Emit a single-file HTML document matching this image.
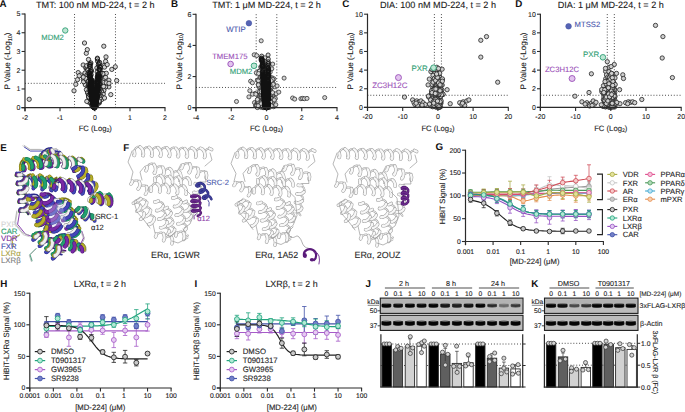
<!DOCTYPE html>
<html><head><meta charset="utf-8"><style>
html,body{margin:0;padding:0;background:#fff;width:685px;height:412px;overflow:hidden}
svg{display:block;font-family:"Liberation Sans", sans-serif;text-rendering:geometricPrecision}
</style></head><body>
<svg width="685" height="412" viewBox="0 0 685 412">
<defs><marker id="f0" markerUnits="userSpaceOnUse" markerWidth="8" markerHeight="8" refX="4" refY="4" overflow="visible"><circle cx="4" cy="4" r="2.15" fill="#d2d2d2" stroke="#1a1a1a" stroke-width="0.8"/></marker><marker id="k1" markerUnits="userSpaceOnUse" markerWidth="8" markerHeight="8" refX="4" refY="4" overflow="visible"><circle cx="4" cy="4" r="2.15" fill="#d2d2d2" stroke="none" stroke-width="0"/></marker><marker id="k1s" markerUnits="userSpaceOnUse" markerWidth="8" markerHeight="8" refX="4" refY="4" overflow="visible"><circle cx="4" cy="4" r="2.15" fill="none" stroke="#111" stroke-width="0.8"/></marker><marker id="f3" markerUnits="userSpaceOnUse" markerWidth="8" markerHeight="8" refX="4" refY="4" overflow="visible"><circle cx="4" cy="4" r="2.05" fill="#d4d4d4" stroke="#282828" stroke-width="0.75"/></marker><marker id="k4" markerUnits="userSpaceOnUse" markerWidth="8" markerHeight="8" refX="4" refY="4" overflow="visible"><circle cx="4" cy="4" r="2.05" fill="#d4d4d4" stroke="none" stroke-width="0"/></marker><marker id="k4s" markerUnits="userSpaceOnUse" markerWidth="8" markerHeight="8" refX="4" refY="4" overflow="visible"><circle cx="4" cy="4" r="2.05" fill="none" stroke="#111" stroke-width="0.8"/></marker><marker id="mc" markerUnits="userSpaceOnUse" markerWidth="8" markerHeight="8" refX="4" refY="4" overflow="visible"><circle cx="4" cy="4" r="2.15" fill="#cfcfcf" stroke="#222" stroke-width="0.8"/></marker><path id="p1" d="M24.0 146.0l6 4l10 0l10 2l6-3l4 3"/><path id="p2" d="M18.0 212.0l-2 12l8 10l6 2"/><path id="p3" d="M36.0 250.0l-6 6l2 6"/><path id="p4" d="M80.0 246.0l4-8l-2-6"/><path id="p5" d="M91.0 190.0l3 8l-4 4"/><path id="p6" d="M20.0 236.0l-8 4l2 8"/><path id="b7" d="M42.8 155.9l0.4-1.3l1.4-1.9l2-1.6l2.3-0.6l2 0.9M51.2 159.1l0.6-1.5l1.5-1.9l2.2-1.4l2.3-0.3l1.8 1.1"/><path id="f7" d="M43.7 154.5l-0.6 1.4l-0.3 0M50.9 151.4l1.2 2.1l0.2 2.6l-0.4 2.2l-0.5 1.2l-0.2-0.3M59.5 155.2l1 2.3l0.1 2.6l-0.5 2"/><path id="b8" d="M21.5 169.5l-0.6-0.9l-0.3-2.4l0.5-3.1l1.5-2.6l2.2-1.1M30.3 168.3l-0.6-1.2l-0.2-2.6l0.7-3.1l1.6-2.4l2.3-0.8M39.1 167.0l-0.6-1.4l-0.1-2.8l0.9-3.1l1.8-2.2l2.4-0.5"/><path id="f8" d="M21.5 166.1l0.4 2.4l-0.4 1M24.8 159.4l2.4 0.8l2.1 2.3l1.2 2.8l0.2 2.3l-0.4 0.7M34.1 158.1l2.4 1.1l2 2.4l1 2.9l0.1 2l-0.5 0.4M43.4 156.9l2.4 1.3l1.8 2.6l0.9 2.8l-0.1 1.9l-0.5 0.1"/><path id="b9" d="M46.8 165.8l-0.2-1.5l0.6-2.6l1.5-2.8l2.2-1.8l2.4-0M55.7 166.9l-0.2-1.5l0.6-2.7l1.5-2.7l2.2-1.8l2.4 0M64.6 167.9l-0.2-1.5l0.6-2.7l1.5-2.7l2.3-1.8l2.4 0M73.6 169.0l-0.2-1.5l0.6-2.7l1.6-2.7l2.2-1.8l2.4 0"/><path id="f9" d="M47.8 163.6l-0.4 2l-0.6 0.3M53.3 157.1l2 1.7l1.2 2.9l0.3 2.9l-0.5 2l-0.6 0.3M62.2 158.2l2 1.7l1.2 2.9l0.2 2.9l-0.4 2l-0.6 0.2M71.2 159.2l2 1.7l1.2 2.9l0.2 3l-0.4 1.9l-0.6 0.2M80.2 160.3l2 1.8"/><path id="b10" d="M74.4 171.0l0.5-0.8l1.9-1.2l2.8-0.8l2.7 0.2l2 1.4M79.5 178.3l0.6-0.8l1.9-1.2l2.8-0.8l2.8 0.2l1.8 1.5M84.7 185.7l0.6-0.9l2-1.2l2.8-0.7l2.8 0.3l1.8 1.5"/><path id="f10" d="M77.1 169.5l-1.7 1.3l-0.9 0.2M84.3 169.7l0.5 2.3l-0.9 2.7l-1.7 2.2l-1.8 1.3l-0.8 0.1M89.4 177.2l0.4 2.3l-0.9 2.7l-1.8 2.2l-1.7 1.3l-0.8 0M94.6 184.7l0.4 2.4l-1 2.6l-1.8 2.2l-1.7 1.2"/><path id="b11" d="M24.1 184.3l0.2-2.3l1.1-2.9l2-2.3l2.5-0.8l2.3 1.1M33.3 186.1l-0.4-1.1l0.4-2.5l1.4-2.9l2.2-2.1l2.5-0.3M42.1 187.1l-0.2-1.5l0.6-2.8l1.7-2.8l2.3-1.6l2.4 0.1M51.0 187.9l-0-1.9l0.9-2.9l1.8-2.6l2.4-1.2"/><path id="f11" d="M25.3 181.0l-0.1 2.7l-0.6 1.3l-0.5-0.7M32.1 177.1l1.5 2.6l0.6 3.2l-0.3 2.4l-0.6 0.8M39.4 177.2l2.1 1.6l1.3 2.8l0.4 3.1l-0.5 2.1l-0.6 0.3M49.0 178.5l2 2l1 3l0.1 2.9l-0.5 1.7l-0.6-0.2"/><path id="b12" d="M55.0 187.8l-0.3-1.1l0.5-2.4l1.4-2.7l2.1-1.9l2.4-0.3M63.9 189.0l-0.2-1.2l0.5-2.5l1.5-2.7l2.2-1.8l2.3-0.1M72.8 190.2l-0.2-1.4l0.7-2.5l1.5-2.6l2.3-1.7l2.3 0M81.7 191.4l-0.1-1.5l0.7-2.6l1.7-2.6l2.2-1.5l2.4 0.2"/><path id="f12" d="M55.9 184.9l-0.3 2.2l-0.6 0.7M61.1 179.4l2.1 1.4l1.2 2.7l0.4 2.9l-0.3 2.1l-0.6 0.5M70.3 180.7l2 1.6l1.2 2.7l0.3 2.9l-0.4 2l-0.6 0.3M79.4 182.0l1.9 1.7l1.1 2.8l0.2 2.9l-0.4 1.8l-0.5 0.2M88.5 183.3l1.9 1.9l1 2.8l0.1 2.8"/><path id="b13" d="M16.3 174.1l0.8-0.3l2.1 0l2.5 0.8l2 1.5l0.8 2.1M17.2 183.0l1.1-0.3l2.2 0.2l2.5 0.9l1.9 1.6l0.4 2.1M18.1 191.9l1.3-0.2l2.4 0.3l2.5 1l1.6 1.8l0.2 2.1M19.1 200.8l1.6-0.2l2.4 0.5l2.4 1.1l1.4 1.9l-0.1 2.2M20.2 209.7l1.8-0.1l2.5 0.6l2.3 1.3l1.1 2"/><path id="f13" d="M19.0 174.0l-1.9 0.4l-0.8-0.2M24.5 178.2l-0.8 2.1l-2 1.8l-2.3 0.9l-1.8 0.3l-0.4-0.3M25.3 187.6l-1 2.1l-2.2 1.6l-2.3 0.8l-1.5 0.2l-0.2-0.3M26.1 196.9l-1.3 2l-2.2 1.5l-2.3 0.7l-1.3 0l0.1-0.3M26.8 206.3l-1.5 2l-2.3 1.3l-2.2 0.5l-1.1-0l0.5-0.4"/><path id="b14" d="M29.1 197.2l1.9-0.8l3-0.4l3 0.6l2.1 1.7l0.3 2.5M32.2 205.6l2.1-0.8l3.1-0.2l3 0.8l1.8 1.8l-0 2.5M35.2 214.0l2.3-0.7l3.2-0.1l2.8 1l1.6 2M37.4 223.2l1-0.8l2.6-0.7l3.2 0.1l2.6 1.2l1.3 2.1"/><path id="f14" d="M30.6 197.7l-1.6 0.1l0.1-0.6M39.4 200.8l-1.4 2.6l-2.5 2l-2.4 1l-1.4-0l0.4-0.8M42.2 209.7l-1.6 2.5l-2.6 1.9l-2.3 0.8l-1.1-0.2l0.7-0.7M45.1 216.2l-0.3 2.5l-1.9 2.5l-2.6 1.7l-2.1 0.7l-0.8-0.4M48.0 225.1l-0.6 2.6l-2.1 2.3"/><path id="b15" d="M42.6 195.7l1.1-0.8l2.7-0.5l3.3 0.3l2.7 1.4l1.1 2.2M44.9 204.3l1.4-0.8l2.9-0.4l3.3 0.5l2.5 1.5l0.7 2.4M47.2 212.9l1.7-0.8l3.1-0.3l3.2 0.7l2.2 1.7l0.5 2.4M49.6 221.5l2-0.8l3.1-0.1l3.2 0.8l2 1.9l0.1 2.5M52.1 230.1l2.3-0.7l3.2-0"/><path id="f15" d="M45.7 195.7l-2.3 0.5l-0.8-0.5M53.5 198.4l-0.8 2.6l-2.4 2.2l-2.8 1.4l-2.1 0.3l-0.5-0.5M55.7 207.5l-1.1 2.6l-2.5 2.1l-2.8 1.2l-1.9 0.1l-0.2-0.6M57.9 216.7l-1.4 2.6l-2.7 2l-2.7 1l-1.6-0.1l0.1-0.7M60.0 225.8l-1.7 2.5l-2.7 1.9l-2.6 0.8l-1.4-0.2l0.5-0.7"/><path id="b16" d="M58.3 201.1l1-0.8l2.5-0.7l3.1 0l2.6 1.1l1.2 2.1M61.6 209.3l1.4-0.9l2.7-0.5l3.1 0.2l2.3 1.4l0.8 2.2M65.1 217.5l1.7-0.9l2.9-0.4l3 0.5l2.1 1.6l0.4 2.3M68.6 225.7l2.1-0.8l3-0.3l2.8 0.7l1.8 1.8l0 2.4M71.3 234.7l0.8-0.8"/><path id="f16" d="M61.0 200.6l-2 0.7l-0.7-0.3M68.7 202.8l-0.6 2.6l-1.9 2.3l-2.4 1.6l-1.8 0.5l-0.4-0.5M72.0 211.7l-0.9 2.6l-2.1 2.2l-2.4 1.3l-1.6 0.3l0.1-0.6M75.2 220.6l-1.2 2.6l-2.3 2l-2.3 1.1l-1.2 0.1l0.4-0.7M78.3 229.6l-1.5 2.5l-2.4 1.9l-2.1 0.9l-1-0.2"/><path id="b17" d="M34.4 235.8l1.6-1.6l2.6-1.5l3-0.5l2.2 0.9M40.7 242.8l0.5-1.1l1.9-1.7l2.8-1.3l2.9-0.2l2 1.3M47.2 248.9l0.9-1.4l2.2-1.6l2.9-1.1l2.7 0.2l1.7 1.7M53.8 254.8l1.2-1.5l2.5-1.6l2.9-0.8l2.6 0.5"/><path id="f17" d="M37.0 234.2l-1.6 1.9l-1.1 0.6l0.2-0.9M43.9 233.2l1 2.3l-0.4 2.9l-1.4 2.7l-1.6 1.6l-0.8 0.2M50.8 239.9l0.6 2.5l-0.7 3l-1.5 2.5l-1.5 1.2l-0.5-0.2M57.6 246.6l0.3 2.7l-1 3l-1.6 2.2l-1.3 0.9l-0.2-0.6"/><path id="b18" d="M57.1 240.4l0.4-1.1l1.5-1.9l2.4-1.6l2.6-0.5l2.1 1M64.7 245.0l0.8-1.5l1.9-1.8l2.5-1.3l2.5-0.1l1.7 1.5M72.4 249.4l1.2-1.7l2.2-1.8l2.6-0.9l2.3 0.5"/><path id="f18" d="M58.8 238.4l-1 1.7l-0.7 0.3M66.1 236.3l1 2.3l-0.2 2.9l-0.9 2.4l-1 1.3l-0.3-0.2M74.2 241.8l0.6 2.6l-0.5 2.8l-1 2.2l-0.8 0.7l-0-0.7M80.7 245.5l1.4 1.9l0.2 2.8"/><path id="b19" d="M77.0 210.5l1.5-1.2l2.4-1.1l2.6-0.2l1.9 1.1M83.1 217.3l0.8-1l2-1.2l2.6-0.8l2.4 0.4l1.4 1.6"/><path id="f19" d="M78.9 208.8l-1.3 1.8l-0.8 0.5l0.3-0.6M85.4 209.1l0.8 2.1l-0.4 2.6l-1.2 2.3l-1.2 1.3l-0.3-0M92.3 216.3l0.2 2.4"/><path id="b20" d="M91.8 201.9l0.1-1.2l0.8-2.1l1.5-2.1l2.1-1.2l2.1 0.2M100.7 203.2l0.2-1.4l0.9-2.2l1.7-2l2.1-1l2 0.5"/><path id="f20" d="M92.4 200.1l-0.2 1.6l-0.3 0.2M98.4 195.5l1.7 1.6l0.9 2.4l0.2 2.4l-0.2 1.4l-0.3-0.1M107.6 197.0l1.6 1.8l0.8 2.5l0.1 2.2l-0.3 1.2"/><g id="Fg" fill="none" stroke-linejoin="round" stroke-linecap="round"><path d="M133.8 155.4l-0.2-1.7l0.5-2.8l1.5-2.6l2.1-1.6l2.3 0.2M142.6 155.6l-0.2-1.8l0.6-2.8l1.5-2.6l2.2-1.5l2.3 0.3M151.3 155.7l-0.1-1.9l0.7-2.8l1.5-2.6l2.2-1.3l2.3 0.4M160.1 155.8l-0.1-2l0.8-2.8l1.6-2.5l2.2-1.2l2.3 0.5M168.9 155.9l-0-2.1l0.8-2.9l1.7-2.4l2.2-1.1l2.3 0.7M177.6 156.1l0-2.2l0.9-2.8l1.7-2.4l2.3-1l2.2 0.9M186.4 156.2l0.1-2.3l0.9-2.8l1.8-2.3l2.3-0.8M195.6 157.2l-0.4-1l0.1-2.4l1-2.8l1.9-2.2l2.3-0.7M204.4 157.4l-0.4-1.1l0.2-2.4l1.1-2.9l1.9-2.1l2.3-0.5" stroke="#a8a8a8" stroke-width="2.0"/><path d="M133.8 155.4l-0.2-1.7l0.5-2.8l1.5-2.6l2.1-1.6l2.3 0.2M142.6 155.6l-0.2-1.8l0.6-2.8l1.5-2.6l2.2-1.5l2.3 0.3M151.3 155.7l-0.1-1.9l0.7-2.8l1.5-2.6l2.2-1.3l2.3 0.4M160.1 155.8l-0.1-2l0.8-2.8l1.6-2.5l2.2-1.2l2.3 0.5M168.9 155.9l-0-2.1l0.8-2.9l1.7-2.4l2.2-1.1l2.3 0.7M177.6 156.1l0-2.2l0.9-2.8l1.7-2.4l2.3-1l2.2 0.9M186.4 156.2l0.1-2.3l0.9-2.8l1.8-2.3l2.3-0.8M195.6 157.2l-0.4-1l0.1-2.4l1-2.8l1.9-2.2l2.3-0.7M204.4 157.4l-0.4-1.1l0.2-2.4l1.1-2.9l1.9-2.1l2.3-0.5" stroke="#ececec" stroke-width="1.0"/><path d="M134.3 151.1l0.4 2.7l-0.3 1.7l-0.6-0.1M140.0 146.9l2 1.8l1.2 2.8l0.3 2.7l-0.4 1.5l-0.5-0.1M149.0 147.2l1.9 1.9l1.1 2.9l0.3 2.6l-0.4 1.4l-0.5-0.3M157.9 147.5l1.9 2l1 2.9l0.2 2.6l-0.4 1.3l-0.5-0.5M166.9 147.8l1.8 2.1l1 2.9l0.1 2.5l-0.4 1.2l-0.5-0.6M175.8 148.2l1.8 2.2l0.9 2.9l0.1 2.4l-0.5 1.1l-0.5-0.7M184.8 148.5l1.7 2.3l0.9 2.9l-0 2.3l-0.5 1l-0.5-0.9M191.5 147.9l2.2 1l1.7 2.3l0.8 2.9l-0.1 2.3l-0.5 0.8M200.5 148.2l2.2 1.1l1.6 2.4l0.7 2.9l-0.1 2.2l-0.5 0.7M209.5 148.4l2.2 1.2" stroke="#9e9e9e" stroke-width="3.4"/><path d="M134.3 151.1l0.4 2.7l-0.3 1.7l-0.6-0.1M140.0 146.9l2 1.8l1.2 2.8l0.3 2.7l-0.4 1.5l-0.5-0.1M149.0 147.2l1.9 1.9l1.1 2.9l0.3 2.6l-0.4 1.4l-0.5-0.3M157.9 147.5l1.9 2l1 2.9l0.2 2.6l-0.4 1.3l-0.5-0.5M166.9 147.8l1.8 2.1l1 2.9l0.1 2.5l-0.4 1.2l-0.5-0.6M175.8 148.2l1.8 2.2l0.9 2.9l0.1 2.4l-0.5 1.1l-0.5-0.7M184.8 148.5l1.7 2.3l0.9 2.9l-0 2.3l-0.5 1l-0.5-0.9M191.5 147.9l2.2 1l1.7 2.3l0.8 2.9l-0.1 2.3l-0.5 0.8M200.5 148.2l2.2 1.1l1.6 2.4l0.7 2.9l-0.1 2.2l-0.5 0.7M209.5 148.4l2.2 1.2" stroke="#f7f7f7" stroke-width="2.3"/><path d="M145.7 170.5l0.3-1.7l1.3-2.4l2.1-2.1l2.4-0.8l2.1 0.9M154.2 172.7l0.5-2l1.5-2.4l2.2-1.9l2.4-0.4l2 1.3M162.6 174.8l0.7-2.1l1.7-2.5l2.3-1.6l2.3-0M171.2 178.1l-0-1.2l0.9-2.3l1.8-2.4l2.4-1.3l2.3 0.3M179.5 180.4l0.2-1.5l1.1-2.4" stroke="#a8a8a8" stroke-width="2.0"/><path d="M145.7 170.5l0.3-1.7l1.3-2.4l2.1-2.1l2.4-0.8l2.1 0.9M154.2 172.7l0.5-2l1.5-2.4l2.2-1.9l2.4-0.4l2 1.3M162.6 174.8l0.7-2.1l1.7-2.5l2.3-1.6l2.3-0M171.2 178.1l-0-1.2l0.9-2.3l1.8-2.4l2.4-1.3l2.3 0.3M179.5 180.4l0.2-1.5l1.1-2.4" stroke="#ececec" stroke-width="1.0"/><path d="M147.1 166.6l-0.3 2.7l-0.7 1.4l-0.4-0.2M153.9 164.4l1.3 2.3l0.4 3l-0.4 2.5l-0.7 1.1l-0.3-0.6M162.7 167.2l1.1 2.6l0.2 2.9l-0.5 2.2l-0.7 0.8l-0.2-0.9M169.7 168.6l1.8 1.6l0.9 2.7l0 2.9l-0.6 2l-0.6 0.4M178.6 171.2l1.6 1.9l0.7 2.8l-0.1 2.8l-0.7 1.7l-0.5 0" stroke="#9e9e9e" stroke-width="3.4"/><path d="M147.1 166.6l-0.3 2.7l-0.7 1.4l-0.4-0.2M153.9 164.4l1.3 2.3l0.4 3l-0.4 2.5l-0.7 1.1l-0.3-0.6M162.7 167.2l1.1 2.6l0.2 2.9l-0.5 2.2l-0.7 0.8l-0.2-0.9M169.7 168.6l1.8 1.6l0.9 2.7l0 2.9l-0.6 2l-0.6 0.4M178.6 171.2l1.6 1.9l0.7 2.8l-0.1 2.8l-0.7 1.7l-0.5 0" stroke="#f7f7f7" stroke-width="2.3"/><path d="M181.0 168.4l0.6-1.5l1.6-2l2.4-1.6l2.4-0.4l1.9 1.2M188.9 172.2l0.8-1.7l1.7-2l2.4-1.4l2.4-0.1l1.8 1.4M196.8 175.9l0.9-1.8l1.9-2l2.5-1.2l2.3 0.1l1.6 1.6" stroke="#a8a8a8" stroke-width="2.0"/><path d="M181.0 168.4l0.6-1.5l1.6-2l2.4-1.6l2.4-0.4l1.9 1.2M188.9 172.2l0.8-1.7l1.7-2l2.4-1.4l2.4-0.1l1.8 1.4M196.8 175.9l0.9-1.8l1.9-2l2.5-1.2l2.3 0.1l1.6 1.6" stroke="#ececec" stroke-width="1.0"/><path d="M182.9 164.9l-0.7 2.5l-0.8 1.2l-0.4-0.2M189.9 164.1l0.9 2.4l-0.1 2.8l-0.7 2.3l-0.8 1.1l-0.3-0.5M197.9 168.4l0.7 2.5l-0.2 2.8l-0.8 2.2l-0.8 0.8l-0-0.7M206.0 172.6l0.6 2.6l-0.4 2.8" stroke="#9e9e9e" stroke-width="3.4"/><path d="M182.9 164.9l-0.7 2.5l-0.8 1.2l-0.4-0.2M189.9 164.1l0.9 2.4l-0.1 2.8l-0.7 2.3l-0.8 1.1l-0.3-0.5M197.9 168.4l0.7 2.5l-0.2 2.8l-0.8 2.2l-0.8 0.8l-0-0.7M206.0 172.6l0.6 2.6l-0.4 2.8" stroke="#f7f7f7" stroke-width="2.3"/><path d="M130.8 184.0l0.7-1.1l1.7-1.4l2.2-1.1l2.2-0l1.6 1.1M138.0 189.0l0.8-1.1l1.6-1.5l2.3-1l2.2 0l1.6 1.2" stroke="#a8a8a8" stroke-width="2.0"/><path d="M130.8 184.0l0.7-1.1l1.7-1.4l2.2-1.1l2.2-0l1.6 1.1M138.0 189.0l0.8-1.1l1.6-1.5l2.3-1l2.2 0l1.6 1.2" stroke="#ececec" stroke-width="1.0"/><path d="M132.5 181.0l-0.8 2.1l-0.7 1l-0.2-0.1M139.2 181.5l0.7 2.1l-0.2 2.5l-0.8 2l-0.7 1l-0.2-0.2M146.5 186.6l0.7 2.1l-0.3 2.5l-0.7 2l-0.8 1" stroke="#9e9e9e" stroke-width="3.4"/><path d="M132.5 181.0l-0.8 2.1l-0.7 1l-0.2-0.1M139.2 181.5l0.7 2.1l-0.2 2.5l-0.8 2l-0.7 1l-0.2-0.2M146.5 186.6l0.7 2.1l-0.3 2.5l-0.7 2l-0.8 1" stroke="#f7f7f7" stroke-width="2.3"/><path d="M150.7 191.1l-0-1.6l0.7-2.4l1.5-2.4l2-1.3l2.2 0.2M159.4 191.8l-0-1.6l0.7-2.5l1.6-2.3l2-1.3l2.2 0.3M168.2 192.5l0-1.7l0.8-2.4l1.5-2.3l2.1-1.3l2.2 0.4M176.9 193.1l0-1.7l0.8-2.5l1.6-2.3l2.2-1.1l2.1 0.4" stroke="#a8a8a8" stroke-width="2.0"/><path d="M150.7 191.1l-0-1.6l0.7-2.4l1.5-2.4l2-1.3l2.2 0.2M159.4 191.8l-0-1.6l0.7-2.5l1.6-2.3l2-1.3l2.2 0.3M168.2 192.5l0-1.7l0.8-2.4l1.5-2.3l2.1-1.3l2.2 0.4M176.9 193.1l0-1.7l0.8-2.5l1.6-2.3l2.2-1.1l2.1 0.4" stroke="#ececec" stroke-width="1.0"/><path d="M151.1 187.2l0.3 2.5l-0.3 1.5l-0.4-0M157.1 183.7l1.8 1.7l1 2.6l0.3 2.5l-0.3 1.5l-0.4-0.2M165.9 184.4l1.8 1.8l1 2.6l0.2 2.4l-0.3 1.4l-0.4-0.2M174.8 185.2l1.7 1.8l1 2.7l0.2 2.4l-0.3 1.3l-0.4-0.3M183.6 186.0l1.7 1.9l0.9 2.6l0.2 2.4l-0.4 1.3" stroke="#9e9e9e" stroke-width="3.4"/><path d="M151.1 187.2l0.3 2.5l-0.3 1.5l-0.4-0M157.1 183.7l1.8 1.7l1 2.6l0.3 2.5l-0.3 1.5l-0.4-0.2M165.9 184.4l1.8 1.8l1 2.6l0.2 2.4l-0.3 1.4l-0.4-0.2M174.8 185.2l1.7 1.8l1 2.7l0.2 2.4l-0.3 1.3l-0.4-0.3M183.6 186.0l1.7 1.9l0.9 2.6l0.2 2.4l-0.4 1.3" stroke="#f7f7f7" stroke-width="2.3"/><path d="M137.5 200.5l1.3-0.7l2.3-0.6l2.7 0.1l2.1 1.1l0.9 1.9M141.3 208.4l1.3-0.7l2.3-0.6l2.7 0.1l2.1 1.1l0.9 2M145.1 216.3l1.3-0.7l2.4-0.6l2.6 0.2l2.1 1.1l0.9 1.9M148.9 224.2l1.3-0.7" stroke="#a8a8a8" stroke-width="2.0"/><path d="M137.5 200.5l1.3-0.7l2.3-0.6l2.7 0.1l2.1 1.1l0.9 1.9M141.3 208.4l1.3-0.7l2.3-0.6l2.7 0.1l2.1 1.1l0.9 2M145.1 216.3l1.3-0.7l2.4-0.6l2.6 0.2l2.1 1.1l0.9 1.9M148.9 224.2l1.3-0.7" stroke="#ececec" stroke-width="1.0"/><path d="M140.9 198.8l-1.9 1.5l-1.4 0.5l-0.1-0.3M146.8 202.3l-0.5 2.3l-1.6 2.2l-1.9 1.4l-1.3 0.5l-0.2-0.3M150.6 210.2l-0.5 2.3l-1.6 2.2l-1.9 1.4l-1.4 0.5l-0.1-0.3M154.4 218.2l-0.6 2.3l-1.6 2.2l-1.9 1.4l-1.3 0.5l-0.1-0.4" stroke="#9e9e9e" stroke-width="3.4"/><path d="M140.9 198.8l-1.9 1.5l-1.4 0.5l-0.1-0.3M146.8 202.3l-0.5 2.3l-1.6 2.2l-1.9 1.4l-1.3 0.5l-0.2-0.3M150.6 210.2l-0.5 2.3l-1.6 2.2l-1.9 1.4l-1.4 0.5l-0.1-0.3M154.4 218.2l-0.6 2.3l-1.6 2.2l-1.9 1.4l-1.3 0.5l-0.1-0.4" stroke="#f7f7f7" stroke-width="2.3"/><path d="M154.8 201.8l1.5-0.4l2.5-0l2.6 0.8l1.7 1.6l0.3 2.2M156.9 210.3l1.8-0.4l2.6 0.2l2.4 1l1.5 1.7l-0.1 2.2M159.1 218.8l2-0.3l2.6 0.3l2.4 1.1l1.2 1.9M160.5 227.7l0.9-0.5l2.2-0.2l2.7 0.5l2.2 1.3l0.8 2" stroke="#a8a8a8" stroke-width="2.0"/><path d="M154.8 201.8l1.5-0.4l2.5-0l2.6 0.8l1.7 1.6l0.3 2.2M156.9 210.3l1.8-0.4l2.6 0.2l2.4 1l1.5 1.7l-0.1 2.2M159.1 218.8l2-0.3l2.6 0.3l2.4 1.1l1.2 1.9M160.5 227.7l0.9-0.5l2.2-0.2l2.7 0.5l2.2 1.3l0.8 2" stroke="#ececec" stroke-width="1.0"/><path d="M158.4 200.9l-2.2 1l-1.5 0.2l0-0.4M163.3 206.0l-1.2 2.2l-2.2 1.6l-2.1 0.9l-1.2 0l0.3-0.4M165.2 215.0l-1.5 2.1l-2.2 1.5l-2 0.7l-1-0.1l0.7-0.4M167.3 221.8l-0.4 2.2l-1.7 2l-2.2 1.4l-1.9 0.5l-0.6-0.2M169.3 230.8l-0.7 2.2l-1.8 1.9l-2.3 1.3" stroke="#9e9e9e" stroke-width="3.4"/><path d="M158.4 200.9l-2.2 1l-1.5 0.2l0-0.4M163.3 206.0l-1.2 2.2l-2.2 1.6l-2.1 0.9l-1.2 0l0.3-0.4M165.2 215.0l-1.5 2.1l-2.2 1.5l-2 0.7l-1-0.1l0.7-0.4M167.3 221.8l-0.4 2.2l-1.7 2l-2.2 1.4l-1.9 0.5l-0.6-0.2M169.3 230.8l-0.7 2.2l-1.8 1.9l-2.3 1.3" stroke="#f7f7f7" stroke-width="2.3"/><path d="M172.7 197.7l1.5-0.4l2.4 0l2.6 0.9l1.7 1.6l0.3 2.1M174.6 206.3l1.6-0.4l2.5 0.1l2.5 1l1.6 1.7l0.2 2.1M176.5 214.9l1.8-0.3l2.5 0.2l2.5 1l1.4 1.7l-0 2.2M178.4 223.4l1.9-0.3l2.6 0.3l2.4 1.1l1.3 1.8l-0.3 2.2" stroke="#a8a8a8" stroke-width="2.0"/><path d="M172.7 197.7l1.5-0.4l2.4 0l2.6 0.9l1.7 1.6l0.3 2.1M174.6 206.3l1.6-0.4l2.5 0.1l2.5 1l1.6 1.7l0.2 2.1M176.5 214.9l1.8-0.3l2.5 0.2l2.5 1l1.4 1.7l-0 2.2M178.4 223.4l1.9-0.3l2.6 0.3l2.4 1.1l1.3 1.8l-0.3 2.2" stroke="#ececec" stroke-width="1.0"/><path d="M176.4 197.0l-2.2 1l-1.5 0.1l0-0.3M181.2 201.9l-1.2 2.1l-2.1 1.7l-2.2 0.9l-1.3 0.1l0.1-0.4M182.9 210.8l-1.3 2.1l-2.2 1.6l-2.1 0.8l-1.2-0l0.3-0.4M184.6 219.7l-1.5 2.1l-2.2 1.5l-2.1 0.6l-1-0l0.5-0.4M186.3 228.5l-1.6 2" stroke="#9e9e9e" stroke-width="3.4"/><path d="M176.4 197.0l-2.2 1l-1.5 0.1l0-0.3M181.2 201.9l-1.2 2.1l-2.1 1.7l-2.2 0.9l-1.3 0.1l0.1-0.4M182.9 210.8l-1.3 2.1l-2.2 1.6l-2.1 0.8l-1.2-0l0.3-0.4M184.6 219.7l-1.5 2.1l-2.2 1.5l-2.1 0.6l-1-0l0.5-0.4M186.3 228.5l-1.6 2" stroke="#f7f7f7" stroke-width="2.3"/><path d="M195.3 183.5l1.4 0.2l2.1 1l1.9 1.6l0.8 2.1l-0.5 1.9M194.2 192.2l1.6 0.4l2.1 1.1l1.7 1.8l0.6 2l-0.8 1.9M193.1 200.9l1.8 0.5l2.1 1.3l1.5 1.9l0.3 2M191.1 209.7l1 0l1.9 0.7l2.1 1.5l1.3 1.9" stroke="#a8a8a8" stroke-width="2.0"/><path d="M195.3 183.5l1.4 0.2l2.1 1l1.9 1.6l0.8 2.1l-0.5 1.9M194.2 192.2l1.6 0.4l2.1 1.1l1.7 1.8l0.6 2l-0.8 1.9M193.1 200.9l1.8 0.5l2.1 1.3l1.5 1.9l0.3 2M191.1 209.7l1 0l1.9 0.7l2.1 1.5l1.3 1.9" stroke="#ececec" stroke-width="1.0"/><path d="M198.7 183.8l-2.2 0.2l-1.3-0.2l0.1-0.3M201.0 190.4l-1.8 1.5l-2.4 0.7l-2 0.1l-1-0.3l0.4-0.1M199.4 199.4l-2 1.3l-2.4 0.6l-1.9-0l-0.7-0.3l0.8-0.1M198.8 206.7l-1.1 1.8l-2.2 1.2l-2.4 0.4l-1.6-0.1l-0.4-0.3" stroke="#9e9e9e" stroke-width="3.4"/><path d="M198.7 183.8l-2.2 0.2l-1.3-0.2l0.1-0.3M201.0 190.4l-1.8 1.5l-2.4 0.7l-2 0.1l-1-0.3l0.4-0.1M199.4 199.4l-2 1.3l-2.4 0.6l-1.9-0l-0.7-0.3l0.8-0.1M198.8 206.7l-1.1 1.8l-2.2 1.2l-2.4 0.4l-1.6-0.1l-0.4-0.3" stroke="#f7f7f7" stroke-width="2.3"/><path d="M155.5 236.8l0.6-1.2l1.4-1.6l2-1.2l2.2-0.3l1.7 1M163.6 240.4l0.7-1.3l1.6-1.6l2.1-1.1l2-0.1l1.6 1.2" stroke="#a8a8a8" stroke-width="2.0"/><path d="M155.5 236.8l0.6-1.2l1.4-1.6l2-1.2l2.2-0.3l1.7 1M163.6 240.4l0.7-1.3l1.6-1.6l2.1-1.1l2-0.1l1.6 1.2" stroke="#ececec" stroke-width="1.0"/><path d="M156.5 233.7l-0.4 2.1l-0.5 1.1l-0.1-0.1M163.4 233.5l0.9 2l0.2 2.4l-0.5 1.9l-0.4 0.9l-0.1-0.3M171.6 237.5l0.8 2.1l0 2.4l-0.5 1.8" stroke="#9e9e9e" stroke-width="3.4"/><path d="M156.5 233.7l-0.4 2.1l-0.5 1.1l-0.1-0.1M163.4 233.5l0.9 2l0.2 2.4l-0.5 1.9l-0.4 0.9l-0.1-0.3M171.6 237.5l0.8 2.1l0 2.4l-0.5 1.8" stroke="#f7f7f7" stroke-width="2.3"/><path d="M175.7 235.6l0.6-1.1l1.4-1.5l1.9-1.2l2.1-0.2l1.6 1M183.7 239.2l0.7-1.2l1.5-1.5l2-1" stroke="#a8a8a8" stroke-width="2.0"/><path d="M175.7 235.6l0.6-1.1l1.4-1.5l1.9-1.2l2.1-0.2l1.6 1M183.7 239.2l0.7-1.2l1.5-1.5l2-1" stroke="#ececec" stroke-width="1.0"/><path d="M176.5 232.7l-0.3 2l-0.4 1.1l-0.1-0.1M183.3 232.6l0.9 1.9l0.2 2.2l-0.3 1.9l-0.4 0.9l0-0.3" stroke="#9e9e9e" stroke-width="3.4"/><path d="M176.5 232.7l-0.3 2l-0.4 1.1l-0.1-0.1M183.3 232.6l0.9 1.9l0.2 2.2l-0.3 1.9l-0.4 0.9l0-0.3" stroke="#f7f7f7" stroke-width="2.3"/><path d="M154.9 181.3l0.2-1.2l0.7-1.9l1.4-1.8l1.8-1.1l1.9 0.2M163.6 182.0l0.2-1.3l0.7-1.9l1.4-1.8l1.9-1l1.9 0.3M172.4 182.7l0.2-1.3l0.8-1.9l1.4-1.8l1.8-0.9l1.9 0.3M181.2 183.3l0.2-1.3l0.8-2l1.5-1.7l1.8-0.9l1.9 0.3" stroke="#a8a8a8" stroke-width="2.0"/><path d="M154.9 181.3l0.2-1.2l0.7-1.9l1.4-1.8l1.8-1.1l1.9 0.2M163.6 182.0l0.2-1.3l0.7-1.9l1.4-1.8l1.9-1l1.9 0.3M172.4 182.7l0.2-1.3l0.8-1.9l1.4-1.8l1.8-0.9l1.9 0.3M181.2 183.3l0.2-1.3l0.8-2l1.5-1.7l1.8-0.9l1.9 0.3" stroke="#ececec" stroke-width="1.0"/><path d="M154.6 178.1l0.4 2l-0 1.2l-0.2-0M160.8 175.5l1.6 1.4l1 2l0.4 2l-0.1 1.1l-0.1-0M169.7 176.3l1.6 1.4l1 2.1l0.3 1.9l-0.1 1.1l-0.1-0.1M178.5 177.0l1.5 1.5l1 2l0.3 2l-0 1l-0.2-0.2M187.4 177.8l1.5 1.5l1 2.1l0.3 1.9l-0.1 1" stroke="#9e9e9e" stroke-width="3.4"/><path d="M154.6 178.1l0.4 2l-0 1.2l-0.2-0M160.8 175.5l1.6 1.4l1 2l0.4 2l-0.1 1.1l-0.1-0M169.7 176.3l1.6 1.4l1 2.1l0.3 1.9l-0.1 1.1l-0.1-0.1M178.5 177.0l1.5 1.5l1 2l0.3 2l-0 1l-0.2-0.2M187.4 177.8l1.5 1.5l1 2.1l0.3 1.9l-0.1 1" stroke="#f7f7f7" stroke-width="2.3"/><path d="M133.4 203.1l1.2-0.3l2-0.2l2.2 0.5l1.5 1.3l0.4 1.8M137.3 211.0l1.6-0.3l2.1 0.1l2 0.7l1.2 1.5M140.4 219.2l0.9-0.3l1.9-0.2" stroke="#a8a8a8" stroke-width="2.0"/><path d="M133.4 203.1l1.2-0.3l2-0.2l2.2 0.5l1.5 1.3l0.4 1.8M137.3 211.0l1.6-0.3l2.1 0.1l2 0.7l1.2 1.5M140.4 219.2l0.9-0.3l1.9-0.2" stroke="#ececec" stroke-width="1.0"/><path d="M135.6 201.4l-1.4 1.3l-0.9 0.5l0-0M140.7 206.3l-0.7 2l-1.3 1.7l-1.3 1l-0.6 0.3l0.5-0.2M144.2 213.1l0 2l-1 1.9l-1.4 1.5l-1.1 0.7l-0.2 0.1" stroke="#9e9e9e" stroke-width="3.4"/><path d="M135.6 201.4l-1.4 1.3l-0.9 0.5l0-0M140.7 206.3l-0.7 2l-1.3 1.7l-1.3 1l-0.6 0.3l0.5-0.2M144.2 213.1l0 2l-1 1.9l-1.4 1.5l-1.1 0.7l-0.2 0.1" stroke="#f7f7f7" stroke-width="2.3"/><path d="M164.7 208.7l1.2-0.1l1.9 0.3l2 0.9l1.3 1.5l0.1 1.8M166.6 217.3l1.4-0l2 0.4l1.9 1l1 1.6l-0.1 1.9M168.5 225.9l1.6 0l2 0.6l1.8 1.2l0.8 1.6M169.7 234.6l0.8-0.1l1.8 0.1" stroke="#a8a8a8" stroke-width="2.0"/><path d="M164.7 208.7l1.2-0.1l1.9 0.3l2 0.9l1.3 1.5l0.1 1.8M166.6 217.3l1.4-0l2 0.4l1.9 1l1 1.6l-0.1 1.9M168.5 225.9l1.6 0l2 0.6l1.8 1.2l0.8 1.6M169.7 234.6l0.8-0.1l1.8 0.1" stroke="#ececec" stroke-width="1.0"/><path d="M167.3 207.5l-1.6 0.9l-1.1 0.4l0.1-0.1M171.2 213.1l-1 1.8l-1.6 1.4l-1.5 0.8l-0.9 0.2l0.4-0M172.8 222.2l-1.2 1.8l-1.6 1.2l-1.5 0.7l-0.6 0.1l0.6-0.1M174.7 229.3l-0.4 1.9l-1.3 1.7l-1.7 1.1l-1.3 0.5l-0.3 0.1" stroke="#9e9e9e" stroke-width="3.4"/><path d="M167.3 207.5l-1.6 0.9l-1.1 0.4l0.1-0.1M171.2 213.1l-1 1.8l-1.6 1.4l-1.5 0.8l-0.9 0.2l0.4-0M172.8 222.2l-1.2 1.8l-1.6 1.2l-1.5 0.7l-0.6 0.1l0.6-0.1M174.7 229.3l-0.4 1.9l-1.3 1.7l-1.7 1.1l-1.3 0.5l-0.3 0.1" stroke="#f7f7f7" stroke-width="2.3"/><path d="M183.8 202.6l1.1 0l1.8 0.4l1.8 0.9l1.2 1.4l0.2 1.8M185.5 211.3l1.2 0l1.9 0.5l1.8 1l1 1.5l0 1.8M187.2 219.9l1.4 0.1l1.9 0.5" stroke="#a8a8a8" stroke-width="2.0"/><path d="M183.8 202.6l1.1 0l1.8 0.4l1.8 0.9l1.2 1.4l0.2 1.8M185.5 211.3l1.2 0l1.9 0.5l1.8 1l1 1.5l0 1.8M187.2 219.9l1.4 0.1l1.9 0.5" stroke="#ececec" stroke-width="1.0"/><path d="M186.3 201.4l-1.5 0.9l-1 0.4l0.1-0M189.9 207.1l-0.9 1.7l-1.5 1.4l-1.4 0.8l-0.9 0.3l0.3-0M191.4 216.1l-1 1.7l-1.5 1.3l-1.5 0.7l-0.6 0.2l0.4-0" stroke="#9e9e9e" stroke-width="3.4"/><path d="M186.3 201.4l-1.5 0.9l-1 0.4l0.1-0M189.9 207.1l-0.9 1.7l-1.5 1.4l-1.4 0.8l-0.9 0.3l0.3-0M191.4 216.1l-1 1.7l-1.5 1.3l-1.5 0.7l-0.6 0.2l0.4-0" stroke="#f7f7f7" stroke-width="2.3"/><path d="M132.0 151.0l-4 11l5 10l-2 8" stroke="#9a9a9a" stroke-width="0.7"/><path d="M210.0 153.0l2 7l-7 6" stroke="#9a9a9a" stroke-width="0.7"/><path d="M145.0 166.0l-5 6l2 8" stroke="#9a9a9a" stroke-width="0.7"/><path d="M147.0 191.0l2-4" stroke="#9a9a9a" stroke-width="0.7"/><path d="M153.0 224.0l2 9" stroke="#9a9a9a" stroke-width="0.7"/><path d="M166.0 234.0l4 3l5-5" stroke="#9a9a9a" stroke-width="0.7"/><path d="M205.0 176.0l1 6l-7 0" stroke="#9a9a9a" stroke-width="0.7"/><path d="M172.0 241.0l6 2l10-5" stroke="#9a9a9a" stroke-width="0.7"/><path d="M140.0 197.0l-6 5l3 10l7 8l6 8" stroke="#9a9a9a" stroke-width="0.7"/><path d="M183.0 229.0l3 4" stroke="#9a9a9a" stroke-width="0.7"/><path d="M186.0 190.0l6 6l2 18l-4 10l-6 4" stroke="#9a9a9a" stroke-width="0.7"/><path d="M181.0 164.0l-3 6" stroke="#9a9a9a" stroke-width="0.7"/></g></defs>
<rect width="685" height="412" fill="#fff"/>
<line x1="74.53" y1="14" x2="74.53" y2="107.7" stroke="#222" stroke-width="0.9" stroke-dasharray="0.9 2" stroke-linecap="butt"/>
<line x1="115.47" y1="14" x2="115.47" y2="107.7" stroke="#222" stroke-width="0.9" stroke-dasharray="0.9 2" stroke-linecap="butt"/>
<line x1="25" y1="83.34" x2="165" y2="83.34" stroke="#222" stroke-width="0.9" stroke-dasharray="0.9 2" stroke-linecap="butt"/>
<path d="M92.9 104.6L94.4 107.5L99.4 102.9L96.9 81.4L88.7 95.0L91.0 82.2L94.5 107.1L95.2 105.1L116.7 80.6L96.5 97.2L93.2 100.1L98.5 99.9L97.6 88.5L95.5 104.1L93.1 104.3L97.3 97.9L93.1 104.1L86.0 68.3L100.8 82.9L87.0 85.9L93.3 104.4L93.5 104.6L93.5 104.3L93.0 105.0L88.7 81.7L97.2 100.6L94.6 107.1L94.9 107.0L99.2 89.8L100.6 89.1L97.7 82.9L99.1 66.6L96.0 101.8L90.6 78.8L95.6 105.1L94.4 107.3L94.7 106.7L93.5 100.4L92.1 95.1L97.2 95.8L97.9 92.1L92.2 90.0L96.7 100.5L93.4 106.3L92.4 103.6L96.5 98.0L94.2 107.5L93.0 101.1L94.7 106.9L92.5 100.5L93.5 102.8L88.2 82.7L95.4 105.6L94.7 104.5L91.8 100.2L92.8 106.1L98.3 98.3L99.8 90.4L90.7 97.3L96.5 103.7L97.2 90.9L94.2 107.5L90.6 97.1L92.0 97.1L92.9 104.2L92.4 91.5L105.6 61.4L91.0 100.5L95.9 103.2L95.1 105.7L99.4 99.2L93.3 103.3L90.7 84.8L98.5 74.7L94.0 106.9L94.6 106.5L95.1 105.6L98.2 85.7L96.0 96.9L96.8 88.0L99.9 95.8L94.9 106.1L95.2 104.9L91.3 97.4L93.0 105.1L88.8 90.5L98.8 77.2L97.3 88.0L93.0 100.8L89.6 72.7L92.2 87.2L92.1 96.7L91.5 93.1L94.9 106.3L94.8 105.6L104.0 65.5L99.1 92.1L102.7 86.8L98.5 102.7L92.3 106.2L89.4 98.4L90.5 78.8L91.3 94.9L92.6 103.3L101.7 97.0L85.2 73.3L85.1 83.0L95.1 105.3L88.9 91.0L96.1 103.9L92.9 102.9L90.1 97.2L85.8 83.9L93.9 106.8L89.8 97.7L89.3 99.7L91.6 99.3L95.1 105.7L94.8 106.2L88.9 72.4L93.6 106.0L95.7 103.0L98.0 91.2L96.6 96.6L94.7 105.5L91.2 88.8L90.7 96.9L96.6 94.0L92.1 98.1L102.6 91.5L102.6 85.4L91.1 90.7L96.6 102.4L94.0 106.6L97.0 95.5L92.2 101.4L97.3 102.9L91.7 93.9L93.2 106.1L94.9 105.5L95.0 106.2L95.4 104.3L90.8 94.1L86.3 67.6L92.9 103.5L91.9 94.4L90.2 98.2L106.0 56.9L102.4 88.3L93.0 105.9L91.0 81.0L85.3 84.8L96.8 103.5L97.8 90.5L92.5 104.5L95.3 106.3L95.1 104.9L96.7 90.6L87.7 66.6L96.3 106.1L96.1 102.9L96.6 93.2L95.7 103.1L91.4 89.8L92.3 100.2L87.9 78.3L94.6 105.7L95.2 105.7L98.1 101.3L90.7 92.8L90.4 88.8L104.1 78.3L94.7 105.8L98.5 71.3L95.3 102.4L88.7 80.2L98.2 96.2L99.1 86.4L92.0 102.3L83.2 65.0L97.6 98.8L93.9 106.3L95.3 104.6L95.5 102.2L91.3 94.9L97.6 94.6L89.6 68.6L90.0 67.2L89.0 102.3L104.2 74.5L99.2 75.5L91.9 99.8L99.7 92.1L96.3 100.3L95.7 104.9L95.4 103.6L91.8 97.7L97.4 96.3L97.9 90.7L98.0 93.9L88.3 87.2L95.2 104.0L94.6 107.1L86.0 67.2L94.0 106.2L93.7 103.5L94.0 107.2L94.0 106.4L100.0 93.9L108.9 80.3L96.5 98.6L90.9 89.4L90.8 94.9L90.7 98.8L94.1 107.1L91.3 102.6L92.1 103.6L89.3 93.7L97.4 93.3L99.4 95.4L99.8 93.2L94.1 106.9L98.7 102.3L91.0 93.9L89.5 91.7L92.5 100.8L97.1 100.2L93.3 106.1L91.0 88.7L94.5 106.8L95.7 102.7L94.7 106.0L92.3 98.7L94.5 107.1L92.6 102.7L92.0 104.0L94.1 106.8L97.8 97.2L100.3 68.6L105.5 77.3L101.7 99.5L92.4 103.0L91.8 104.2L93.4 104.8L96.7 88.6L94.8 104.9L94.3 107.7L103.0 84.1L89.3 94.0L98.7 84.8L98.8 78.9L96.4 101.6L99.7 85.9L90.7 96.2L99.9 88.0L100.9 72.8L95.5 99.2L95.0 104.6L98.0 85.2L103.7 89.0L91.8 97.3L101.6 83.1L99.9 97.3L95.0 106.1L98.8 84.6L97.6 93.7L96.3 97.3L92.0 101.4L99.7 95.6L88.6 89.6L93.6 106.4L85.0 73.0L78.2 72.6L95.7 102.4L93.9 106.9L94.8 106.9L98.4 100.1L94.8 103.7L91.4 94.5L94.6 107.0L94.1 107.0L91.3 101.2L93.7 106.4L93.0 103.5L93.0 99.1L93.5 103.9L94.9 105.2L92.3 96.0L95.2 101.2L91.1 80.2L99.3 76.3L91.6 103.9L95.9 106.3L98.5 85.3L100.3 92.4L83.4 79.3L98.2 100.7L93.4 105.3L95.8 99.6L94.8 106.1L95.7 97.5L95.6 104.5L93.5 106.3L96.5 87.9L88.2 77.7L92.3 102.5L87.7 93.1L93.3 106.2L91.9 102.6L93.8 106.2L92.6 101.7L91.1 102.0L89.1 74.6L94.1 107.3L96.7 104.3L91.7 100.0L92.8 98.9L92.0 99.2L103.2 73.5L95.0 105.7L96.9 103.2L92.2 104.4L92.8 101.5L91.4 94.7L100.3 77.8L90.1 72.8L95.7 104.4L94.2 107.5L92.9 104.9L89.4 77.0L90.8 86.4L102.9 92.5L92.4 98.3L97.1 94.7L96.3 98.7L96.4 100.3L96.4 97.0L89.5 87.1L92.9 101.9L96.6 98.6L88.3 85.7L103.4 73.9L91.5 100.6L94.1 107.1L89.4 91.5L95.7 103.5L91.5 97.5L93.8 105.1L88.2 88.9L98.9 87.5L80.7 75.0L96.7 102.3L94.9 105.2L95.3 102.5L87.6 91.6L97.2 91.3L99.5 92.9L94.9 106.1L97.4 104.2L93.6 106.1L99.2 99.2L88.5 95.9L96.2 100.7L95.7 102.9L83.6 81.7L94.0 106.5L93.2 106.0L108.9 86.9L94.5 107.1L90.6 101.6L89.1 83.1L93.7 106.8L92.1 100.2L86.4 89.7L93.7 106.5L98.3 90.8L94.7 106.8L90.8 91.0L95.1 104.0L91.4 89.8L87.9 76.7L95.6 101.6L91.6 100.7L100.1 89.5L95.9 104.2L91.6 96.2L95.2 105.4L99.6 84.8L92.9 105.7L91.1 90.7L92.0 98.9L91.2 96.0L89.7 87.8L90.4 84.9L95.7 102.7L101.4 89.6L93.1 103.5L99.1 96.5L103.2 94.1L106.3 73.3L93.9 105.8L92.3 103.7L96.5 102.7L94.8 106.7L94.9 104.3L101.8 84.8L93.2 102.6L95.9 105.4L87.9 92.5L92.4 106.1L91.9 98.7L92.6 97.1L92.9 105.4L91.6 102.3L95.6 103.4L100.2 96.2L86.0 79.3L96.7 92.0L86.3 53.3L95.2 105.0L97.1 98.0L91.4 99.0L93.6 105.2L91.3 96.6L99.1 94.4L90.7 92.7L95.1 105.7L96.7 84.7L99.6 87.5L96.1 98.7L95.4 105.0L92.6 96.9L101.8 86.9L97.2 99.5L92.3 95.4L88.4 85.3L92.4 99.4L103.9 90.2L100.7 86.0L99.1 75.5L90.7 96.8L92.8 103.6L103.8 82.5L95.4 105.4L98.3 97.0L90.9 84.2L92.1 103.4L94.1 107.5L92.4 103.6L92.6 102.8L87.0 75.0L98.9 75.0L95.0 106.2L90.5 80.4L98.9 90.2L94.6 107.0L96.4 97.7L93.3 105.8L92.6 96.8L91.2 97.3L95.2 103.6L101.4 96.5L99.1 101.5L98.2 98.9L105.6 86.8L95.9 104.3L99.7 91.6L98.2 89.1L95.2 104.1L94.1 107.2L92.9 102.9L90.2 88.0L85.6 78.3L99.6 83.5L94.3 107.5L92.3 101.3L99.2 75.5L98.0 91.9L94.6 106.7L101.5 91.0L92.9 106.2L95.4 103.0L104.5 67.1L100.2 89.6L93.7 105.3L97.5 97.3L103.6 86.5L93.9 107.1L91.3 103.5L99.2 64.6L93.6 105.2L88.4 85.9L95.3 105.4L96.8 98.0L98.0 91.1L92.0 102.2L96.0 84.4L91.9 104.5L99.1 81.1L95.7 100.0L97.0 101.2L98.4 69.2L92.5 103.3L93.1 103.8L95.6 105.1L96.3 103.7L83.2 77.1L98.9 83.0L95.6 103.5L94.2 107.4L96.0 97.1L92.9 104.9L100.2 83.5L94.8 105.6L100.2 95.1L88.8 97.3L94.0 106.3L97.0 101.4L88.6 96.1L91.2 101.1L94.5 106.9L97.2 86.2L97.8 94.4L97.8 91.3L96.1 102.5L98.4 91.4L102.9 73.8L95.3 104.4L96.5 100.5L104.5 98.0L87.0 66.7L94.4 107.5L96.8 100.9L98.2 94.7L93.7 105.6L99.9 89.9L92.2 101.2L94.0 107.1L111.8 69.4L88.8 86.5L94.5 107.4L94.2 107.4L94.4 107.5L91.0 102.6L97.3 97.1L91.3 92.9L88.9 86.9L96.5 100.3L90.2 89.9L95.9 102.0L95.4 106.5L92.6 100.0L93.4 104.9L94.3 107.6L98.0 101.0L92.3 100.8L93.4 106.4L88.4 83.3L93.5 105.6L90.2 67.9L94.5 107.5L92.3 103.2L99.6 83.4L94.0 106.8L96.7 92.0L96.4 103.8L89.3 90.0L97.9 88.4L96.2 102.5L86.8 65.6L99.9 98.5L99.7 93.1L92.3 99.2L96.4 95.7L88.1 73.4L93.8 105.8L94.6 107.0L98.3 96.0L96.6 102.5L95.5 104.9L96.5 100.1L91.0 99.5L98.6 78.8L93.1 104.2L99.1 95.8L94.4 107.5L93.8 105.4L95.9 99.7L95.3 101.9L106.3 82.8L96.7 89.8L92.2 100.9L99.0 101.1L95.1 106.4L88.8 96.9L90.7 90.4L95.9 104.6L86.8 101.4L88.8 83.1L94.0 107.0L29.2 99.3L115.3 66.8L84.5 43.0L103.8 46.2L87.3 49.6L74.0 90.8L77.5 79.6L75.8 84.3L109.0 83.3L110.8 94.6L107.2 64.6L79.2 75.8" fill="none" stroke="none" marker-start="url(#f0)" marker-mid="url(#f0)" marker-end="url(#f0)"/>
<path d="M92.9 101.6L92.5 100.5L91.0 69.7L92.8 101.9L95.0 104.9L93.1 101.2L92.0 96.6L88.5 59.5L99.2 69.0L91.8 92.4L98.7 78.8L97.3 82.0L94.9 105.0L93.1 101.3L94.6 106.5L91.7 91.3L94.9 105.2L94.3 107.7L95.4 101.9L96.5 95.3L98.0 77.4L93.1 103.7L97.4 93.5L93.4 98.0L93.0 96.2L93.0 100.7L92.3 94.7L96.7 94.7L96.5 95.7L99.2 88.8L94.3 107.5L94.9 105.0L92.1 101.2L91.2 91.4L95.5 103.0L94.8 105.1L92.6 92.3L95.7 101.1L90.2 77.2L94.0 106.0L93.1 100.5L93.1 101.9L92.4 92.7L96.4 95.2L95.6 101.4L97.0 90.7L94.6 106.5L90.9 88.2L93.2 103.8L91.4 90.5L95.1 103.0L97.6 90.4L94.9 104.6L92.6 100.8L93.6 103.8L94.8 105.9L91.0 84.5L94.5 106.5L94.7 106.0L93.0 101.5L93.2 103.2L94.6 106.3L92.9 97.2L92.3 97.2L95.8 98.5L94.8 105.8L98.9 79.4L92.8 94.2L89.9 75.5L97.1 95.8L96.3 95.5L92.9 98.5L90.2 83.7L94.1 107.1L89.2 76.2L93.5 104.0L90.8 62.9L93.7 105.1L89.9 64.8L93.6 105.1L97.8 83.9L93.8 104.7L95.5 98.9L92.4 99.8L91.8 95.6L91.3 82.6L96.6 94.3L94.1 106.8L98.3 81.4L90.8 89.9L93.7 105.1L94.4 107.4L97.2 86.7L99.6 76.2L93.4 99.5L91.7 90.8L90.2 76.0L96.4 88.4L94.0 106.5L93.0 99.5L94.0 106.8L89.5 76.2L97.0 96.4L95.2 104.3L94.5 106.8L92.7 93.3L96.2 101.8L98.1 77.6L91.9 88.7L94.2 107.4L93.2 102.5L95.2 104.7L94.2 107.4L93.8 105.8L92.5 95.5L94.1 107.1L93.1 99.9L93.8 105.8L93.9 106.6L95.2 100.9L93.5 100.4L93.3 103.9L98.7 94.0L93.8 105.1L93.8 104.6L96.4 97.7L94.7 105.6L94.4 107.4L94.6 106.2L90.9 88.3L95.1 103.5L97.4 88.8L95.5 101.9L91.3 80.8L94.8 105.5L92.6 95.2L93.7 105.1L94.4 107.0L92.2 89.6L98.5 88.4L94.0 106.7L96.0 98.7L95.8 101.0L97.0 88.1L96.8 91.4L90.5 83.2L94.3 107.7L90.6 64.1L92.9 102.5L95.6 99.8L95.8 96.5L96.6 89.2L93.5 103.4L95.3 104.9L94.4 107.1L97.2 89.6L96.4 82.1L93.4 103.7L94.2 107.4L93.5 103.6L95.7 101.4L96.3 99.0L95.7 102.1L91.8 99.8L97.8 84.9L94.4 107.5L97.6 83.2L97.4 86.7L91.3 88.2L92.0 94.3L91.9 93.9L94.6 105.5L94.4 107.4L94.8 105.3L92.9 97.3L95.4 103.5L98.7 86.3L90.8 87.0L93.8 105.7L94.7 105.5L93.6 106.4L93.7 105.7L97.3 76.9L96.7 88.9L96.2 97.3L93.1 98.2L99.6 62.4L95.0 104.2L92.5 101.0L93.3 104.2L93.7 102.3L99.1 66.3L94.6 105.9L94.4 107.3L89.2 64.3L96.2 99.1L92.4 93.0L90.2 91.5L96.6 100.9L92.8 96.6L96.4 97.5L96.4 92.2L90.2 75.5L94.1 106.3L88.5 81.3L94.2 107.0L96.2 96.2L90.7 86.5L97.8 75.9L93.6 104.5L91.9 90.4L94.0 106.4L95.6 98.2L91.5 86.1L94.3 107.6L91.4 86.1L97.0 90.6L94.6 106.5L93.1 103.1L96.4 94.0L91.4 88.0L93.5 103.4L97.9 74.8L94.1 106.4L97.8 87.4L94.6 106.1L92.9 99.1L93.6 105.1L94.4 107.2L93.4 103.2L93.1 97.1L92.3 97.8L90.6 83.4L94.4 106.9L95.3 103.9L95.7 99.0L91.2 74.8L96.1 98.1L94.2 107.4L90.8 84.7L94.4 107.0L97.1 98.0L95.3 102.3L95.4 99.4L96.8 95.7L96.1 96.6L94.2 107.2L89.9 66.4L92.5 98.2L95.1 104.4L93.4 102.4L96.1 100.0L95.9 98.2L94.4 107.5L98.6 73.9L91.8 94.4L96.3 96.0L93.4 102.4L92.2 97.8L95.1 101.4L93.2 100.4L96.2 97.2L92.4 90.6L94.3 107.6L92.4 96.8L93.6 105.3L93.6 103.7L92.1 91.4L95.9 100.4L92.7 89.0L89.4 94.4L96.0 96.6L96.1 95.2L96.1 100.2L95.0 104.5L97.6 61.2L91.0 89.8L92.2 98.5L92.2 94.1L96.2 96.5L95.0 105.1L96.3 92.5L96.7 95.2L93.7 105.4L92.7 97.3L92.7 94.2L99.0 63.4L96.0 95.2L96.0 101.3L93.5 104.1L93.7 105.7L93.5 104.1L93.5 104.3L94.1 107.0L92.9 103.6L94.9 105.0L94.7 105.9L96.1 97.2L94.2 107.5L95.8 98.1L91.9 92.1L99.9 78.0L91.5 89.6L93.6 104.8L96.3 99.6L92.4 96.2L96.6 99.3L91.5 84.9L90.7 71.9L91.5 87.2L90.6 79.2L94.2 107.4L93.6 104.4L94.8 104.6L90.9 93.4L94.1 106.7L94.2 107.2L95.2 103.1L93.7 105.2L93.2 100.3L94.4 107.1L96.3 96.1L95.6 100.2L97.0 95.7L92.6 101.2L92.5 98.0L99.4 69.9L93.9 105.3L95.5 102.8L95.9 99.0L97.9 85.7L89.7 86.8L93.7 102.4L93.2 103.0L93.8 104.6L94.1 106.7L95.0 104.9L95.7 102.0L95.7 101.1L92.0 90.0L96.2 95.3L91.8 96.6L91.5 89.6L92.8 94.5L91.9 96.9L94.7 106.2L96.6 97.6L89.9 66.2L92.8 101.6L95.9 96.3L94.8 105.9L95.3 102.3L90.2 83.4L97.1 95.3L91.3 81.8L94.7 105.9L97.4 86.8L100.1 73.3L95.7 102.2L95.8 96.5L92.8 100.8L93.0 102.6L98.8 91.0L94.3 107.7L94.0 106.6L89.8 85.7L94.5 106.3L95.4 100.3L92.2 98.0L92.8 102.2L97.3 81.5L94.8 106.1L93.6 104.9L90.5 91.7L92.9 100.7L93.6 105.3L96.8 86.6L93.0 100.8L98.3 75.7L91.5 95.6L93.4 104.1L95.9 97.1L93.7 105.4L92.0 97.4L94.0 106.5L95.3 103.0L90.6 77.9L93.9 105.3L94.0 106.7L93.3 103.5L95.6 98.9L92.7 101.4L93.7 104.0L94.4 107.4L95.8 99.0L93.5 105.6L96.6 83.1L91.9 96.0L98.0 88.5L92.2 96.9L93.8 106.2L94.9 104.0L96.9 67.9L96.8 96.2L93.6 103.5L97.0 88.2L93.9 105.7L92.0 98.0L95.6 103.0L94.5 106.9L97.0 95.2L93.0 101.6L95.1 103.8L95.8 100.4L94.9 105.0L94.2 107.5L92.6 99.5L96.2 96.1L94.7 106.5L95.3 102.4L93.4 104.2L94.3 107.6L90.9 93.6L94.5 106.9L97.0 98.4L94.5 106.9L96.2 96.9L94.9 104.6L97.9 86.8L93.9 105.9L91.5 80.0L95.0 103.2L94.0 106.2L92.4 94.8L96.2 100.2L95.1 105.2L95.6 103.0L93.5 104.4L94.7 105.9L94.9 105.3L99.3 76.3L91.6 99.7L94.3 107.6L95.1 104.0L90.3 77.7L91.1 80.9L98.4 64.4L90.5 76.5L95.7 101.3L91.2 97.0L92.5 98.5L88.0 70.2L91.1 96.1L96.1 98.1L89.6 86.2L95.9 101.0L94.9 104.6L99.2 69.1L93.2 102.6L97.0 89.0L96.2 96.3L93.6 104.9L90.1 79.3L97.1 83.3L91.2 86.7L93.6 102.7L96.4 96.4L97.3 92.1L92.3 97.1L94.2 107.4L93.6 105.2L96.6 90.7L89.6 74.7L97.0 95.9L94.4 107.6L91.8 92.2L100.1 69.9L94.8 106.2L92.7 98.9L93.4 102.3L93.3 101.3L94.7 106.0L93.8 106.3L95.9 100.1L98.0 82.5L95.8 99.4L91.1 89.8L92.1 80.4L92.5 98.6L96.7 93.3L93.8 104.4L91.7 99.9L94.5 106.4L91.8 85.5L92.4 91.6L95.8 102.2L93.7 104.7L93.1 102.9L95.1 104.6L92.9 101.1L93.2 99.7L93.4 102.8L96.4 100.9L94.4 107.2L92.1 90.5L93.6 104.7L96.1 100.2L98.8 73.5L91.2 91.6L94.9 104.3L93.6 105.2L96.5 97.4L95.0 103.0L99.2 84.2L96.4 102.1L93.3 101.7L93.1 101.8L95.6 103.5L94.9 103.6L97.1 79.0L92.0 90.9L95.0 104.2L90.8 87.5L90.3 79.5L95.5 98.8L95.7 101.6L90.5 93.6L99.3 79.8L91.5 94.8L91.6 91.0L96.2 100.2L94.7 105.6L93.9 106.2L94.2 107.1L95.0 105.6L93.9 106.4L94.0 106.1L89.8 72.8L90.2 87.3L95.3 100.8L92.9 99.4L95.3 101.7L96.2 89.6L93.3 104.1L95.2 104.9L100.1 67.3L96.0 99.5L98.4 74.4L98.0 82.7L95.7 98.6L94.0 106.7L91.8 97.2L91.1 92.2L95.3 102.5L95.4 102.7L93.9 106.1L97.3 97.0L92.9 100.9L95.9 92.2L94.4 107.4L94.2 107.4L94.3 107.7L94.0 106.8L92.1 80.7L94.6 106.1L96.4 89.4L95.9 99.2L93.6 104.7L99.0 77.2L92.1 93.0L90.5 88.1L95.5 101.4L91.5 84.6L95.9 96.5L95.2 98.5L95.6 98.9L93.2 102.5L94.5 106.0L92.3 95.0L97.9 77.4L95.6 98.0L95.5 98.8L90.3 71.2L95.9 97.7L99.0 83.7L97.3 90.0L95.5 98.0L94.3 107.7L93.4 104.3L96.5 100.9L95.3 103.8L94.9 105.5L93.2 104.7L98.1 78.8L91.8 91.0L94.3 107.5L93.1 101.2L98.3 93.7L96.6 85.2L97.1 89.4L95.5 98.6L91.0 85.9L100.2 67.1L95.4 102.1L94.0 106.7L94.4 107.5L93.4 104.3L95.8 103.3L95.2 104.6L93.5 104.1L94.2 107.4L95.5 102.6L95.4 102.0L93.6 106.3L95.9 102.9L96.5 93.8L93.3 102.7L99.4 84.3L91.5 71.0L91.7 89.1L91.7 96.1L92.3 94.3L96.9 89.3L97.6 89.5L94.5 106.8L98.6 77.8L94.9 105.4L93.2 102.3L95.0 105.4L94.0 106.5L95.5 98.9L92.1 83.4L95.8 94.3L93.4 102.8L96.8 96.9L90.6 82.5L93.5 103.3L94.4 107.0L96.1 96.1L91.8 90.0L97.6 79.2L95.1 102.5L93.2 102.0L97.9 90.0L94.4 106.8L96.8 91.2L97.4 59.0L96.1 98.4L93.3 102.0L93.7 103.3L95.7 101.2L95.3 104.9L92.4 97.3L92.3 99.9L95.8 100.0L97.4 58.2L95.8 99.1L94.0 105.7L96.5 98.2L96.4 96.7L94.4 107.2L91.4 94.0L91.7 86.0L89.3 73.4L96.5 89.9L93.8 105.7L93.4 101.8L93.4 105.0L91.1 87.3L95.3 104.7L96.7 87.8L96.6 91.6L89.9 81.9L95.9 86.8L93.0 98.4L88.7 72.3L91.2 89.7L91.5 95.0L94.3 107.6L91.6 93.7L91.4 83.3L93.9 105.1L97.2 72.0L92.9 99.4" fill="none" stroke="none" marker-start="url(#k1)" marker-mid="url(#k1)" marker-end="url(#k1)"/>
<path d="M92.9 101.6L92.5 100.5L91.0 69.7L92.8 101.9L95.0 104.9L93.1 101.2L92.0 96.6L88.5 59.5L99.2 69.0L91.8 92.4L98.7 78.8L97.3 82.0L94.9 105.0L93.1 101.3L94.6 106.5L91.7 91.3L94.9 105.2L94.3 107.7L95.4 101.9L96.5 95.3L98.0 77.4L93.1 103.7L97.4 93.5L93.4 98.0L93.0 96.2L93.0 100.7L92.3 94.7L96.7 94.7L96.5 95.7L99.2 88.8L94.3 107.5L94.9 105.0L92.1 101.2L91.2 91.4L95.5 103.0L94.8 105.1L92.6 92.3L95.7 101.1L90.2 77.2L94.0 106.0L93.1 100.5L93.1 101.9L92.4 92.7L96.4 95.2L95.6 101.4L97.0 90.7L94.6 106.5L90.9 88.2L93.2 103.8L91.4 90.5L95.1 103.0L97.6 90.4L94.9 104.6L92.6 100.8L93.6 103.8L94.8 105.9L91.0 84.5L94.5 106.5L94.7 106.0L93.0 101.5L93.2 103.2L94.6 106.3L92.9 97.2L92.3 97.2L95.8 98.5L94.8 105.8L98.9 79.4L92.8 94.2L89.9 75.5L97.1 95.8L96.3 95.5L92.9 98.5L90.2 83.7L94.1 107.1L89.2 76.2L93.5 104.0L90.8 62.9L93.7 105.1L89.9 64.8L93.6 105.1L97.8 83.9L93.8 104.7L95.5 98.9L92.4 99.8L91.8 95.6L91.3 82.6L96.6 94.3L94.1 106.8L98.3 81.4L90.8 89.9L93.7 105.1L94.4 107.4L97.2 86.7L99.6 76.2L93.4 99.5L91.7 90.8L90.2 76.0L96.4 88.4L94.0 106.5L93.0 99.5L94.0 106.8L89.5 76.2L97.0 96.4L95.2 104.3L94.5 106.8L92.7 93.3L96.2 101.8L98.1 77.6L91.9 88.7L94.2 107.4L93.2 102.5L95.2 104.7L94.2 107.4L93.8 105.8L92.5 95.5L94.1 107.1L93.1 99.9L93.8 105.8L93.9 106.6L95.2 100.9L93.5 100.4L93.3 103.9L98.7 94.0L93.8 105.1L93.8 104.6L96.4 97.7L94.7 105.6L94.4 107.4L94.6 106.2L90.9 88.3L95.1 103.5L97.4 88.8L95.5 101.9L91.3 80.8L94.8 105.5L92.6 95.2L93.7 105.1L94.4 107.0L92.2 89.6L98.5 88.4L94.0 106.7L96.0 98.7L95.8 101.0L97.0 88.1L96.8 91.4L90.5 83.2L94.3 107.7L90.6 64.1L92.9 102.5L95.6 99.8L95.8 96.5L96.6 89.2L93.5 103.4L95.3 104.9L94.4 107.1L97.2 89.6L96.4 82.1L93.4 103.7L94.2 107.4L93.5 103.6L95.7 101.4L96.3 99.0L95.7 102.1L91.8 99.8L97.8 84.9L94.4 107.5L97.6 83.2L97.4 86.7L91.3 88.2L92.0 94.3L91.9 93.9L94.6 105.5L94.4 107.4L94.8 105.3L92.9 97.3L95.4 103.5L98.7 86.3L90.8 87.0L93.8 105.7L94.7 105.5L93.6 106.4L93.7 105.7L97.3 76.9L96.7 88.9L96.2 97.3L93.1 98.2L99.6 62.4L95.0 104.2L92.5 101.0L93.3 104.2L93.7 102.3L99.1 66.3L94.6 105.9L94.4 107.3L89.2 64.3L96.2 99.1L92.4 93.0L90.2 91.5L96.6 100.9L92.8 96.6L96.4 97.5L96.4 92.2L90.2 75.5L94.1 106.3L88.5 81.3L94.2 107.0L96.2 96.2L90.7 86.5L97.8 75.9L93.6 104.5L91.9 90.4L94.0 106.4L95.6 98.2L91.5 86.1L94.3 107.6L91.4 86.1L97.0 90.6L94.6 106.5L93.1 103.1L96.4 94.0L91.4 88.0L93.5 103.4L97.9 74.8L94.1 106.4L97.8 87.4L94.6 106.1L92.9 99.1L93.6 105.1L94.4 107.2L93.4 103.2L93.1 97.1L92.3 97.8L90.6 83.4L94.4 106.9L95.3 103.9L95.7 99.0L91.2 74.8L96.1 98.1L94.2 107.4L90.8 84.7L94.4 107.0L97.1 98.0L95.3 102.3L95.4 99.4L96.8 95.7L96.1 96.6L94.2 107.2L89.9 66.4L92.5 98.2L95.1 104.4L93.4 102.4L96.1 100.0L95.9 98.2L94.4 107.5L98.6 73.9L91.8 94.4L96.3 96.0L93.4 102.4L92.2 97.8L95.1 101.4L93.2 100.4L96.2 97.2L92.4 90.6L94.3 107.6L92.4 96.8L93.6 105.3L93.6 103.7L92.1 91.4L95.9 100.4L92.7 89.0L89.4 94.4L96.0 96.6L96.1 95.2L96.1 100.2L95.0 104.5L97.6 61.2L91.0 89.8L92.2 98.5L92.2 94.1L96.2 96.5L95.0 105.1L96.3 92.5L96.7 95.2L93.7 105.4L92.7 97.3L92.7 94.2L99.0 63.4L96.0 95.2L96.0 101.3L93.5 104.1L93.7 105.7L93.5 104.1L93.5 104.3L94.1 107.0L92.9 103.6L94.9 105.0L94.7 105.9L96.1 97.2L94.2 107.5L95.8 98.1L91.9 92.1L99.9 78.0L91.5 89.6L93.6 104.8L96.3 99.6L92.4 96.2L96.6 99.3L91.5 84.9L90.7 71.9L91.5 87.2L90.6 79.2L94.2 107.4L93.6 104.4L94.8 104.6L90.9 93.4L94.1 106.7L94.2 107.2L95.2 103.1L93.7 105.2L93.2 100.3L94.4 107.1L96.3 96.1L95.6 100.2L97.0 95.7L92.6 101.2L92.5 98.0L99.4 69.9L93.9 105.3L95.5 102.8L95.9 99.0L97.9 85.7L89.7 86.8L93.7 102.4L93.2 103.0L93.8 104.6L94.1 106.7L95.0 104.9L95.7 102.0L95.7 101.1L92.0 90.0L96.2 95.3L91.8 96.6L91.5 89.6L92.8 94.5L91.9 96.9L94.7 106.2L96.6 97.6L89.9 66.2L92.8 101.6L95.9 96.3L94.8 105.9L95.3 102.3L90.2 83.4L97.1 95.3L91.3 81.8L94.7 105.9L97.4 86.8L100.1 73.3L95.7 102.2L95.8 96.5L92.8 100.8L93.0 102.6L98.8 91.0L94.3 107.7L94.0 106.6L89.8 85.7L94.5 106.3L95.4 100.3L92.2 98.0L92.8 102.2L97.3 81.5L94.8 106.1L93.6 104.9L90.5 91.7L92.9 100.7L93.6 105.3L96.8 86.6L93.0 100.8L98.3 75.7L91.5 95.6L93.4 104.1L95.9 97.1L93.7 105.4L92.0 97.4L94.0 106.5L95.3 103.0L90.6 77.9L93.9 105.3L94.0 106.7L93.3 103.5L95.6 98.9L92.7 101.4L93.7 104.0L94.4 107.4L95.8 99.0L93.5 105.6L96.6 83.1L91.9 96.0L98.0 88.5L92.2 96.9L93.8 106.2L94.9 104.0L96.9 67.9L96.8 96.2L93.6 103.5L97.0 88.2L93.9 105.7L92.0 98.0L95.6 103.0L94.5 106.9L97.0 95.2L93.0 101.6L95.1 103.8L95.8 100.4L94.9 105.0L94.2 107.5L92.6 99.5L96.2 96.1L94.7 106.5L95.3 102.4L93.4 104.2L94.3 107.6L90.9 93.6L94.5 106.9L97.0 98.4L94.5 106.9L96.2 96.9L94.9 104.6L97.9 86.8L93.9 105.9L91.5 80.0L95.0 103.2L94.0 106.2L92.4 94.8L96.2 100.2L95.1 105.2L95.6 103.0L93.5 104.4L94.7 105.9L94.9 105.3L99.3 76.3L91.6 99.7L94.3 107.6L95.1 104.0L90.3 77.7L91.1 80.9L98.4 64.4L90.5 76.5L95.7 101.3L91.2 97.0L92.5 98.5L88.0 70.2L91.1 96.1L96.1 98.1L89.6 86.2L95.9 101.0L94.9 104.6L99.2 69.1L93.2 102.6L97.0 89.0L96.2 96.3L93.6 104.9L90.1 79.3L97.1 83.3L91.2 86.7L93.6 102.7L96.4 96.4L97.3 92.1L92.3 97.1L94.2 107.4L93.6 105.2L96.6 90.7L89.6 74.7L97.0 95.9L94.4 107.6L91.8 92.2L100.1 69.9L94.8 106.2L92.7 98.9L93.4 102.3L93.3 101.3L94.7 106.0L93.8 106.3L95.9 100.1L98.0 82.5L95.8 99.4L91.1 89.8L92.1 80.4L92.5 98.6L96.7 93.3L93.8 104.4L91.7 99.9L94.5 106.4L91.8 85.5L92.4 91.6L95.8 102.2L93.7 104.7L93.1 102.9L95.1 104.6L92.9 101.1L93.2 99.7L93.4 102.8L96.4 100.9L94.4 107.2L92.1 90.5L93.6 104.7L96.1 100.2L98.8 73.5L91.2 91.6L94.9 104.3L93.6 105.2L96.5 97.4L95.0 103.0L99.2 84.2L96.4 102.1L93.3 101.7L93.1 101.8L95.6 103.5L94.9 103.6L97.1 79.0L92.0 90.9L95.0 104.2L90.8 87.5L90.3 79.5L95.5 98.8L95.7 101.6L90.5 93.6L99.3 79.8L91.5 94.8L91.6 91.0L96.2 100.2L94.7 105.6L93.9 106.2L94.2 107.1L95.0 105.6L93.9 106.4L94.0 106.1L89.8 72.8L90.2 87.3L95.3 100.8L92.9 99.4L95.3 101.7L96.2 89.6L93.3 104.1L95.2 104.9L100.1 67.3L96.0 99.5L98.4 74.4L98.0 82.7L95.7 98.6L94.0 106.7L91.8 97.2L91.1 92.2L95.3 102.5L95.4 102.7L93.9 106.1L97.3 97.0L92.9 100.9L95.9 92.2L94.4 107.4L94.2 107.4L94.3 107.7L94.0 106.8L92.1 80.7L94.6 106.1L96.4 89.4L95.9 99.2L93.6 104.7L99.0 77.2L92.1 93.0L90.5 88.1L95.5 101.4L91.5 84.6L95.9 96.5L95.2 98.5L95.6 98.9L93.2 102.5L94.5 106.0L92.3 95.0L97.9 77.4L95.6 98.0L95.5 98.8L90.3 71.2L95.9 97.7L99.0 83.7L97.3 90.0L95.5 98.0L94.3 107.7L93.4 104.3L96.5 100.9L95.3 103.8L94.9 105.5L93.2 104.7L98.1 78.8L91.8 91.0L94.3 107.5L93.1 101.2L98.3 93.7L96.6 85.2L97.1 89.4L95.5 98.6L91.0 85.9L100.2 67.1L95.4 102.1L94.0 106.7L94.4 107.5L93.4 104.3L95.8 103.3L95.2 104.6L93.5 104.1L94.2 107.4L95.5 102.6L95.4 102.0L93.6 106.3L95.9 102.9L96.5 93.8L93.3 102.7L99.4 84.3L91.5 71.0L91.7 89.1L91.7 96.1L92.3 94.3L96.9 89.3L97.6 89.5L94.5 106.8L98.6 77.8L94.9 105.4L93.2 102.3L95.0 105.4L94.0 106.5L95.5 98.9L92.1 83.4L95.8 94.3L93.4 102.8L96.8 96.9L90.6 82.5L93.5 103.3L94.4 107.0L96.1 96.1L91.8 90.0L97.6 79.2L95.1 102.5L93.2 102.0L97.9 90.0L94.4 106.8L96.8 91.2L97.4 59.0L96.1 98.4L93.3 102.0L93.7 103.3L95.7 101.2L95.3 104.9L92.4 97.3L92.3 99.9L95.8 100.0L97.4 58.2L95.8 99.1L94.0 105.7L96.5 98.2L96.4 96.7L94.4 107.2L91.4 94.0L91.7 86.0L89.3 73.4L96.5 89.9L93.8 105.7L93.4 101.8L93.4 105.0L91.1 87.3L95.3 104.7L96.7 87.8L96.6 91.6L89.9 81.9L95.9 86.8L93.0 98.4L88.7 72.3L91.2 89.7L91.5 95.0L94.3 107.6L91.6 93.7L91.4 83.3L93.9 105.1L97.2 72.0L92.9 99.4" fill="none" stroke="none" marker-start="url(#k1s)" marker-mid="url(#k1s)" marker-end="url(#k1s)"/>
<circle cx="65.25" cy="30.49" r="2.7" fill="#bde6d4" stroke="#2f9e74" stroke-width="0.9"/>
<text x="63.9" y="40.1" font-size="7.7" text-anchor="end" fill="#2f9e74" stroke="#2f9e74" stroke-width="0.1">MDM2</text>
<line x1="25" y1="13.5" x2="25" y2="111.3" stroke="#2b2b2b" stroke-width="1.2" stroke-linecap="butt"/>
<line x1="21.4" y1="107.7" x2="165.5" y2="107.7" stroke="#2b2b2b" stroke-width="1.2" stroke-linecap="butt"/>
<line x1="21.6" y1="107.7" x2="25" y2="107.7" stroke="#2b2b2b" stroke-width="1.1" stroke-linecap="butt"/>
<text x="20.4" y="110.15" font-size="7" text-anchor="end" fill="#222" stroke="#222" stroke-width="0.1">0</text>
<line x1="21.6" y1="88.96" x2="25" y2="88.96" stroke="#2b2b2b" stroke-width="1.1" stroke-linecap="butt"/>
<text x="20.4" y="91.41" font-size="7" text-anchor="end" fill="#222" stroke="#222" stroke-width="0.1">1</text>
<line x1="21.6" y1="70.22" x2="25" y2="70.22" stroke="#2b2b2b" stroke-width="1.1" stroke-linecap="butt"/>
<text x="20.4" y="72.67" font-size="7" text-anchor="end" fill="#222" stroke="#222" stroke-width="0.1">2</text>
<line x1="21.6" y1="51.48" x2="25" y2="51.48" stroke="#2b2b2b" stroke-width="1.1" stroke-linecap="butt"/>
<text x="20.4" y="53.93" font-size="7" text-anchor="end" fill="#222" stroke="#222" stroke-width="0.1">3</text>
<line x1="21.6" y1="32.74" x2="25" y2="32.74" stroke="#2b2b2b" stroke-width="1.1" stroke-linecap="butt"/>
<text x="20.4" y="35.19" font-size="7" text-anchor="end" fill="#222" stroke="#222" stroke-width="0.1">4</text>
<line x1="21.6" y1="14" x2="25" y2="14" stroke="#2b2b2b" stroke-width="1.1" stroke-linecap="butt"/>
<text x="20.4" y="16.45" font-size="7" text-anchor="end" fill="#222" stroke="#222" stroke-width="0.1">5</text>
<line x1="25" y1="107.7" x2="25" y2="111.3" stroke="#2b2b2b" stroke-width="1.1" stroke-linecap="butt"/>
<text x="25" y="119.6" font-size="7" text-anchor="middle" fill="#222" stroke="#222" stroke-width="0.1">-2</text>
<line x1="60" y1="107.7" x2="60" y2="111.3" stroke="#2b2b2b" stroke-width="1.1" stroke-linecap="butt"/>
<text x="60" y="119.6" font-size="7" text-anchor="middle" fill="#222" stroke="#222" stroke-width="0.1">-1</text>
<line x1="95" y1="107.7" x2="95" y2="111.3" stroke="#2b2b2b" stroke-width="1.1" stroke-linecap="butt"/>
<text x="95" y="119.6" font-size="7" text-anchor="middle" fill="#222" stroke="#222" stroke-width="0.1">0</text>
<line x1="130" y1="107.7" x2="130" y2="111.3" stroke="#2b2b2b" stroke-width="1.1" stroke-linecap="butt"/>
<text x="130" y="119.6" font-size="7" text-anchor="middle" fill="#222" stroke="#222" stroke-width="0.1">1</text>
<line x1="165" y1="107.7" x2="165" y2="111.3" stroke="#2b2b2b" stroke-width="1.1" stroke-linecap="butt"/>
<text x="165" y="119.6" font-size="7" text-anchor="middle" fill="#222" stroke="#222" stroke-width="0.1">2</text>
<text x="-0.5" y="6.9" font-size="9.8" text-anchor="start" fill="#111" font-weight="bold">A</text>
<text x="95.3" y="8.1" font-size="9.1" text-anchor="middle" fill="#1a1a1a" stroke="#1a1a1a" stroke-width="0.1">TMT: 100 nM MD-224, t = 2 h</text>
<text x="10.2" y="61" font-size="8" text-anchor="middle" fill="#222" stroke="#222" stroke-width="0.1" transform="rotate(-90 10.2 61)">P Value (-Log<tspan font-size="5.6" dy="1.7">10</tspan><tspan dy="-1.6">)</tspan></text>
<text x="95.3" y="130.6" font-size="7.7" text-anchor="middle" fill="#222" stroke="#222" stroke-width="0.1">FC (Log<tspan font-size="5.2" dy="1.6">2</tspan><tspan dy="-1.6">)</tspan></text>
<line x1="256.19" y1="14.3" x2="256.19" y2="107.7" stroke="#222" stroke-width="0.9" stroke-dasharray="0.9 2" stroke-linecap="butt"/>
<line x1="276.81" y1="14.3" x2="276.81" y2="107.7" stroke="#222" stroke-width="0.9" stroke-dasharray="0.9 2" stroke-linecap="butt"/>
<line x1="196" y1="87.46" x2="337" y2="87.46" stroke="#222" stroke-width="0.9" stroke-dasharray="0.9 2" stroke-linecap="butt"/>
<path d="M261.3 87.7L258.5 101.7L259.5 81.9L266.0 100.7L267.6 63.0L259.9 84.7L264.1 94.5L272.2 77.8L265.4 91.0L270.4 103.8L268.6 98.8L269.1 93.3L262.9 92.9L265.7 70.8L273.9 105.6L260.9 100.7L259.4 93.4L269.5 85.7L261.7 96.6L264.4 104.3L266.8 88.7L262.6 68.0L263.2 99.8L259.2 101.7L263.6 96.2L258.6 95.0L265.9 84.7L264.7 88.9L268.8 87.0L263.1 77.3L268.7 86.6L269.1 101.7L269.4 107.5L267.4 91.2L266.1 97.9L265.3 103.2L262.2 88.4L263.9 73.9L264.0 88.5L273.0 102.9L259.0 101.7L263.0 93.8L265.3 65.8L260.1 89.5L267.2 100.8L261.4 72.6L265.7 96.0L264.3 87.8L254.5 102.6L266.7 96.1L258.7 99.2L265.5 78.9L270.4 87.9L267.8 97.6L264.1 103.0L264.4 106.0L264.9 86.0L263.2 104.7L260.6 101.1L264.2 97.9L263.9 96.7L272.9 95.8L266.3 81.8L273.7 106.7L264.0 101.4L265.7 101.8L264.3 80.3L260.7 66.9L260.1 94.2L263.0 72.3L268.3 106.6L259.7 83.3L258.5 101.0L264.0 105.0L261.5 100.9L261.2 100.2L270.8 97.4L263.9 70.1L266.5 99.6L263.8 89.2L267.3 87.5L263.7 105.8L263.3 100.5L266.9 77.5L263.7 102.1L269.5 88.5L261.1 86.4L270.4 77.6L259.4 93.3L262.3 95.3L264.5 76.9L259.3 82.8L261.5 89.9L267.0 106.3L263.0 91.9L260.9 106.8L267.1 73.7L264.4 86.2L266.4 93.8L270.2 72.1L264.0 97.2L265.4 82.8L275.8 104.8L255.5 105.8L264.9 94.6L260.7 83.3L265.8 100.6L260.6 104.5L262.1 92.4L258.5 98.0L267.1 92.4L264.1 76.2L262.8 93.7L259.7 103.0L269.0 82.2L257.0 103.1L268.5 87.3L265.6 74.4L261.8 83.4L264.4 104.0L257.9 99.5L270.0 89.4L258.7 85.3L261.6 100.9L267.8 61.6L262.4 104.7L265.0 66.6L264.8 93.0L261.2 87.5L262.0 100.2L271.4 98.9L267.8 91.0L266.4 97.4L264.3 79.4L260.4 71.6L258.6 102.7L266.6 101.0L261.6 79.5L262.9 107.6L259.4 93.3L257.1 106.5L264.5 105.5L260.1 94.9L272.3 80.8L271.0 81.6L262.8 96.0L268.8 85.2L260.4 74.0L268.8 101.9L272.8 101.2L266.7 96.6L273.3 83.4L255.0 93.5L263.8 105.3L263.0 70.4L266.9 107.5L264.1 76.8L266.6 87.5L264.7 101.9L260.5 107.1L258.5 84.1L268.4 84.9L261.1 105.9L266.4 103.3L265.6 93.2L262.0 88.4L257.8 103.1L265.0 92.8L269.3 99.6L252.5 94.2L258.2 106.9L274.9 86.9L264.7 97.6L265.9 102.8L269.8 95.2L271.0 88.5L265.6 89.6L267.4 85.2L261.4 89.4L264.2 98.7L258.9 85.4L267.0 98.6L266.4 96.8L266.4 78.2L266.8 91.0L256.3 72.8L263.3 82.8L260.3 102.2L262.8 71.3L266.5 94.3L270.4 79.1L263.3 102.4L261.1 93.9L262.1 85.7L263.6 107.6L263.3 80.2L265.1 90.3L267.0 71.4L257.5 101.6L257.3 80.2L261.1 93.6L261.8 106.5L270.3 105.9L262.9 94.4L268.1 92.0L259.6 87.7L258.4 80.7L275.3 98.5L268.4 88.3L259.7 102.8L263.4 102.3L272.6 94.3L266.0 70.6L261.9 101.2L268.1 104.8L266.2 104.7L255.8 94.2L274.0 78.9L268.7 88.6L263.9 80.3L261.9 91.9L261.0 88.9L256.3 105.2L264.8 104.6L261.3 94.0L259.3 71.0L261.0 87.3L273.3 84.4L261.4 101.2L268.9 99.4L270.5 90.0L264.7 80.1L267.6 95.1L259.9 77.5L262.8 84.7L264.8 92.8L260.2 103.5L260.4 76.6L272.7 79.4L269.4 95.0L264.1 97.6L259.8 102.2L264.8 88.4L259.9 101.5L263.3 100.2L264.4 87.8L264.9 101.9L261.6 104.4L267.6 99.9L269.8 95.1L262.7 74.8L265.1 99.6L262.2 98.9L265.1 92.5L270.0 85.0L262.0 88.3L261.3 91.5L263.5 85.8L262.8 92.1L265.2 92.8L264.5 104.3L248.9 96.9L256.4 105.9L269.2 102.9L262.7 102.4L263.8 104.2L261.9 97.0L269.4 89.7L268.4 107.4L264.7 102.8L266.3 104.4L265.4 91.6L261.1 94.6L263.2 75.4L270.6 102.0L266.6 86.5L274.3 99.9L266.7 100.1L258.4 104.4L266.1 81.7L263.4 100.1L258.3 84.9L258.2 101.3L269.3 90.2L261.9 90.6L249.8 90.7L263.6 96.1L267.0 88.9L265.3 96.3L270.5 94.8L262.5 87.0L271.2 80.7L267.6 82.5L265.1 84.4L264.7 103.1L266.6 104.0L268.0 100.0L263.1 103.0L262.5 105.5L263.2 91.9L262.7 102.0L268.2 78.8L267.3 87.1L257.4 99.5L262.2 89.3L259.4 91.7L263.4 93.3L262.6 100.2L261.2 101.8L266.8 107.2L262.5 106.8L265.1 86.6L263.3 101.0L266.7 92.7L263.1 59.4L266.0 101.1L264.9 57.8L270.2 94.0L261.1 102.8L265.1 103.4L264.2 96.8L263.4 81.4L272.7 92.6L265.5 94.0L268.7 84.7L269.0 75.3L265.5 105.4L265.7 104.2L261.1 103.8L261.5 66.8L264.7 68.3L257.3 107.6L268.1 94.3L271.4 105.8L259.3 71.3L266.2 87.5L268.3 99.6L261.9 93.7L261.2 91.6L258.2 105.8L261.2 40.8L284.1 78.1L236.5 101.5L292.6 98.0L294.7 99.1L300.9 98.7L302.6 98.4L304.4 98.7L307.0 98.4L324.7 97.6L254.2 54.8L256.8 55.6L250.6 81.2L252.4 82.8L276.2 93.7L278.8 92.1L272.7 64.1L271.8 68.8L258.6 73.5L277.1 85.9" fill="none" stroke="none" marker-start="url(#f3)" marker-mid="url(#f3)" marker-end="url(#f3)"/>
<path d="M267.7 107.7L263.7 89.0L267.6 106.4L264.7 94.7L265.3 105.5L267.8 93.1L267.8 67.7L265.2 102.8L264.2 104.4L264.7 96.4L263.3 75.5L264.6 87.1L264.7 90.7L264.7 95.4L267.8 106.4L263.9 79.1L268.3 105.2L264.4 91.7L264.9 95.6L268.1 106.3L264.3 93.5L265.0 105.0L265.6 103.6L263.9 79.9L262.5 65.8L268.0 81.3L265.6 100.0L265.0 98.7L264.8 105.2L265.9 107.5L268.1 94.0L265.0 100.6L264.8 95.4L268.1 72.2L265.2 88.8L264.4 90.2L264.6 97.3L264.0 92.9L267.5 106.0L265.5 102.2L264.9 103.6L267.5 105.2L265.3 100.1L268.0 71.0L263.6 91.3L268.1 81.4L267.6 101.9L263.8 84.6L267.6 91.0L264.1 81.3L267.7 107.4L265.3 95.9L264.3 99.8L264.0 90.7L263.6 85.5L263.3 78.1L268.1 94.4L265.1 107.2L264.7 98.1L268.4 84.4L267.9 97.0L268.0 98.4L265.0 101.4L264.0 83.0L265.1 95.9L264.3 87.4L264.8 91.3L264.3 98.1L264.6 89.6L268.0 68.2L262.5 72.2L267.3 107.4L268.3 63.4L267.6 102.5L262.8 75.9L263.1 73.2L267.7 99.2L268.1 86.7L264.5 91.2L263.1 65.1L264.7 105.8L264.7 98.0L265.8 106.0L265.1 107.2L262.2 66.3L264.7 96.6L264.3 83.1L265.2 104.4L265.6 106.9L265.3 103.2L263.9 93.3L264.7 104.8L268.1 71.5L263.1 91.5L265.1 102.4L263.8 85.1L268.1 82.7L268.1 75.6L268.5 69.5L268.0 88.4L265.1 103.2L267.9 106.6L265.1 106.5L263.2 74.0L267.8 100.4L267.9 89.3L267.4 103.1L268.0 102.8L263.7 91.5L263.6 75.7L264.6 95.1L268.6 86.8L264.6 102.3L264.5 101.0L264.2 80.8L268.3 75.7L262.3 66.7L264.3 79.3L267.8 87.5L264.6 97.1L265.0 103.2L265.4 106.9L268.0 97.1L265.5 106.5L263.2 66.8L263.7 92.9L265.2 99.9L261.7 60.3L268.0 83.1L267.8 83.5L264.4 84.3L264.7 97.7L267.5 99.5L268.1 77.4L264.4 103.2L268.1 91.2L267.9 99.8L264.1 82.2L268.2 98.0L264.4 95.1L266.1 101.5L267.6 104.0L267.7 104.3L264.6 87.0L267.7 100.6L264.6 98.1L263.8 90.3L268.3 80.6L268.0 75.6L267.9 87.2L268.3 76.2L265.4 102.9L267.8 104.4L268.1 84.9L268.0 87.6L267.9 71.5L262.9 69.7L263.3 84.5L264.6 92.1L264.6 90.7L263.9 91.8L264.6 82.2L267.8 101.0L268.3 104.3L263.5 85.9L264.0 79.7L263.9 87.5L263.7 78.5L263.4 85.1L264.6 101.7L263.3 78.6L264.0 89.4L265.4 107.1L263.8 84.1L268.1 80.6L264.1 91.6L267.7 92.1L264.7 95.0L264.8 103.9L265.2 102.7L265.5 107.6L263.4 79.5L262.6 64.1L265.1 104.4L263.8 87.2L265.4 105.8L265.1 104.7L264.9 96.1L267.9 102.6L268.1 94.0L264.2 98.7L265.1 96.4L265.5 102.8L267.9 104.6L263.0 76.3L263.8 81.0L262.9 71.0L267.6 102.6L267.9 98.8L264.0 86.8L264.9 92.3L265.0 99.4L268.2 86.6L267.3 106.5L267.6 100.0L262.8 60.3L267.8 99.7L264.3 91.8L265.4 96.3L264.0 83.8L264.3 91.2L268.0 88.7L265.9 106.7L267.5 107.1L265.5 103.8L263.5 85.7L264.3 100.6L264.2 85.9L264.7 97.7L263.5 84.7L268.0 103.4L265.1 102.2L265.0 100.3L267.9 88.5L268.6 82.2L266.0 106.4L265.3 105.1L264.1 98.2L263.0 77.5L265.5 104.7L267.6 100.7L265.4 100.1L265.3 107.1L264.5 103.0L265.2 85.9L264.4 87.6L262.3 64.5L264.1 82.2L265.5 97.0L263.7 95.8L268.0 94.3L263.7 93.4L264.8 100.0L263.6 95.0L264.3 82.1L267.8 66.1L263.9 88.9L267.8 106.0L263.2 76.0L264.8 101.1L264.6 94.8L263.6 68.9L265.1 92.9L265.2 106.5L265.3 105.8L265.0 84.9L265.6 106.2L267.9 92.8L264.2 88.4L263.3 75.0L263.8 96.8L268.1 93.6L263.9 95.0L264.1 91.9L263.8 96.4L267.7 99.9L268.3 99.9L264.8 103.5L264.3 88.4L264.5 94.1L262.6 66.1L265.2 100.2L265.6 106.9L264.3 99.5L265.3 104.2L263.6 79.1L263.6 82.2L265.4 105.8L264.2 94.2L266.4 106.9L263.6 86.5L267.8 91.2L265.0 107.1L264.1 97.7L264.8 99.0L268.5 70.4L264.3 96.0L264.0 94.4L264.4 90.8L264.3 83.3L265.7 95.1L267.9 91.6L264.8 100.8L263.0 71.1L265.4 105.4L264.7 90.6L268.4 63.6L264.8 104.5L265.6 105.4L264.7 98.5L267.5 105.2L265.0 107.3L264.7 102.6L268.1 103.9L268.3 59.1L264.4 92.1L263.8 75.2L267.8 106.7L264.8 93.6L265.2 106.9L262.8 62.9L265.6 104.6L267.8 98.1L264.3 82.7L265.1 94.3L265.2 105.7L267.9 88.1L264.6 99.2L264.7 100.2L264.8 97.4L265.1 95.8L268.1 103.2L267.7 95.3L265.2 90.7L262.5 72.0L268.1 93.7L265.6 106.2L264.4 106.1L268.2 94.4L267.9 102.9L263.4 88.5L265.3 107.1L264.5 86.2L265.6 107.3L263.8 85.5L264.8 104.3L264.2 86.1L264.4 90.4L265.0 98.9L268.1 70.4L264.9 99.7L264.7 106.7L267.9 103.0L267.9 92.4L264.3 102.0L263.4 85.3L268.4 74.3L263.3 78.9L266.0 106.4L264.8 103.6L268.1 95.4L267.2 106.8L264.9 101.5L263.7 91.1L268.1 105.2L263.7 84.4L263.7 86.6L267.9 89.1L263.5 84.2L261.9 60.8L265.3 97.6L268.4 83.5L264.3 92.0L267.6 74.0L263.8 84.4L265.1 104.2L263.8 83.8L264.5 92.7L264.5 88.5L265.8 100.4L262.3 59.2L268.1 55.0L267.7 103.1L268.0 103.2L264.4 99.3L267.7 106.7L264.2 85.8L264.9 100.2L264.6 101.2L267.9 79.5L264.8 97.4L264.1 92.6L261.0 59.9L267.9 106.9L264.4 79.6L264.8 101.0L268.4 85.5L265.5 104.8L267.9 94.8L264.1 87.8L261.2 58.5L264.2 89.8L267.7 98.5L263.8 90.4L264.2 96.4L265.1 99.9L267.4 95.2L262.7 83.5L267.7 100.6L264.3 90.7L267.7 106.0L268.0 89.7L267.8 94.2L264.7 88.3L263.4 78.5L264.4 90.4L263.9 96.6L264.6 89.0L263.9 86.9L264.1 90.2L264.5 95.0L267.5 107.0L264.0 77.1L265.4 102.9L267.9 81.2L265.2 100.6L268.4 82.9L267.7 79.1L267.7 104.9L263.7 88.5L263.5 77.3L264.3 88.2L261.7 56.1L264.6 87.0L268.4 97.5L264.9 98.2L265.2 98.8L267.9 97.5L264.5 91.5L267.6 105.7L263.4 78.6L265.0 92.5L267.7 100.8L265.3 97.0L265.5 98.9L264.7 104.2L267.9 77.5L264.6 81.8L268.0 86.6L265.1 105.9L264.7 107.0L265.2 102.3L264.6 90.1L262.8 74.3L263.4 94.6L265.1 91.8L267.4 101.7L263.4 77.6L265.5 103.1L264.7 92.6L267.7 87.0L265.5 103.3L264.5 99.0L263.2 80.6L268.0 80.2L267.8 68.8L266.0 103.9L268.4 76.2L265.8 103.1L267.5 100.6L264.4 100.6L264.3 87.0L264.8 94.2L268.4 70.2L267.8 95.7L267.4 91.9L268.4 84.0L263.5 87.0L263.4 94.5L267.7 92.8L268.6 76.9L265.3 107.3L262.4 61.4L264.0 86.9L262.7 67.1L263.5 82.3L264.0 88.6L264.4 79.9L264.0 91.9L264.5 83.5L261.6 58.1L264.8 92.9L265.3 101.6L263.9 95.5L264.7 98.4L264.3 87.6L262.9 77.9L268.2 92.0L264.3 100.4L261.8 76.2L268.2 74.5L264.5 103.2L264.6 93.4L264.9 82.5L263.5 92.7L263.2 81.4L267.6 96.5L264.7 100.4L267.8 91.9L264.1 88.6L264.4 86.1L265.1 107.0L264.0 88.6L264.7 98.7L265.8 103.6L268.1 97.0L263.7 76.4L264.6 82.0L265.4 98.9L264.1 93.6L264.4 93.2L264.6 104.6L268.5 65.1L268.0 100.0L268.1 98.8L268.4 67.9L264.8 105.3L267.7 104.2L264.6 98.7L268.4 74.3L263.6 80.7L267.6 107.6L262.6 74.5L264.2 76.6L267.8 100.7L263.6 81.1L265.1 106.6L263.7 66.0L264.2 83.3L264.2 93.8L264.9 107.2L268.1 90.4L268.1 81.4L268.3 61.7L264.0 91.9L264.5 106.1L265.0 104.0L268.2 72.2L267.9 105.5L264.3 81.4L264.9 92.7L265.0 99.4L267.8 85.0L263.5 86.0L263.8 89.6L265.0 105.1L265.4 104.9L264.1 94.0L264.5 88.0L264.8 90.1L267.6 97.0L265.3 90.1L264.6 99.1L265.3 104.2L263.3 64.5L264.4 101.9L265.2 105.0L262.1 62.5L264.7 98.5L264.5 99.1L267.7 101.6L267.9 95.6L264.5 82.9L268.2 90.0L262.7 76.9L264.6 99.1L265.5 105.6L263.2 77.9L263.3 83.4L265.6 107.4L263.6 86.8L265.3 98.2L264.9 97.5L264.5 86.0L265.7 104.9L265.4 105.6L267.7 105.9L264.6 91.4L264.0 100.4L265.0 105.5L265.6 105.8L263.7 93.8L268.1 93.2L268.6 88.2L267.9 90.3L264.8 86.2L265.0 92.9L268.4 84.4L263.6 89.5L263.1 77.9L261.8 59.8L264.5 90.9L264.4 82.1L265.2 97.3L265.1 104.8L268.0 91.8L263.0 83.5L265.1 99.1L263.5 86.1L267.4 88.2" fill="none" stroke="none" marker-start="url(#k4)" marker-mid="url(#k4)" marker-end="url(#k4)"/>
<path d="M267.7 107.7L263.7 89.0L267.6 106.4L264.7 94.7L265.3 105.5L267.8 93.1L267.8 67.7L265.2 102.8L264.2 104.4L264.7 96.4L263.3 75.5L264.6 87.1L264.7 90.7L264.7 95.4L267.8 106.4L263.9 79.1L268.3 105.2L264.4 91.7L264.9 95.6L268.1 106.3L264.3 93.5L265.0 105.0L265.6 103.6L263.9 79.9L262.5 65.8L268.0 81.3L265.6 100.0L265.0 98.7L264.8 105.2L265.9 107.5L268.1 94.0L265.0 100.6L264.8 95.4L268.1 72.2L265.2 88.8L264.4 90.2L264.6 97.3L264.0 92.9L267.5 106.0L265.5 102.2L264.9 103.6L267.5 105.2L265.3 100.1L268.0 71.0L263.6 91.3L268.1 81.4L267.6 101.9L263.8 84.6L267.6 91.0L264.1 81.3L267.7 107.4L265.3 95.9L264.3 99.8L264.0 90.7L263.6 85.5L263.3 78.1L268.1 94.4L265.1 107.2L264.7 98.1L268.4 84.4L267.9 97.0L268.0 98.4L265.0 101.4L264.0 83.0L265.1 95.9L264.3 87.4L264.8 91.3L264.3 98.1L264.6 89.6L268.0 68.2L262.5 72.2L267.3 107.4L268.3 63.4L267.6 102.5L262.8 75.9L263.1 73.2L267.7 99.2L268.1 86.7L264.5 91.2L263.1 65.1L264.7 105.8L264.7 98.0L265.8 106.0L265.1 107.2L262.2 66.3L264.7 96.6L264.3 83.1L265.2 104.4L265.6 106.9L265.3 103.2L263.9 93.3L264.7 104.8L268.1 71.5L263.1 91.5L265.1 102.4L263.8 85.1L268.1 82.7L268.1 75.6L268.5 69.5L268.0 88.4L265.1 103.2L267.9 106.6L265.1 106.5L263.2 74.0L267.8 100.4L267.9 89.3L267.4 103.1L268.0 102.8L263.7 91.5L263.6 75.7L264.6 95.1L268.6 86.8L264.6 102.3L264.5 101.0L264.2 80.8L268.3 75.7L262.3 66.7L264.3 79.3L267.8 87.5L264.6 97.1L265.0 103.2L265.4 106.9L268.0 97.1L265.5 106.5L263.2 66.8L263.7 92.9L265.2 99.9L261.7 60.3L268.0 83.1L267.8 83.5L264.4 84.3L264.7 97.7L267.5 99.5L268.1 77.4L264.4 103.2L268.1 91.2L267.9 99.8L264.1 82.2L268.2 98.0L264.4 95.1L266.1 101.5L267.6 104.0L267.7 104.3L264.6 87.0L267.7 100.6L264.6 98.1L263.8 90.3L268.3 80.6L268.0 75.6L267.9 87.2L268.3 76.2L265.4 102.9L267.8 104.4L268.1 84.9L268.0 87.6L267.9 71.5L262.9 69.7L263.3 84.5L264.6 92.1L264.6 90.7L263.9 91.8L264.6 82.2L267.8 101.0L268.3 104.3L263.5 85.9L264.0 79.7L263.9 87.5L263.7 78.5L263.4 85.1L264.6 101.7L263.3 78.6L264.0 89.4L265.4 107.1L263.8 84.1L268.1 80.6L264.1 91.6L267.7 92.1L264.7 95.0L264.8 103.9L265.2 102.7L265.5 107.6L263.4 79.5L262.6 64.1L265.1 104.4L263.8 87.2L265.4 105.8L265.1 104.7L264.9 96.1L267.9 102.6L268.1 94.0L264.2 98.7L265.1 96.4L265.5 102.8L267.9 104.6L263.0 76.3L263.8 81.0L262.9 71.0L267.6 102.6L267.9 98.8L264.0 86.8L264.9 92.3L265.0 99.4L268.2 86.6L267.3 106.5L267.6 100.0L262.8 60.3L267.8 99.7L264.3 91.8L265.4 96.3L264.0 83.8L264.3 91.2L268.0 88.7L265.9 106.7L267.5 107.1L265.5 103.8L263.5 85.7L264.3 100.6L264.2 85.9L264.7 97.7L263.5 84.7L268.0 103.4L265.1 102.2L265.0 100.3L267.9 88.5L268.6 82.2L266.0 106.4L265.3 105.1L264.1 98.2L263.0 77.5L265.5 104.7L267.6 100.7L265.4 100.1L265.3 107.1L264.5 103.0L265.2 85.9L264.4 87.6L262.3 64.5L264.1 82.2L265.5 97.0L263.7 95.8L268.0 94.3L263.7 93.4L264.8 100.0L263.6 95.0L264.3 82.1L267.8 66.1L263.9 88.9L267.8 106.0L263.2 76.0L264.8 101.1L264.6 94.8L263.6 68.9L265.1 92.9L265.2 106.5L265.3 105.8L265.0 84.9L265.6 106.2L267.9 92.8L264.2 88.4L263.3 75.0L263.8 96.8L268.1 93.6L263.9 95.0L264.1 91.9L263.8 96.4L267.7 99.9L268.3 99.9L264.8 103.5L264.3 88.4L264.5 94.1L262.6 66.1L265.2 100.2L265.6 106.9L264.3 99.5L265.3 104.2L263.6 79.1L263.6 82.2L265.4 105.8L264.2 94.2L266.4 106.9L263.6 86.5L267.8 91.2L265.0 107.1L264.1 97.7L264.8 99.0L268.5 70.4L264.3 96.0L264.0 94.4L264.4 90.8L264.3 83.3L265.7 95.1L267.9 91.6L264.8 100.8L263.0 71.1L265.4 105.4L264.7 90.6L268.4 63.6L264.8 104.5L265.6 105.4L264.7 98.5L267.5 105.2L265.0 107.3L264.7 102.6L268.1 103.9L268.3 59.1L264.4 92.1L263.8 75.2L267.8 106.7L264.8 93.6L265.2 106.9L262.8 62.9L265.6 104.6L267.8 98.1L264.3 82.7L265.1 94.3L265.2 105.7L267.9 88.1L264.6 99.2L264.7 100.2L264.8 97.4L265.1 95.8L268.1 103.2L267.7 95.3L265.2 90.7L262.5 72.0L268.1 93.7L265.6 106.2L264.4 106.1L268.2 94.4L267.9 102.9L263.4 88.5L265.3 107.1L264.5 86.2L265.6 107.3L263.8 85.5L264.8 104.3L264.2 86.1L264.4 90.4L265.0 98.9L268.1 70.4L264.9 99.7L264.7 106.7L267.9 103.0L267.9 92.4L264.3 102.0L263.4 85.3L268.4 74.3L263.3 78.9L266.0 106.4L264.8 103.6L268.1 95.4L267.2 106.8L264.9 101.5L263.7 91.1L268.1 105.2L263.7 84.4L263.7 86.6L267.9 89.1L263.5 84.2L261.9 60.8L265.3 97.6L268.4 83.5L264.3 92.0L267.6 74.0L263.8 84.4L265.1 104.2L263.8 83.8L264.5 92.7L264.5 88.5L265.8 100.4L262.3 59.2L268.1 55.0L267.7 103.1L268.0 103.2L264.4 99.3L267.7 106.7L264.2 85.8L264.9 100.2L264.6 101.2L267.9 79.5L264.8 97.4L264.1 92.6L261.0 59.9L267.9 106.9L264.4 79.6L264.8 101.0L268.4 85.5L265.5 104.8L267.9 94.8L264.1 87.8L261.2 58.5L264.2 89.8L267.7 98.5L263.8 90.4L264.2 96.4L265.1 99.9L267.4 95.2L262.7 83.5L267.7 100.6L264.3 90.7L267.7 106.0L268.0 89.7L267.8 94.2L264.7 88.3L263.4 78.5L264.4 90.4L263.9 96.6L264.6 89.0L263.9 86.9L264.1 90.2L264.5 95.0L267.5 107.0L264.0 77.1L265.4 102.9L267.9 81.2L265.2 100.6L268.4 82.9L267.7 79.1L267.7 104.9L263.7 88.5L263.5 77.3L264.3 88.2L261.7 56.1L264.6 87.0L268.4 97.5L264.9 98.2L265.2 98.8L267.9 97.5L264.5 91.5L267.6 105.7L263.4 78.6L265.0 92.5L267.7 100.8L265.3 97.0L265.5 98.9L264.7 104.2L267.9 77.5L264.6 81.8L268.0 86.6L265.1 105.9L264.7 107.0L265.2 102.3L264.6 90.1L262.8 74.3L263.4 94.6L265.1 91.8L267.4 101.7L263.4 77.6L265.5 103.1L264.7 92.6L267.7 87.0L265.5 103.3L264.5 99.0L263.2 80.6L268.0 80.2L267.8 68.8L266.0 103.9L268.4 76.2L265.8 103.1L267.5 100.6L264.4 100.6L264.3 87.0L264.8 94.2L268.4 70.2L267.8 95.7L267.4 91.9L268.4 84.0L263.5 87.0L263.4 94.5L267.7 92.8L268.6 76.9L265.3 107.3L262.4 61.4L264.0 86.9L262.7 67.1L263.5 82.3L264.0 88.6L264.4 79.9L264.0 91.9L264.5 83.5L261.6 58.1L264.8 92.9L265.3 101.6L263.9 95.5L264.7 98.4L264.3 87.6L262.9 77.9L268.2 92.0L264.3 100.4L261.8 76.2L268.2 74.5L264.5 103.2L264.6 93.4L264.9 82.5L263.5 92.7L263.2 81.4L267.6 96.5L264.7 100.4L267.8 91.9L264.1 88.6L264.4 86.1L265.1 107.0L264.0 88.6L264.7 98.7L265.8 103.6L268.1 97.0L263.7 76.4L264.6 82.0L265.4 98.9L264.1 93.6L264.4 93.2L264.6 104.6L268.5 65.1L268.0 100.0L268.1 98.8L268.4 67.9L264.8 105.3L267.7 104.2L264.6 98.7L268.4 74.3L263.6 80.7L267.6 107.6L262.6 74.5L264.2 76.6L267.8 100.7L263.6 81.1L265.1 106.6L263.7 66.0L264.2 83.3L264.2 93.8L264.9 107.2L268.1 90.4L268.1 81.4L268.3 61.7L264.0 91.9L264.5 106.1L265.0 104.0L268.2 72.2L267.9 105.5L264.3 81.4L264.9 92.7L265.0 99.4L267.8 85.0L263.5 86.0L263.8 89.6L265.0 105.1L265.4 104.9L264.1 94.0L264.5 88.0L264.8 90.1L267.6 97.0L265.3 90.1L264.6 99.1L265.3 104.2L263.3 64.5L264.4 101.9L265.2 105.0L262.1 62.5L264.7 98.5L264.5 99.1L267.7 101.6L267.9 95.6L264.5 82.9L268.2 90.0L262.7 76.9L264.6 99.1L265.5 105.6L263.2 77.9L263.3 83.4L265.6 107.4L263.6 86.8L265.3 98.2L264.9 97.5L264.5 86.0L265.7 104.9L265.4 105.6L267.7 105.9L264.6 91.4L264.0 100.4L265.0 105.5L265.6 105.8L263.7 93.8L268.1 93.2L268.6 88.2L267.9 90.3L264.8 86.2L265.0 92.9L268.4 84.4L263.6 89.5L263.1 77.9L261.8 59.8L264.5 90.9L264.4 82.1L265.2 97.3L265.1 104.8L268.0 91.8L263.0 83.5L265.1 99.1L263.5 86.1L267.4 88.2" fill="none" stroke="none" marker-start="url(#k4s)" marker-mid="url(#k4s)" marker-end="url(#k4s)"/>
<circle cx="248.9" cy="23.2" r="2.8" fill="#5664b4" stroke="#4655a8" stroke-width="0.6"/>
<text x="245.7" y="31.6" font-size="7.8" text-anchor="end" fill="#4a58ac" stroke="#4a58ac" stroke-width="0.1">WTIP</text>
<circle cx="230.6" cy="64" r="2.8" fill="#e2c4ee" stroke="#9a4fb8" stroke-width="0.9"/>
<text x="247.6" y="58.9" font-size="7.7" text-anchor="end" fill="#9a4fb8" stroke="#9a4fb8" stroke-width="0.1">TMEM175</text>
<circle cx="254" cy="65.8" r="2.8" fill="#bde6d4" stroke="#2f9e74" stroke-width="0.9"/>
<text x="252.4" y="74.3" font-size="7.7" text-anchor="end" fill="#2f9e74" stroke="#2f9e74" stroke-width="0.1">MDM2</text>
<line x1="196" y1="13.8" x2="196" y2="111.3" stroke="#2b2b2b" stroke-width="1.2" stroke-linecap="butt"/>
<line x1="192.4" y1="107.7" x2="337.5" y2="107.7" stroke="#2b2b2b" stroke-width="1.2" stroke-linecap="butt"/>
<line x1="192.6" y1="107.7" x2="196" y2="107.7" stroke="#2b2b2b" stroke-width="1.1" stroke-linecap="butt"/>
<text x="191.4" y="110.15" font-size="7" text-anchor="end" fill="#222" stroke="#222" stroke-width="0.1">0</text>
<line x1="192.6" y1="76.57" x2="196" y2="76.57" stroke="#2b2b2b" stroke-width="1.1" stroke-linecap="butt"/>
<text x="191.4" y="79.02" font-size="7" text-anchor="end" fill="#222" stroke="#222" stroke-width="0.1">2</text>
<line x1="192.6" y1="45.43" x2="196" y2="45.43" stroke="#2b2b2b" stroke-width="1.1" stroke-linecap="butt"/>
<text x="191.4" y="47.88" font-size="7" text-anchor="end" fill="#222" stroke="#222" stroke-width="0.1">4</text>
<line x1="192.6" y1="14.3" x2="196" y2="14.3" stroke="#2b2b2b" stroke-width="1.1" stroke-linecap="butt"/>
<text x="191.4" y="16.75" font-size="7" text-anchor="end" fill="#222" stroke="#222" stroke-width="0.1">6</text>
<line x1="196" y1="107.7" x2="196" y2="111.3" stroke="#2b2b2b" stroke-width="1.1" stroke-linecap="butt"/>
<text x="196" y="119.6" font-size="7" text-anchor="middle" fill="#222" stroke="#222" stroke-width="0.1">-4</text>
<line x1="231.25" y1="107.7" x2="231.25" y2="111.3" stroke="#2b2b2b" stroke-width="1.1" stroke-linecap="butt"/>
<text x="231.25" y="119.6" font-size="7" text-anchor="middle" fill="#222" stroke="#222" stroke-width="0.1">-2</text>
<line x1="266.5" y1="107.7" x2="266.5" y2="111.3" stroke="#2b2b2b" stroke-width="1.1" stroke-linecap="butt"/>
<text x="266.5" y="119.6" font-size="7" text-anchor="middle" fill="#222" stroke="#222" stroke-width="0.1">0</text>
<line x1="301.75" y1="107.7" x2="301.75" y2="111.3" stroke="#2b2b2b" stroke-width="1.1" stroke-linecap="butt"/>
<text x="301.75" y="119.6" font-size="7" text-anchor="middle" fill="#222" stroke="#222" stroke-width="0.1">2</text>
<line x1="337" y1="107.7" x2="337" y2="111.3" stroke="#2b2b2b" stroke-width="1.1" stroke-linecap="butt"/>
<text x="337" y="119.6" font-size="7" text-anchor="middle" fill="#222" stroke="#222" stroke-width="0.1">4</text>
<text x="171.1" y="6.9" font-size="9.8" text-anchor="start" fill="#111" font-weight="bold">B</text>
<text x="266.5" y="8.1" font-size="9.1" text-anchor="middle" fill="#1a1a1a" stroke="#1a1a1a" stroke-width="0.1">TMT: 1 μM MD-224, t = 2 h</text>
<text x="181.6" y="61" font-size="8" text-anchor="middle" fill="#222" stroke="#222" stroke-width="0.1" transform="rotate(-90 181.6 61)">P Value (-Log<tspan font-size="5.6" dy="1.7">10</tspan><tspan dy="-1.6">)</tspan></text>
<text x="266.5" y="130.6" font-size="7.7" text-anchor="middle" fill="#222" stroke="#222" stroke-width="0.1">FC (Log<tspan font-size="5.2" dy="1.6">2</tspan><tspan dy="-1.6">)</tspan></text>
<line x1="434.38" y1="14.2" x2="434.38" y2="107.4" stroke="#222" stroke-width="0.9" stroke-dasharray="0.9 2" stroke-linecap="butt"/>
<line x1="441.42" y1="14.2" x2="441.42" y2="107.4" stroke="#222" stroke-width="0.9" stroke-dasharray="0.9 2" stroke-linecap="butt"/>
<line x1="367.5" y1="95.28" x2="508.3" y2="95.28" stroke="#222" stroke-width="0.9" stroke-dasharray="0.9 2" stroke-linecap="butt"/>
<path d="M404.5 97.1L412.6 99.9L414.0 102.7L415.0 104.6L416.8 100.9L418.5 102.3L420.3 103.7L421.0 100.9L423.1 102.7L425.2 104.6L417.5 105.5L422.1 105.1L416.1 103.2L428.7 97.1L447.1 89.7L450.2 103.7L459.7 102.7L461.8 104.6L463.2 101.8L464.7 105.5L466.8 100.9L468.9 99.9L462.5 103.2L480.8 40.3L486.5 36.6L480.8 57.1L497.7 82.2L442.1 69.2L436.8 67.3L440.5 106.8L435.1 85.7L435.2 102.1L436.5 97.3L431.2 94.2L436.4 79.7L436.3 95.4L438.0 100.7L436.1 92.8L438.6 104.7L432.1 92.0L434.7 100.4L434.1 73.4L433.2 99.1L436.8 81.0L436.0 91.5L437.8 94.2L435.8 94.7L439.7 97.8L434.3 103.7L437.4 101.2L432.8 87.9L434.2 95.7L437.1 76.7L434.5 98.1L439.2 82.9L437.8 96.3L432.7 90.5L438.4 96.5L437.8 76.1L438.9 103.0L436.6 99.6L434.1 101.3L436.4 96.8L435.1 98.7L438.5 88.2L438.5 104.2L442.2 85.1L439.4 79.5L436.4 99.2L440.5 89.6L438.4 85.1L431.7 84.3L432.9 102.0L441.0 103.1L430.9 71.6L438.7 97.2L438.0 79.4L437.5 94.2L436.1 107.1L437.8 94.4L436.4 101.9L433.0 103.5L440.2 98.8L432.6 104.0L438.3 83.8L436.9 70.1L432.5 99.2L434.7 92.9L434.2 96.8L435.7 102.6L439.8 104.0L439.3 107.0L437.6 100.0L432.0 69.5L434.9 93.3L438.3 97.1L439.2 84.0L436.3 89.4L434.5 95.0L433.4 98.8L436.4 97.7L435.7 102.9L436.4 73.3L439.8 103.4L434.8 97.2L442.6 94.6L442.1 94.0L434.0 69.7L438.0 100.6L438.3 97.5L437.2 103.8L436.2 80.8L437.0 94.2L438.5 99.1L437.6 92.9L436.9 101.8L436.2 99.5L437.8 98.6L438.3 107.2L439.4 83.9L434.5 93.9L435.1 103.9L435.0 102.2L434.1 88.5L436.8 84.2L436.7 86.7L442.3 79.8L438.2 80.4L432.4 97.8L439.5 102.1L437.4 99.1L437.2 90.6L436.3 101.4L433.9 96.2L435.2 93.4L437.8 88.1L439.7 77.4L438.7 98.3L436.3 99.4L430.1 105.8L433.7 104.0L432.3 95.1L433.7 80.5L441.6 92.8L439.7 107.0L431.2 102.7L437.9 104.7L437.5 99.8L434.1 97.3L436.0 81.2L435.7 103.7L441.9 89.9L438.7 100.0L438.8 90.7L435.5 88.9L442.7 94.3L434.8 93.2L440.4 96.6L435.0 100.9L432.8 80.1L436.6 98.5L440.4 86.3L433.3 101.2L435.4 96.7L434.5 73.7L438.5 102.7L436.8 104.5L436.1 99.1L437.1 86.6L438.2 102.2L434.5 88.7L437.7 80.3L437.6 102.4L437.5 98.9L437.5 95.6L440.8 79.5L432.1 98.3L435.6 103.4L433.4 104.7L437.7 84.8L437.2 101.9L433.0 75.3L436.6 99.3L434.5 78.4L434.0 93.8L436.5 106.8L437.1 92.5L437.3 94.0L428.1 84.9L434.2 104.9L436.2 96.4L439.7 73.2L437.2 91.6L437.6 106.7L438.3 84.5L440.3 101.2L436.4 104.0L435.0 93.4L428.4 96.1L438.4 89.4L439.7 103.6L437.7 99.6L438.2 103.3L442.4 78.9L433.1 82.2L438.5 68.5L439.4 106.9L437.3 105.2L438.1 80.8L437.7 99.5L436.3 99.3L436.6 101.8L438.2 94.0L434.9 97.7L436.3 76.5L437.9 89.8L434.5 97.4L437.4 105.3L432.9 96.5L436.4 96.9L429.3 79.1L435.1 99.6L435.2 99.8L441.2 100.9L437.9 101.1L434.5 100.8L436.1 97.8L436.6 93.0L438.8 103.4L435.2 106.6L439.7 81.6L438.5 84.9L435.5 105.5L439.4 102.5L432.5 105.4L432.7 106.7L433.2 104.5L437.0 85.0L432.0 106.0L443.1 94.2L442.3 81.2L435.2 95.2L432.5 104.2L438.2 84.4L435.8 94.1L435.6 80.5L431.5 90.8L437.1 99.7L440.8 88.8L434.5 99.3L435.6 99.4L439.8 101.9L437.5 77.5L438.3 104.0L436.6 74.0L437.1 94.6L429.5 104.0L441.5 94.8L438.7 94.5L432.1 94.6L440.7 90.8L436.5 103.4L432.1 93.4L439.7 105.7L439.7 85.4L430.6 100.0L433.9 105.5L433.3 101.7L434.4 88.8L435.0 101.1L440.1 101.7L435.5 103.6L440.2 85.2L435.7 94.4L433.7 103.1L434.2 89.4L437.5 101.1L438.9 94.2L437.2 93.5L435.8 89.0L438.0 105.4L438.9 106.8L441.0 85.2L436.2 93.6L438.5 83.0L440.0 84.8L432.0 92.6L435.3 93.5L440.0 90.8" fill="none" stroke="none" marker-start="url(#mc)" marker-mid="url(#mc)" marker-end="url(#mc)"/>
<circle cx="433.5" cy="67.7" r="2.8" fill="#bde6d4" stroke="#2f9e74" stroke-width="0.9"/>
<text x="427.8" y="70.5" font-size="7.9" text-anchor="end" fill="#2f9e74" stroke="#2f9e74" stroke-width="0.1">PXR</text>
<circle cx="398.48" cy="77.58" r="3" fill="#e2c4ee" stroke="#9a4fb8" stroke-width="0.9"/>
<text x="389.8" y="88.3" font-size="7.9" text-anchor="middle" fill="#9a4fb8" stroke="#9a4fb8" stroke-width="0.1">ZC3H12C</text>
<line x1="367.5" y1="13.7" x2="367.5" y2="111" stroke="#2b2b2b" stroke-width="1.2" stroke-linecap="butt"/>
<line x1="363.9" y1="107.4" x2="508.8" y2="107.4" stroke="#2b2b2b" stroke-width="1.2" stroke-linecap="butt"/>
<line x1="364.1" y1="107.4" x2="367.5" y2="107.4" stroke="#2b2b2b" stroke-width="1.1" stroke-linecap="butt"/>
<text x="362.9" y="109.85" font-size="7" text-anchor="end" fill="#222" stroke="#222" stroke-width="0.1">0</text>
<line x1="364.1" y1="88.76" x2="367.5" y2="88.76" stroke="#2b2b2b" stroke-width="1.1" stroke-linecap="butt"/>
<text x="362.9" y="91.21" font-size="7" text-anchor="end" fill="#222" stroke="#222" stroke-width="0.1">2</text>
<line x1="364.1" y1="70.12" x2="367.5" y2="70.12" stroke="#2b2b2b" stroke-width="1.1" stroke-linecap="butt"/>
<text x="362.9" y="72.57" font-size="7" text-anchor="end" fill="#222" stroke="#222" stroke-width="0.1">4</text>
<line x1="364.1" y1="51.48" x2="367.5" y2="51.48" stroke="#2b2b2b" stroke-width="1.1" stroke-linecap="butt"/>
<text x="362.9" y="53.93" font-size="7" text-anchor="end" fill="#222" stroke="#222" stroke-width="0.1">6</text>
<line x1="364.1" y1="32.84" x2="367.5" y2="32.84" stroke="#2b2b2b" stroke-width="1.1" stroke-linecap="butt"/>
<text x="362.9" y="35.29" font-size="7" text-anchor="end" fill="#222" stroke="#222" stroke-width="0.1">8</text>
<line x1="364.1" y1="14.2" x2="367.5" y2="14.2" stroke="#2b2b2b" stroke-width="1.1" stroke-linecap="butt"/>
<text x="362.9" y="16.65" font-size="7" text-anchor="end" fill="#222" stroke="#222" stroke-width="0.1">10</text>
<line x1="367.5" y1="107.4" x2="367.5" y2="111" stroke="#2b2b2b" stroke-width="1.1" stroke-linecap="butt"/>
<text x="367.5" y="119.3" font-size="7" text-anchor="middle" fill="#222" stroke="#222" stroke-width="0.1">-20</text>
<line x1="402.7" y1="107.4" x2="402.7" y2="111" stroke="#2b2b2b" stroke-width="1.1" stroke-linecap="butt"/>
<text x="402.7" y="119.3" font-size="7" text-anchor="middle" fill="#222" stroke="#222" stroke-width="0.1">-10</text>
<line x1="437.9" y1="107.4" x2="437.9" y2="111" stroke="#2b2b2b" stroke-width="1.1" stroke-linecap="butt"/>
<text x="437.9" y="119.3" font-size="7" text-anchor="middle" fill="#222" stroke="#222" stroke-width="0.1">0</text>
<line x1="473.1" y1="107.4" x2="473.1" y2="111" stroke="#2b2b2b" stroke-width="1.1" stroke-linecap="butt"/>
<text x="473.1" y="119.3" font-size="7" text-anchor="middle" fill="#222" stroke="#222" stroke-width="0.1">10</text>
<line x1="508.3" y1="107.4" x2="508.3" y2="111" stroke="#2b2b2b" stroke-width="1.1" stroke-linecap="butt"/>
<text x="508.3" y="119.3" font-size="7" text-anchor="middle" fill="#222" stroke="#222" stroke-width="0.1">20</text>
<text x="342.3" y="7" font-size="9.8" text-anchor="start" fill="#111" font-weight="bold">C</text>
<text x="438" y="8.1" font-size="9.1" text-anchor="middle" fill="#1a1a1a" stroke="#1a1a1a" stroke-width="0.1">DIA: 100 nM MD-224, t = 2 h</text>
<text x="352.6" y="61" font-size="8" text-anchor="middle" fill="#222" stroke="#222" stroke-width="0.1" transform="rotate(-90 352.6 61)">P Value (-Log<tspan font-size="5.6" dy="1.7">10</tspan><tspan dy="-1.6">)</tspan></text>
<text x="438" y="130.6" font-size="7.7" text-anchor="middle" fill="#222" stroke="#222" stroke-width="0.1">FC (Log<tspan font-size="5.2" dy="1.6">2</tspan><tspan dy="-1.6">)</tspan></text>
<line x1="607.28" y1="14.2" x2="607.28" y2="107.4" stroke="#222" stroke-width="0.9" stroke-dasharray="0.9 2" stroke-linecap="butt"/>
<line x1="614.32" y1="14.2" x2="614.32" y2="107.4" stroke="#222" stroke-width="0.9" stroke-dasharray="0.9 2" stroke-linecap="butt"/>
<line x1="540.4" y1="95.28" x2="681.2" y2="95.28" stroke="#222" stroke-width="0.9" stroke-dasharray="0.9 2" stroke-linecap="butt"/>
<path d="M574.9 96.2L581.9 101.8L586.9 102.7L589.0 104.6L591.4 103.2L593.2 100.9L594.6 104.1L596.0 102.3L589.7 106.0L585.1 104.1L592.1 105.5L589.0 92.5L591.4 73.8L622.8 74.8L623.5 78.5L620.0 103.7L625.6 102.7L628.4 101.8L630.5 102.3L632.6 101.8L634.7 102.7L627.7 103.7L641.8 99.5L655.5 25.4L662.9 36.6L662.2 58.0L672.4 77.6L607.3 61.7L614.3 64.5L619.6 89.7L603.1 93.4L610.2 97.6L603.0 106.4L603.4 99.8L611.4 91.3L612.0 92.7L608.0 102.1L613.9 102.0L608.9 97.1L608.0 94.6L610.3 102.0L608.5 102.2L609.8 96.5L609.7 83.6L607.2 84.2L604.7 89.8L614.8 99.8L605.6 71.4L609.6 97.3L603.9 97.0L607.0 89.3L609.8 102.1L613.3 74.3L608.8 86.9L605.5 89.0L610.2 100.5L605.7 78.8L610.5 77.2L612.3 97.5L611.2 105.4L611.7 105.9L606.8 105.6L612.6 86.5L609.1 67.3L605.3 97.1L611.1 84.2L601.8 91.7L607.8 96.6L608.3 101.0L610.9 105.0L608.8 76.7L612.9 98.4L614.5 89.1L614.3 96.6L612.0 94.9L605.2 101.0L608.3 102.8L607.3 90.3L608.1 81.9L607.3 101.5L612.8 79.7L609.6 100.8L608.0 103.3L608.0 96.7L605.5 106.9L608.3 78.4L610.1 73.6L611.0 73.2L607.9 99.4L614.6 107.0L607.7 86.4L613.5 99.1L612.3 98.3L611.5 91.3L612.2 80.4L610.0 103.1L609.5 105.9L613.1 86.5L605.9 100.2L610.4 98.2L605.7 106.5L609.8 85.7L608.3 78.7L610.1 100.2L608.4 97.4L603.8 90.0L610.7 95.8L610.7 104.6L613.3 106.6L609.4 99.2L606.1 82.8L605.1 103.1L605.6 92.4L609.9 98.7L603.7 90.7L612.0 103.9L613.9 83.0L608.0 82.0L612.3 97.4L610.3 102.4L607.4 103.1L611.9 104.5L613.0 101.4L614.5 101.6L613.9 91.9L606.2 104.8L614.0 98.4L606.5 74.9L607.9 77.0L611.3 99.9L614.7 92.8L608.2 95.9L605.1 89.9L615.2 105.2L606.6 104.6L608.1 106.4L603.9 91.4L613.8 106.5L612.6 85.6L610.9 103.6L609.4 89.4L608.4 102.3L606.8 87.2L612.1 95.2L611.7 92.4L608.0 99.4L608.5 100.3L608.2 87.7L606.8 96.3L607.4 100.7L613.8 102.8L609.7 77.2L610.4 89.0L613.1 77.9L608.9 105.0L609.5 97.4L611.6 103.4L603.5 85.6L606.1 89.6L607.1 106.2L603.8 104.2L610.8 81.0L610.6 92.3L612.2 85.3L611.4 106.0L606.0 91.4L607.7 82.0L614.1 89.7L613.9 104.8L609.4 89.4L607.7 94.3L613.6 105.7L605.7 92.2L612.1 85.7L606.9 103.7L613.7 95.1L609.9 92.9L608.4 83.3L606.9 97.1L616.5 73.4L611.3 107.0L612.4 99.0L611.7 85.8L608.2 106.1L601.7 89.6L607.3 106.1L609.3 106.5L608.1 89.5L610.1 99.7L607.4 92.1L610.3 96.9L609.2 101.6L609.9 93.9L607.6 99.4L609.4 77.7L610.9 93.9L611.1 66.6L610.4 106.8L613.5 93.4L609.6 101.5L607.2 100.7L605.3 105.4L610.5 88.0L611.7 105.1L609.3 95.8L610.3 95.4L612.8 93.4L607.3 97.2L606.6 103.6L610.1 73.4L611.7 105.9L605.9 92.9L609.5 91.2L610.7 106.3L608.8 84.1L615.1 96.3L614.5 84.9L605.4 102.1L606.2 84.1L611.7 86.4L609.7 89.4L605.1 94.2L602.9 105.9L612.8 81.2L613.1 97.0L606.2 100.7L604.2 99.7L613.5 95.7L612.6 89.0L609.0 107.3L608.9 71.7L604.3 92.8L607.4 98.0L612.7 77.7L609.6 106.9L607.2 90.8L606.0 98.5L610.6 96.9L606.7 89.8L610.4 93.2L612.0 100.5L613.2 96.4L611.6 107.1L611.8 91.0L616.7 102.5L613.9 104.7L614.2 96.0L611.0 103.0L605.5 68.4L610.9 88.6L608.8 93.4L608.6 93.2L613.0 106.7L608.3 88.0L610.3 106.2L609.3 105.2L611.3 91.1L606.7 89.2L615.2 84.6L610.7 74.5L611.8 98.2L610.0 79.7L604.8 100.6L615.0 77.9L607.5 81.7L610.3 102.3L611.3 84.7L609.8 97.0L608.5 96.5L611.6 73.4L605.6 98.2L611.0 106.7L611.3 101.2L607.9 86.9L610.3 104.2L612.9 81.4L610.2 101.3L607.2 102.5L612.4 93.3L601.3 104.8L609.0 83.8L607.8 95.5L608.4 87.8L606.3 97.0L607.8 104.2L608.4 102.3L612.4 102.5L612.0 106.7L605.0 81.6L608.6 94.0L612.3 103.7L607.7 102.9L612.7 85.4L604.7 89.8L606.3 103.5L607.9 100.9L609.6 96.8L603.8 92.5L611.6 94.5L612.2 103.3L612.3 77.7" fill="none" stroke="none" marker-start="url(#mc)" marker-mid="url(#mc)" marker-end="url(#mc)"/>
<circle cx="568.56" cy="26.32" r="2.8" fill="#5664b4" stroke="#4655a8" stroke-width="0.6"/>
<text x="574.6" y="26.9" font-size="7.7" text-anchor="start" fill="#4a58ac" stroke="#4a58ac" stroke-width="0.1">MTSS2</text>
<circle cx="602.9" cy="57.3" r="2.8" fill="#bde6d4" stroke="#2f9e74" stroke-width="0.9"/>
<text x="599.2" y="56.6" font-size="7.9" text-anchor="end" fill="#2f9e74" stroke="#2f9e74" stroke-width="0.1">PXR</text>
<circle cx="572.08" cy="78.51" r="3" fill="#e2c4ee" stroke="#9a4fb8" stroke-width="0.9"/>
<text x="562" y="72.1" font-size="7.7" text-anchor="middle" fill="#9a4fb8" stroke="#9a4fb8" stroke-width="0.1">ZC3H12C</text>
<line x1="540.4" y1="13.7" x2="540.4" y2="111" stroke="#2b2b2b" stroke-width="1.2" stroke-linecap="butt"/>
<line x1="536.8" y1="107.4" x2="681.7" y2="107.4" stroke="#2b2b2b" stroke-width="1.2" stroke-linecap="butt"/>
<line x1="537" y1="107.4" x2="540.4" y2="107.4" stroke="#2b2b2b" stroke-width="1.1" stroke-linecap="butt"/>
<text x="535.8" y="109.85" font-size="7" text-anchor="end" fill="#222" stroke="#222" stroke-width="0.1">0</text>
<line x1="537" y1="88.76" x2="540.4" y2="88.76" stroke="#2b2b2b" stroke-width="1.1" stroke-linecap="butt"/>
<text x="535.8" y="91.21" font-size="7" text-anchor="end" fill="#222" stroke="#222" stroke-width="0.1">2</text>
<line x1="537" y1="70.12" x2="540.4" y2="70.12" stroke="#2b2b2b" stroke-width="1.1" stroke-linecap="butt"/>
<text x="535.8" y="72.57" font-size="7" text-anchor="end" fill="#222" stroke="#222" stroke-width="0.1">4</text>
<line x1="537" y1="51.48" x2="540.4" y2="51.48" stroke="#2b2b2b" stroke-width="1.1" stroke-linecap="butt"/>
<text x="535.8" y="53.93" font-size="7" text-anchor="end" fill="#222" stroke="#222" stroke-width="0.1">6</text>
<line x1="537" y1="32.84" x2="540.4" y2="32.84" stroke="#2b2b2b" stroke-width="1.1" stroke-linecap="butt"/>
<text x="535.8" y="35.29" font-size="7" text-anchor="end" fill="#222" stroke="#222" stroke-width="0.1">8</text>
<line x1="537" y1="14.2" x2="540.4" y2="14.2" stroke="#2b2b2b" stroke-width="1.1" stroke-linecap="butt"/>
<text x="535.8" y="16.65" font-size="7" text-anchor="end" fill="#222" stroke="#222" stroke-width="0.1">10</text>
<line x1="540.4" y1="107.4" x2="540.4" y2="111" stroke="#2b2b2b" stroke-width="1.1" stroke-linecap="butt"/>
<text x="540.4" y="119.3" font-size="7" text-anchor="middle" fill="#222" stroke="#222" stroke-width="0.1">-20</text>
<line x1="575.6" y1="107.4" x2="575.6" y2="111" stroke="#2b2b2b" stroke-width="1.1" stroke-linecap="butt"/>
<text x="575.6" y="119.3" font-size="7" text-anchor="middle" fill="#222" stroke="#222" stroke-width="0.1">-10</text>
<line x1="610.8" y1="107.4" x2="610.8" y2="111" stroke="#2b2b2b" stroke-width="1.1" stroke-linecap="butt"/>
<text x="610.8" y="119.3" font-size="7" text-anchor="middle" fill="#222" stroke="#222" stroke-width="0.1">0</text>
<line x1="646" y1="107.4" x2="646" y2="111" stroke="#2b2b2b" stroke-width="1.1" stroke-linecap="butt"/>
<text x="646" y="119.3" font-size="7" text-anchor="middle" fill="#222" stroke="#222" stroke-width="0.1">10</text>
<line x1="681.2" y1="107.4" x2="681.2" y2="111" stroke="#2b2b2b" stroke-width="1.1" stroke-linecap="butt"/>
<text x="681.2" y="119.3" font-size="7" text-anchor="middle" fill="#222" stroke="#222" stroke-width="0.1">20</text>
<text x="515.3" y="6.9" font-size="9.8" text-anchor="start" fill="#111" font-weight="bold">D</text>
<text x="610.8" y="8.1" font-size="9.1" text-anchor="middle" fill="#1a1a1a" stroke="#1a1a1a" stroke-width="0.1">DIA: 1 μM MD-224, t = 2 h</text>
<text x="525.8" y="61" font-size="8" text-anchor="middle" fill="#222" stroke="#222" stroke-width="0.1" transform="rotate(-90 525.8 61)">P Value (-Log<tspan font-size="5.6" dy="1.7">10</tspan><tspan dy="-1.6">)</tspan></text>
<text x="610.8" y="130.6" font-size="7.7" text-anchor="middle" fill="#222" stroke="#222" stroke-width="0.1">FC (Log<tspan font-size="5.2" dy="1.6">2</tspan><tspan dy="-1.6">)</tspan></text>
<path d="M470.5 195.8V192.2M468.5 192.2h4M470.5 195.8V199.5M468.5 199.5h4M483.7 195.8V193.1M481.7 193.1h4M483.7 195.8V198.6M481.7 198.6h4M496.9 195.4V191.7M494.9 191.7h4M496.9 195.4V199.0M494.9 199.0h4M510.0 195.8V191.3M508.0 191.3h4M510.0 195.8V200.4M508.0 200.4h4M523.2 195.4V191.7M521.2 191.7h4M523.2 195.4V199.0M521.2 199.0h4M536.3 192.2V187.6M534.3 187.6h4M536.3 192.2V196.8M534.3 196.8h4M549.5 189.5V184.0M547.5 184.0h4M549.5 189.5V194.9M547.5 194.9h4M562.7 188.1V183.5M560.7 183.5h4M562.7 188.1V192.7M560.7 192.7h4M575.8 187.2V182.6M573.8 182.6h4M575.8 187.2V191.7M573.8 191.7h4M589.0 186.3V181.7M587.0 181.7h4M589.0 186.3V190.8M587.0 190.8h4" stroke="#9a9a9a" stroke-width="0.75" fill="none"/>
<path d="M470.5 196.3V192.7M468.5 192.7h4M470.5 196.3V200.0M468.5 200.0h4M483.7 195.4V191.7M481.7 191.7h4M483.7 195.4V199.0M481.7 199.0h4M496.9 194.9V191.3M494.9 191.3h4M496.9 194.9V198.6M494.9 198.6h4M510.0 195.8V191.3M508.0 191.3h4M510.0 195.8V200.4M508.0 200.4h4M523.2 194.0V190.4M521.2 190.4h4M523.2 194.0V197.7M521.2 197.7h4M536.3 189.9V185.4M534.3 185.4h4M536.3 189.9V194.5M534.3 194.5h4M549.5 184.9V176.7M547.5 176.7h4M549.5 184.9V193.1M547.5 193.1h4M562.7 185.8V179.4M560.7 179.4h4M562.7 185.8V192.2M560.7 192.2h4M575.8 186.3V180.8M573.8 180.8h4M575.8 186.3V191.7M573.8 191.7h4M589.0 188.5V183.1M587.0 183.1h4M589.0 188.5V194.0M587.0 194.0h4" stroke="#c4c4c4" stroke-width="0.75" fill="none"/>
<path d="M470.5 195.8V192.2M468.5 192.2h4M470.5 195.8V199.5M468.5 199.5h4M483.7 195.4V191.7M481.7 191.7h4M483.7 195.4V199.0M481.7 199.0h4M496.9 195.8V192.2M494.9 192.2h4M496.9 195.8V199.5M494.9 199.5h4M510.0 196.3V192.7M508.0 192.7h4M510.0 196.3V200.0M508.0 200.0h4M523.2 200.9V198.1M521.2 198.1h4M523.2 200.9V203.6M521.2 203.6h4M536.3 198.1V194.5M534.3 194.5h4M536.3 198.1V201.8M534.3 201.8h4M549.5 195.8V191.3M547.5 191.3h4M549.5 195.8V200.4M547.5 200.4h4M562.7 194.9V190.4M560.7 190.4h4M562.7 194.9V199.5M560.7 199.5h4M575.8 195.8V189.5M573.8 189.5h4M575.8 195.8V202.2M573.8 202.2h4M589.0 195.4V190.8M587.0 190.8h4M589.0 195.4V200.0M587.0 200.0h4" stroke="#e48c4c" stroke-width="0.75" fill="none"/>
<path d="M470.5 194.5V191.7M468.5 191.7h4M470.5 194.5V197.2M468.5 197.2h4M483.7 194.5V191.7M481.7 191.7h4M483.7 194.5V197.2M481.7 197.2h4M496.9 194.5V191.7M494.9 191.7h4M496.9 194.5V197.2M494.9 197.2h4M510.0 194.9V192.2M508.0 192.2h4M510.0 194.9V197.7M508.0 197.7h4M523.2 194.9V192.2M521.2 192.2h4M523.2 194.9V197.7M521.2 197.7h4M536.3 194.0V191.3M534.3 191.3h4M536.3 194.0V196.8M534.3 196.8h4M549.5 193.6V190.8M547.5 190.8h4M549.5 193.6V196.3M547.5 196.3h4M562.7 193.1V190.4M560.7 190.4h4M562.7 193.1V195.8M560.7 195.8h4M575.8 193.1V190.4M573.8 190.4h4M575.8 193.1V195.8M573.8 195.8h4M589.0 193.1V190.4M587.0 190.4h4M589.0 193.1V195.8M587.0 195.8h4" stroke="#3fa6cf" stroke-width="0.75" fill="none"/>
<path d="M470.5 192.2V189.5M468.5 189.5h4M470.5 192.2V194.9M468.5 194.9h4M483.7 192.2V189.5M481.7 189.5h4M483.7 192.2V194.9M481.7 194.9h4M496.9 191.7V189.0M494.9 189.0h4M496.9 191.7V194.5M494.9 194.5h4M510.0 191.7V189.0M508.0 189.0h4M510.0 191.7V194.5M508.0 194.5h4M523.2 191.7V189.0M521.2 189.0h4M523.2 191.7V194.5M521.2 194.5h4M536.3 191.3V188.5M534.3 188.5h4M536.3 191.3V194.0M534.3 194.0h4M549.5 190.4V187.6M547.5 187.6h4M549.5 190.4V193.1M547.5 193.1h4M562.7 190.4V187.6M560.7 187.6h4M562.7 190.4V193.1M560.7 193.1h4M575.8 190.4V187.6M573.8 187.6h4M575.8 190.4V193.1M573.8 193.1h4M589.0 190.4V187.6M587.0 187.6h4M589.0 190.4V193.1M587.0 193.1h4" stroke="#4a9658" stroke-width="0.75" fill="none"/>
<path d="M470.5 194.9V191.3M468.5 191.3h4M470.5 194.9V198.6M468.5 198.6h4M483.7 194.5V190.8M481.7 190.8h4M483.7 194.5V198.1M481.7 198.1h4M496.9 194.5V190.8M494.9 190.8h4M496.9 194.5V198.1M494.9 198.1h4M510.0 194.5V190.8M508.0 190.8h4M510.0 194.5V198.1M508.0 198.1h4M523.2 194.5V190.8M521.2 190.8h4M523.2 194.5V198.1M521.2 198.1h4M536.3 193.6V189.9M534.3 189.9h4M536.3 193.6V197.2M534.3 197.2h4M549.5 193.1V189.5M547.5 189.5h4M549.5 193.1V196.8M547.5 196.8h4M562.7 192.7V189.0M560.7 189.0h4M562.7 192.7V196.3M560.7 196.3h4M575.8 192.7V189.0M573.8 189.0h4M575.8 192.7V196.3M573.8 196.3h4M589.0 192.7V189.0M587.0 189.0h4M589.0 192.7V196.3M587.0 196.3h4" stroke="#de4c8c" stroke-width="0.75" fill="none"/>
<path d="M470.5 194.5V190.8M468.5 190.8h4M470.5 194.5V198.1M468.5 198.1h4M483.7 194.0V189.5M481.7 189.5h4M483.7 194.0V198.6M481.7 198.6h4M496.9 194.0V189.5M494.9 189.5h4M496.9 194.0V198.6M494.9 198.6h4M510.0 194.0V188.5M508.0 188.5h4M510.0 194.0V199.5M508.0 199.5h4M523.2 193.6V189.0M521.2 189.0h4M523.2 193.6V198.1M521.2 198.1h4M536.3 190.4V184.9M534.3 184.9h4M536.3 190.4V195.8M534.3 195.8h4M549.5 186.7V180.3M547.5 180.3h4M549.5 186.7V193.1M547.5 193.1h4M562.7 182.6V177.1M560.7 177.1h4M562.7 182.6V188.1M560.7 188.1h4M575.8 180.8V175.3M573.8 175.3h4M575.8 180.8V186.3M573.8 186.3h4M589.0 178.5V164.8M587.0 164.8h4M589.0 178.5V192.2M587.0 192.2h4" stroke="#cf4b55" stroke-width="0.75" fill="none"/>
<path d="M470.5 193.1V190.4M468.5 190.4h4M470.5 193.1V195.8M468.5 195.8h4M483.7 192.7V189.0M481.7 189.0h4M483.7 192.7V196.3M481.7 196.3h4M496.9 192.2V188.5M494.9 188.5h4M496.9 192.2V195.8M494.9 195.8h4M510.0 192.2V181.2M508.0 181.2h4M510.0 192.2V203.2M508.0 203.2h4M523.2 192.2V184.9M521.2 184.9h4M523.2 192.2V199.5M521.2 199.5h4M536.3 195.8V191.3M534.3 191.3h4M536.3 195.8V200.4M534.3 200.4h4M549.5 192.7V187.2M547.5 187.2h4M549.5 192.7V198.1M547.5 198.1h4M562.7 193.1V187.6M560.7 187.6h4M562.7 193.1V198.6M560.7 198.6h4M575.8 194.0V187.6M573.8 187.6h4M575.8 194.0V200.4M573.8 200.4h4M589.0 196.8V191.3M587.0 191.3h4M589.0 196.8V202.2M587.0 202.2h4" stroke="#aaaa44" stroke-width="0.75" fill="none"/>
<path d="M470.5 194.0V191.3M468.5 191.3h4M470.5 194.0V196.8M468.5 196.8h4M483.7 196.3V192.7M481.7 192.7h4M483.7 196.3V200.0M481.7 200.0h4M496.9 199.0V195.4M494.9 195.4h4M496.9 199.0V202.7M494.9 202.7h4M510.0 205.0V201.3M508.0 201.3h4M510.0 205.0V208.6M508.0 208.6h4M523.2 209.5V205.9M521.2 205.9h4M523.2 209.5V213.2M521.2 213.2h4M536.3 213.7V210.0M534.3 210.0h4M536.3 213.7V217.3M534.3 217.3h4M549.5 214.1V210.5M547.5 210.5h4M549.5 214.1V217.8M547.5 217.8h4M562.7 214.1V210.5M560.7 210.5h4M562.7 214.1V217.8M560.7 217.8h4M575.8 213.7V210.0M573.8 210.0h4M575.8 213.7V217.3M573.8 217.3h4M589.0 213.7V210.0M587.0 210.0h4M589.0 213.7V217.3M587.0 217.3h4" stroke="#4352a8" stroke-width="0.75" fill="none"/>
<path d="M470.5 196.8V194.0M468.5 194.0h4M470.5 196.8V199.5M468.5 199.5h4M483.7 197.7V194.0M481.7 194.0h4M483.7 197.7V201.3M481.7 201.3h4M496.9 199.0V194.5M494.9 194.5h4M496.9 199.0V203.6M494.9 203.6h4M510.0 207.7V202.2M508.0 202.2h4M510.0 207.7V213.2M508.0 213.2h4M523.2 210.9V205.4M521.2 205.4h4M523.2 210.9V216.4M521.2 216.4h4M536.3 216.4V210.0M534.3 210.0h4M536.3 216.4V222.8M534.3 222.8h4M549.5 217.8V211.4M547.5 211.4h4M549.5 217.8V224.2M547.5 224.2h4M562.7 215.5V210.0M560.7 210.0h4M562.7 215.5V221.0M560.7 221.0h4M575.8 215.0V209.5M573.8 209.5h4M575.8 215.0V220.5M573.8 220.5h4M589.0 215.0V210.5M587.0 210.5h4M589.0 215.0V219.6M587.0 219.6h4" stroke="#9452c2" stroke-width="0.75" fill="none"/>
<path d="M470.5 195.4V191.7M468.5 191.7h4M470.5 195.4V199.0M468.5 199.0h4M483.7 194.9V191.3M481.7 191.3h4M483.7 194.9V198.6M481.7 198.6h4M496.9 198.6V194.9M494.9 194.9h4M496.9 198.6V202.2M494.9 202.2h4M510.0 204.1V200.4M508.0 200.4h4M510.0 204.1V207.7M508.0 207.7h4M523.2 209.1V205.4M521.2 205.4h4M523.2 209.1V212.7M521.2 212.7h4M536.3 214.1V210.5M534.3 210.5h4M536.3 214.1V217.8M534.3 217.8h4M549.5 214.1V210.5M547.5 210.5h4M549.5 214.1V217.8M547.5 217.8h4M562.7 214.1V210.5M560.7 210.5h4M562.7 214.1V217.8M560.7 217.8h4M575.8 214.1V210.5M573.8 210.5h4M575.8 214.1V217.8M573.8 217.8h4M589.0 214.1V210.5M587.0 210.5h4M589.0 214.1V217.8M587.0 217.8h4" stroke="#22a47e" stroke-width="0.75" fill="none"/>
<path d="M470.5 199.5V196.8M468.5 196.8h4M470.5 199.5V202.2M468.5 202.2h4M483.7 203.2V198.6M481.7 198.6h4M483.7 203.2V207.7M481.7 207.7h4M496.9 213.2V210.5M494.9 210.5h4M496.9 213.2V215.9M494.9 215.9h4M510.0 222.8V220.0M508.0 220.0h4M510.0 222.8V225.5M508.0 225.5h4M523.2 228.7V227.3M521.2 227.3h4M523.2 228.7V230.1M521.2 230.1h4M536.3 231.0V229.6M534.3 229.6h4M536.3 231.0V232.4M534.3 232.4h4M549.5 231.5V230.5M547.5 230.5h4M549.5 231.5V232.4M547.5 232.4h4M562.7 231.0V228.3M560.7 228.3h4M562.7 231.0V233.7M560.7 233.7h4M575.8 231.0V230.1M573.8 230.1h4M575.8 231.0V231.9M573.8 231.9h4M589.0 231.0V230.1M587.0 230.1h4M589.0 231.0V231.9M587.0 231.9h4" stroke="#222222" stroke-width="0.75" fill="none"/>
<polyline points="470.5,195.8 472.3,195.9 474.9,195.9 477.8,195.9 480.9,195.9 483.7,195.8 486.3,195.8 489.0,195.7 491.6,195.5 494.2,195.4 496.9,195.4 499.5,195.4 502.1,195.6 504.8,195.7 507.4,195.8 510.0,195.8 512.7,195.9 515.3,195.9 517.9,195.8 520.6,195.7 523.2,195.4 525.8,194.9 528.4,194.3 531.1,193.6 533.7,192.9 536.3,192.2 539.0,191.6 541.6,191.0 544.2,190.4 546.9,189.9 549.5,189.5 552.1,189.1 554.8,188.8 557.4,188.5 560.0,188.3 562.7,188.1 565.3,187.9 567.9,187.7 570.6,187.5 573.2,187.4 575.8,187.2 578.7,187.0 581.7,186.8 584.7,186.6 587.2,186.4 589.0,186.3" fill="none" stroke="#9a9a9a" stroke-width="1.1" stroke-linejoin="round"/>
<polyline points="470.5,196.3 472.3,196.2 474.9,196.0 477.8,195.8 480.9,195.6 483.7,195.4 486.3,195.3 489.0,195.1 491.6,195.0 494.2,194.9 496.9,194.9 499.5,195.1 502.1,195.3 504.8,195.6 507.4,195.8 510.0,195.8 512.7,195.7 515.3,195.4 517.9,195.1 520.6,194.6 523.2,194.0 525.8,193.4 528.4,192.6 531.1,191.7 533.7,190.8 536.3,189.9 539.0,188.9 541.6,187.7 544.2,186.5 546.9,185.5 549.5,184.9 552.1,184.7 554.8,184.9 557.4,185.2 560.0,185.6 562.7,185.8 565.3,185.9 567.9,185.9 570.6,186.0 573.2,186.1 575.8,186.3 578.7,186.6 581.7,187.2 584.7,187.7 587.2,188.2 589.0,188.5" fill="none" stroke="#c4c4c4" stroke-width="1.1" stroke-linejoin="round"/>
<polyline points="470.5,195.8 472.3,195.8 474.9,195.7 477.8,195.5 480.9,195.4 483.7,195.4 486.3,195.4 489.0,195.5 491.6,195.6 494.2,195.7 496.9,195.8 499.5,195.9 502.1,195.8 504.8,195.8 507.4,196.0 510.0,196.3 512.7,197.1 515.3,198.2 517.9,199.4 520.6,200.4 523.2,200.9 525.8,200.8 528.4,200.3 531.1,199.5 533.7,198.8 536.3,198.1 539.0,197.6 541.6,197.1 544.2,196.6 546.9,196.2 549.5,195.8 552.1,195.6 554.8,195.3 557.4,195.1 560.0,195.0 562.7,194.9 565.3,195.0 567.9,195.2 570.6,195.5 573.2,195.7 575.8,195.8 578.7,195.8 581.7,195.7 584.7,195.6 587.2,195.5 589.0,195.4" fill="none" stroke="#e48c4c" stroke-width="1.1" stroke-linejoin="round"/>
<polyline points="470.5,194.5 472.3,194.5 474.9,194.5 477.8,194.5 480.9,194.5 483.7,194.5 486.3,194.5 489.0,194.5 491.6,194.4 494.2,194.5 496.9,194.5 499.5,194.5 502.1,194.7 504.8,194.8 507.4,194.9 510.0,194.9 512.7,195.0 515.3,195.0 517.9,195.0 520.6,195.0 523.2,194.9 525.8,194.8 528.4,194.6 531.1,194.4 533.7,194.2 536.3,194.0 539.0,193.9 541.6,193.8 544.2,193.7 546.9,193.7 549.5,193.6 552.1,193.5 554.8,193.4 557.4,193.3 560.0,193.2 562.7,193.1 565.3,193.1 567.9,193.1 570.6,193.1 573.2,193.1 575.8,193.1 578.7,193.1 581.7,193.1 584.7,193.1 587.2,193.1 589.0,193.1" fill="none" stroke="#3fa6cf" stroke-width="1.1" stroke-linejoin="round"/>
<polyline points="470.5,192.2 472.3,192.2 474.9,192.2 477.8,192.2 480.9,192.2 483.7,192.2 486.3,192.1 489.0,192.0 491.6,191.9 494.2,191.8 496.9,191.7 499.5,191.7 502.1,191.7 504.8,191.7 507.4,191.7 510.0,191.7 512.7,191.7 515.3,191.8 517.9,191.8 520.6,191.8 523.2,191.7 525.8,191.7 528.4,191.6 531.1,191.5 533.7,191.4 536.3,191.3 539.0,191.1 541.6,190.9 544.2,190.7 546.9,190.5 549.5,190.4 552.1,190.3 554.8,190.3 557.4,190.3 560.0,190.4 562.7,190.4 565.3,190.4 567.9,190.4 570.6,190.4 573.2,190.4 575.8,190.4 578.7,190.4 581.7,190.4 584.7,190.4 587.2,190.4 589.0,190.4" fill="none" stroke="#4a9658" stroke-width="1.1" stroke-linejoin="round"/>
<polyline points="470.5,194.9 472.3,194.9 474.9,194.8 477.8,194.7 480.9,194.5 483.7,194.5 486.3,194.5 489.0,194.4 491.6,194.5 494.2,194.5 496.9,194.5 499.5,194.5 502.1,194.5 504.8,194.5 507.4,194.5 510.0,194.5 512.7,194.5 515.3,194.5 517.9,194.5 520.6,194.5 523.2,194.5 525.8,194.3 528.4,194.2 531.1,193.9 533.7,193.7 536.3,193.6 539.0,193.4 541.6,193.4 544.2,193.3 546.9,193.2 549.5,193.1 552.1,193.0 554.8,192.9 557.4,192.8 560.0,192.7 562.7,192.7 565.3,192.6 567.9,192.6 570.6,192.6 573.2,192.6 575.8,192.7 578.7,192.7 581.7,192.7 584.7,192.7 587.2,192.7 589.0,192.7" fill="none" stroke="#de4c8c" stroke-width="1.1" stroke-linejoin="round"/>
<polyline points="470.5,194.5 472.3,194.4 474.9,194.3 477.8,194.2 480.9,194.1 483.7,194.0 486.3,194.0 489.0,194.0 491.6,194.0 494.2,194.0 496.9,194.0 499.5,194.0 502.1,194.0 504.8,194.1 507.4,194.1 510.0,194.0 512.7,194.0 515.3,194.0 517.9,194.0 520.6,193.8 523.2,193.6 525.8,193.1 528.4,192.5 531.1,191.8 533.7,191.1 536.3,190.4 539.0,189.7 541.6,189.0 544.2,188.2 546.9,187.5 549.5,186.7 552.1,185.9 554.8,185.0 557.4,184.1 560.0,183.3 562.7,182.6 565.3,182.1 567.9,181.7 570.6,181.4 573.2,181.1 575.8,180.8 578.7,180.3 581.7,179.8 584.7,179.3 587.2,178.8 589.0,178.5" fill="none" stroke="#cf4b55" stroke-width="1.1" stroke-linejoin="round"/>
<polyline points="470.5,193.1 472.3,193.0 474.9,193.0 477.8,192.9 480.9,192.8 483.7,192.7 486.3,192.6 489.0,192.4 491.6,192.3 494.2,192.3 496.9,192.2 499.5,192.2 502.1,192.2 504.8,192.2 507.4,192.2 510.0,192.2 512.7,192.1 515.3,192.0 517.9,191.9 520.6,192.0 523.2,192.2 525.8,192.8 528.4,193.7 531.1,194.7 533.7,195.5 536.3,195.8 539.0,195.6 541.6,194.9 544.2,194.0 546.9,193.2 549.5,192.7 552.1,192.5 554.8,192.6 557.4,192.7 560.0,192.9 562.7,193.1 565.3,193.2 567.9,193.4 570.6,193.5 573.2,193.7 575.8,194.0 578.7,194.5 581.7,195.1 584.7,195.8 587.2,196.4 589.0,196.8" fill="none" stroke="#aaaa44" stroke-width="1.1" stroke-linejoin="round"/>
<polyline points="470.5,194.2 472.6,194.3 474.6,194.3 476.6,194.4 478.6,194.5 480.6,194.7 482.6,194.8 484.6,195.0 486.6,195.3 488.6,195.6 490.6,196.0 492.6,196.4 494.6,197.0 496.6,197.6 498.7,198.4 500.7,199.2 502.7,200.2 504.7,201.2 506.7,202.3 508.7,203.5 510.7,204.7 512.7,205.8 514.7,206.9 516.7,208.0 518.7,208.9 520.7,209.8 522.7,210.5 524.7,211.2 526.8,211.7 528.8,212.2 530.8,212.5 532.8,212.8 534.8,213.1 536.8,213.3 538.8,213.5 540.8,213.6 542.8,213.7 544.8,213.8 546.8,213.9 548.8,213.9 550.8,213.9 552.8,214.0 554.9,214.0 556.9,214.0 558.9,214.0 560.9,214.1 562.9,214.1 564.9,214.1 566.9,214.1 568.9,214.1 570.9,214.1 572.9,214.1 574.9,214.1 576.9,214.1 578.9,214.1 580.9,214.1 583.0,214.1 585.0,214.1 587.0,214.1 589.0,214.1" fill="none" stroke="#4352a8" stroke-width="1.1" stroke-linejoin="round"/>
<polyline points="470.5,196.5 472.6,196.6 474.6,196.6 476.6,196.7 478.6,196.8 480.6,197.0 482.6,197.1 484.6,197.3 486.6,197.6 488.6,197.9 490.6,198.3 492.6,198.7 494.6,199.3 496.6,199.9 498.7,200.6 500.7,201.5 502.7,202.4 504.7,203.5 506.7,204.6 508.7,205.8 510.7,206.9 512.7,208.1 514.7,209.2 516.7,210.3 518.7,211.2 520.7,212.1 522.7,212.8 524.7,213.4 526.8,214.0 528.8,214.4 530.8,214.8 532.8,215.1 534.8,215.4 536.8,215.6 538.8,215.7 540.8,215.9 542.8,216.0 544.8,216.1 546.8,216.1 548.8,216.2 550.8,216.2 552.8,216.3 554.9,216.3 556.9,216.3 558.9,216.3 560.9,216.3 562.9,216.4 564.9,216.4 566.9,216.4 568.9,216.4 570.9,216.4 572.9,216.4 574.9,216.4 576.9,216.4 578.9,216.4 580.9,216.4 583.0,216.4 585.0,216.4 587.0,216.4 589.0,216.4" fill="none" stroke="#9452c2" stroke-width="1.1" stroke-linejoin="round"/>
<polyline points="470.5,194.6 472.6,194.6 474.6,194.7 476.6,194.7 478.6,194.8 480.6,194.9 482.6,195.0 484.6,195.2 486.6,195.4 488.6,195.6 490.6,195.9 492.6,196.3 494.6,196.7 496.6,197.3 498.7,197.9 500.7,198.7 502.7,199.6 504.7,200.6 506.7,201.7 508.7,202.9 510.7,204.2 512.7,205.4 514.7,206.6 516.7,207.8 518.7,208.8 520.7,209.8 522.7,210.6 524.7,211.3 526.8,211.9 528.8,212.4 530.8,212.8 532.8,213.1 534.8,213.4 536.8,213.6 538.8,213.7 540.8,213.9 542.8,214.0 544.8,214.1 546.8,214.1 548.8,214.2 550.8,214.2 552.8,214.2 554.9,214.3 556.9,214.3 558.9,214.3 560.9,214.3 562.9,214.3 564.9,214.3 566.9,214.3 568.9,214.3 570.9,214.3 572.9,214.3 574.9,214.3 576.9,214.3 578.9,214.3 580.9,214.3 583.0,214.3 585.0,214.3 587.0,214.3 589.0,214.3" fill="none" stroke="#22a47e" stroke-width="1.1" stroke-linejoin="round"/>
<polyline points="470.5,200.3 472.6,200.6 474.6,200.9 476.6,201.4 478.6,201.9 480.6,202.5 482.6,203.2 484.6,204.1 486.6,205.1 488.6,206.2 490.6,207.5 492.6,208.9 494.6,210.5 496.6,212.1 498.7,213.9 500.7,215.6 502.7,217.3 504.7,219.0 506.7,220.6 508.7,222.1 510.7,223.5 512.7,224.7 514.7,225.7 516.7,226.7 518.7,227.5 520.7,228.1 522.7,228.7 524.7,229.1 526.8,229.5 528.8,229.9 530.8,230.1 532.8,230.3 534.8,230.5 536.8,230.6 538.8,230.8 540.8,230.8 542.8,230.9 544.8,231.0 546.8,231.0 548.8,231.1 550.8,231.1 552.8,231.1 554.9,231.1 556.9,231.2 558.9,231.2 560.9,231.2 562.9,231.2 564.9,231.2 566.9,231.2 568.9,231.2 570.9,231.2 572.9,231.2 574.9,231.2 576.9,231.2 578.9,231.2 580.9,231.2 583.0,231.2 585.0,231.2 587.0,231.2 589.0,231.2" fill="none" stroke="#222222" stroke-width="1.1" stroke-linejoin="round"/>
<circle cx="470.55" cy="195.85" r="2.3" fill="#cacaca" stroke="#9a9a9a" stroke-width="0.8"/>
<circle cx="483.71" cy="195.85" r="2.3" fill="#cacaca" stroke="#9a9a9a" stroke-width="0.8"/>
<circle cx="496.87" cy="195.39" r="2.3" fill="#cacaca" stroke="#9a9a9a" stroke-width="0.8"/>
<circle cx="510.02" cy="195.85" r="2.3" fill="#cacaca" stroke="#9a9a9a" stroke-width="0.8"/>
<circle cx="523.18" cy="195.39" r="2.3" fill="#cacaca" stroke="#9a9a9a" stroke-width="0.8"/>
<circle cx="536.34" cy="192.2" r="2.3" fill="#cacaca" stroke="#9a9a9a" stroke-width="0.8"/>
<circle cx="549.5" cy="189.46" r="2.3" fill="#cacaca" stroke="#9a9a9a" stroke-width="0.8"/>
<circle cx="562.66" cy="188.09" r="2.3" fill="#cacaca" stroke="#9a9a9a" stroke-width="0.8"/>
<circle cx="575.82" cy="187.18" r="2.3" fill="#cacaca" stroke="#9a9a9a" stroke-width="0.8"/>
<circle cx="588.98" cy="186.26" r="2.3" fill="#cacaca" stroke="#9a9a9a" stroke-width="0.8"/>
<circle cx="470.55" cy="196.31" r="2.3" fill="#fafafa" stroke="#c4c4c4" stroke-width="0.8"/>
<circle cx="483.71" cy="195.39" r="2.3" fill="#fafafa" stroke="#c4c4c4" stroke-width="0.8"/>
<circle cx="496.87" cy="194.94" r="2.3" fill="#fafafa" stroke="#c4c4c4" stroke-width="0.8"/>
<circle cx="510.02" cy="195.85" r="2.3" fill="#fafafa" stroke="#c4c4c4" stroke-width="0.8"/>
<circle cx="523.18" cy="194.02" r="2.3" fill="#fafafa" stroke="#c4c4c4" stroke-width="0.8"/>
<circle cx="536.34" cy="189.92" r="2.3" fill="#fafafa" stroke="#c4c4c4" stroke-width="0.8"/>
<circle cx="549.5" cy="184.89" r="2.3" fill="#fafafa" stroke="#c4c4c4" stroke-width="0.8"/>
<circle cx="562.66" cy="185.81" r="2.3" fill="#fafafa" stroke="#c4c4c4" stroke-width="0.8"/>
<circle cx="575.82" cy="186.26" r="2.3" fill="#fafafa" stroke="#c4c4c4" stroke-width="0.8"/>
<circle cx="588.98" cy="188.55" r="2.3" fill="#fafafa" stroke="#c4c4c4" stroke-width="0.8"/>
<circle cx="470.55" cy="195.85" r="2.3" fill="#f8d2b2" stroke="#e48c4c" stroke-width="0.8"/>
<circle cx="483.71" cy="195.39" r="2.3" fill="#f8d2b2" stroke="#e48c4c" stroke-width="0.8"/>
<circle cx="496.87" cy="195.85" r="2.3" fill="#f8d2b2" stroke="#e48c4c" stroke-width="0.8"/>
<circle cx="510.02" cy="196.31" r="2.3" fill="#f8d2b2" stroke="#e48c4c" stroke-width="0.8"/>
<circle cx="523.18" cy="200.87" r="2.3" fill="#f8d2b2" stroke="#e48c4c" stroke-width="0.8"/>
<circle cx="536.34" cy="198.13" r="2.3" fill="#f8d2b2" stroke="#e48c4c" stroke-width="0.8"/>
<circle cx="549.5" cy="195.85" r="2.3" fill="#f8d2b2" stroke="#e48c4c" stroke-width="0.8"/>
<circle cx="562.66" cy="194.94" r="2.3" fill="#f8d2b2" stroke="#e48c4c" stroke-width="0.8"/>
<circle cx="575.82" cy="195.85" r="2.3" fill="#f8d2b2" stroke="#e48c4c" stroke-width="0.8"/>
<circle cx="588.98" cy="195.39" r="2.3" fill="#f8d2b2" stroke="#e48c4c" stroke-width="0.8"/>
<circle cx="470.55" cy="194.48" r="2.3" fill="#bde2f2" stroke="#3fa6cf" stroke-width="0.8"/>
<circle cx="483.71" cy="194.48" r="2.3" fill="#bde2f2" stroke="#3fa6cf" stroke-width="0.8"/>
<circle cx="496.87" cy="194.48" r="2.3" fill="#bde2f2" stroke="#3fa6cf" stroke-width="0.8"/>
<circle cx="510.02" cy="194.94" r="2.3" fill="#bde2f2" stroke="#3fa6cf" stroke-width="0.8"/>
<circle cx="523.18" cy="194.94" r="2.3" fill="#bde2f2" stroke="#3fa6cf" stroke-width="0.8"/>
<circle cx="536.34" cy="194.02" r="2.3" fill="#bde2f2" stroke="#3fa6cf" stroke-width="0.8"/>
<circle cx="549.5" cy="193.57" r="2.3" fill="#bde2f2" stroke="#3fa6cf" stroke-width="0.8"/>
<circle cx="562.66" cy="193.11" r="2.3" fill="#bde2f2" stroke="#3fa6cf" stroke-width="0.8"/>
<circle cx="575.82" cy="193.11" r="2.3" fill="#bde2f2" stroke="#3fa6cf" stroke-width="0.8"/>
<circle cx="588.98" cy="193.11" r="2.3" fill="#bde2f2" stroke="#3fa6cf" stroke-width="0.8"/>
<circle cx="470.55" cy="192.2" r="2.3" fill="#b0dcb8" stroke="#4a9658" stroke-width="0.8"/>
<circle cx="483.71" cy="192.2" r="2.3" fill="#b0dcb8" stroke="#4a9658" stroke-width="0.8"/>
<circle cx="496.87" cy="191.74" r="2.3" fill="#b0dcb8" stroke="#4a9658" stroke-width="0.8"/>
<circle cx="510.02" cy="191.74" r="2.3" fill="#b0dcb8" stroke="#4a9658" stroke-width="0.8"/>
<circle cx="523.18" cy="191.74" r="2.3" fill="#b0dcb8" stroke="#4a9658" stroke-width="0.8"/>
<circle cx="536.34" cy="191.28" r="2.3" fill="#b0dcb8" stroke="#4a9658" stroke-width="0.8"/>
<circle cx="549.5" cy="190.37" r="2.3" fill="#b0dcb8" stroke="#4a9658" stroke-width="0.8"/>
<circle cx="562.66" cy="190.37" r="2.3" fill="#b0dcb8" stroke="#4a9658" stroke-width="0.8"/>
<circle cx="575.82" cy="190.37" r="2.3" fill="#b0dcb8" stroke="#4a9658" stroke-width="0.8"/>
<circle cx="588.98" cy="190.37" r="2.3" fill="#b0dcb8" stroke="#4a9658" stroke-width="0.8"/>
<circle cx="470.55" cy="194.94" r="2.3" fill="#f6c0da" stroke="#de4c8c" stroke-width="0.8"/>
<circle cx="483.71" cy="194.48" r="2.3" fill="#f6c0da" stroke="#de4c8c" stroke-width="0.8"/>
<circle cx="496.87" cy="194.48" r="2.3" fill="#f6c0da" stroke="#de4c8c" stroke-width="0.8"/>
<circle cx="510.02" cy="194.48" r="2.3" fill="#f6c0da" stroke="#de4c8c" stroke-width="0.8"/>
<circle cx="523.18" cy="194.48" r="2.3" fill="#f6c0da" stroke="#de4c8c" stroke-width="0.8"/>
<circle cx="536.34" cy="193.57" r="2.3" fill="#f6c0da" stroke="#de4c8c" stroke-width="0.8"/>
<circle cx="549.5" cy="193.11" r="2.3" fill="#f6c0da" stroke="#de4c8c" stroke-width="0.8"/>
<circle cx="562.66" cy="192.65" r="2.3" fill="#f6c0da" stroke="#de4c8c" stroke-width="0.8"/>
<circle cx="575.82" cy="192.65" r="2.3" fill="#f6c0da" stroke="#de4c8c" stroke-width="0.8"/>
<circle cx="588.98" cy="192.65" r="2.3" fill="#f6c0da" stroke="#de4c8c" stroke-width="0.8"/>
<circle cx="470.55" cy="194.48" r="2.3" fill="#f6caca" stroke="#cf4b55" stroke-width="0.8"/>
<circle cx="483.71" cy="194.02" r="2.3" fill="#f6caca" stroke="#cf4b55" stroke-width="0.8"/>
<circle cx="496.87" cy="194.02" r="2.3" fill="#f6caca" stroke="#cf4b55" stroke-width="0.8"/>
<circle cx="510.02" cy="194.02" r="2.3" fill="#f6caca" stroke="#cf4b55" stroke-width="0.8"/>
<circle cx="523.18" cy="193.57" r="2.3" fill="#f6caca" stroke="#cf4b55" stroke-width="0.8"/>
<circle cx="536.34" cy="190.37" r="2.3" fill="#f6caca" stroke="#cf4b55" stroke-width="0.8"/>
<circle cx="549.5" cy="186.72" r="2.3" fill="#f6caca" stroke="#cf4b55" stroke-width="0.8"/>
<circle cx="562.66" cy="182.61" r="2.3" fill="#f6caca" stroke="#cf4b55" stroke-width="0.8"/>
<circle cx="575.82" cy="180.79" r="2.3" fill="#f6caca" stroke="#cf4b55" stroke-width="0.8"/>
<circle cx="588.98" cy="178.5" r="2.3" fill="#f6caca" stroke="#cf4b55" stroke-width="0.8"/>
<circle cx="470.55" cy="193.11" r="2.3" fill="#e2e29a" stroke="#aaaa44" stroke-width="0.8"/>
<circle cx="483.71" cy="192.65" r="2.3" fill="#e2e29a" stroke="#aaaa44" stroke-width="0.8"/>
<circle cx="496.87" cy="192.2" r="2.3" fill="#e2e29a" stroke="#aaaa44" stroke-width="0.8"/>
<circle cx="510.02" cy="192.2" r="2.3" fill="#e2e29a" stroke="#aaaa44" stroke-width="0.8"/>
<circle cx="523.18" cy="192.2" r="2.3" fill="#e2e29a" stroke="#aaaa44" stroke-width="0.8"/>
<circle cx="536.34" cy="195.85" r="2.3" fill="#e2e29a" stroke="#aaaa44" stroke-width="0.8"/>
<circle cx="549.5" cy="192.65" r="2.3" fill="#e2e29a" stroke="#aaaa44" stroke-width="0.8"/>
<circle cx="562.66" cy="193.11" r="2.3" fill="#e2e29a" stroke="#aaaa44" stroke-width="0.8"/>
<circle cx="575.82" cy="194.02" r="2.3" fill="#e2e29a" stroke="#aaaa44" stroke-width="0.8"/>
<circle cx="588.98" cy="196.76" r="2.3" fill="#e2e29a" stroke="#aaaa44" stroke-width="0.8"/>
<circle cx="470.55" cy="194.02" r="2.3" fill="#7381c8" stroke="#4352a8" stroke-width="0.8"/>
<circle cx="483.71" cy="196.31" r="2.3" fill="#7381c8" stroke="#4352a8" stroke-width="0.8"/>
<circle cx="496.87" cy="199.05" r="2.3" fill="#7381c8" stroke="#4352a8" stroke-width="0.8"/>
<circle cx="510.02" cy="204.98" r="2.3" fill="#7381c8" stroke="#4352a8" stroke-width="0.8"/>
<circle cx="523.18" cy="209.54" r="2.3" fill="#7381c8" stroke="#4352a8" stroke-width="0.8"/>
<circle cx="536.34" cy="213.65" r="2.3" fill="#7381c8" stroke="#4352a8" stroke-width="0.8"/>
<circle cx="549.5" cy="214.11" r="2.3" fill="#7381c8" stroke="#4352a8" stroke-width="0.8"/>
<circle cx="562.66" cy="214.11" r="2.3" fill="#7381c8" stroke="#4352a8" stroke-width="0.8"/>
<circle cx="575.82" cy="213.65" r="2.3" fill="#7381c8" stroke="#4352a8" stroke-width="0.8"/>
<circle cx="588.98" cy="213.65" r="2.3" fill="#7381c8" stroke="#4352a8" stroke-width="0.8"/>
<circle cx="470.55" cy="196.76" r="2.3" fill="#e2c8f2" stroke="#9452c2" stroke-width="0.8"/>
<circle cx="483.71" cy="197.68" r="2.3" fill="#e2c8f2" stroke="#9452c2" stroke-width="0.8"/>
<circle cx="496.87" cy="199.05" r="2.3" fill="#e2c8f2" stroke="#9452c2" stroke-width="0.8"/>
<circle cx="510.02" cy="207.72" r="2.3" fill="#e2c8f2" stroke="#9452c2" stroke-width="0.8"/>
<circle cx="523.18" cy="210.91" r="2.3" fill="#e2c8f2" stroke="#9452c2" stroke-width="0.8"/>
<circle cx="536.34" cy="216.39" r="2.3" fill="#e2c8f2" stroke="#9452c2" stroke-width="0.8"/>
<circle cx="549.5" cy="217.76" r="2.3" fill="#e2c8f2" stroke="#9452c2" stroke-width="0.8"/>
<circle cx="562.66" cy="215.48" r="2.3" fill="#e2c8f2" stroke="#9452c2" stroke-width="0.8"/>
<circle cx="575.82" cy="215.02" r="2.3" fill="#e2c8f2" stroke="#9452c2" stroke-width="0.8"/>
<circle cx="588.98" cy="215.02" r="2.3" fill="#e2c8f2" stroke="#9452c2" stroke-width="0.8"/>
<circle cx="470.55" cy="195.39" r="2.3" fill="#b4ead6" stroke="#22a47e" stroke-width="0.8"/>
<circle cx="483.71" cy="194.94" r="2.3" fill="#b4ead6" stroke="#22a47e" stroke-width="0.8"/>
<circle cx="496.87" cy="198.59" r="2.3" fill="#b4ead6" stroke="#22a47e" stroke-width="0.8"/>
<circle cx="510.02" cy="204.07" r="2.3" fill="#b4ead6" stroke="#22a47e" stroke-width="0.8"/>
<circle cx="523.18" cy="209.09" r="2.3" fill="#b4ead6" stroke="#22a47e" stroke-width="0.8"/>
<circle cx="536.34" cy="214.11" r="2.3" fill="#b4ead6" stroke="#22a47e" stroke-width="0.8"/>
<circle cx="549.5" cy="214.11" r="2.3" fill="#b4ead6" stroke="#22a47e" stroke-width="0.8"/>
<circle cx="562.66" cy="214.11" r="2.3" fill="#b4ead6" stroke="#22a47e" stroke-width="0.8"/>
<circle cx="575.82" cy="214.11" r="2.3" fill="#b4ead6" stroke="#22a47e" stroke-width="0.8"/>
<circle cx="588.98" cy="214.11" r="2.3" fill="#b4ead6" stroke="#22a47e" stroke-width="0.8"/>
<circle cx="470.55" cy="199.5" r="2.3" fill="#c9c9c9" stroke="#222222" stroke-width="0.8"/>
<circle cx="483.71" cy="203.15" r="2.3" fill="#c9c9c9" stroke="#222222" stroke-width="0.8"/>
<circle cx="496.87" cy="213.2" r="2.3" fill="#c9c9c9" stroke="#222222" stroke-width="0.8"/>
<circle cx="510.02" cy="222.78" r="2.3" fill="#c9c9c9" stroke="#222222" stroke-width="0.8"/>
<circle cx="523.18" cy="228.72" r="2.3" fill="#c9c9c9" stroke="#222222" stroke-width="0.8"/>
<circle cx="536.34" cy="231" r="2.3" fill="#c9c9c9" stroke="#222222" stroke-width="0.8"/>
<circle cx="549.5" cy="231.46" r="2.3" fill="#c9c9c9" stroke="#222222" stroke-width="0.8"/>
<circle cx="562.66" cy="231" r="2.3" fill="#c9c9c9" stroke="#222222" stroke-width="0.8"/>
<circle cx="575.82" cy="231" r="2.3" fill="#c9c9c9" stroke="#222222" stroke-width="0.8"/>
<circle cx="588.98" cy="231" r="2.3" fill="#c9c9c9" stroke="#222222" stroke-width="0.8"/>
<line x1="465.5" y1="149.7" x2="465.5" y2="245.1" stroke="#2b2b2b" stroke-width="1.2" stroke-linecap="butt"/>
<line x1="461.9" y1="241.5" x2="603.9" y2="241.5" stroke="#2b2b2b" stroke-width="1.2" stroke-linecap="butt"/>
<line x1="462.1" y1="241.5" x2="465.5" y2="241.5" stroke="#2b2b2b" stroke-width="1.1" stroke-linecap="butt"/>
<text x="460.9" y="243.95" font-size="6.8" text-anchor="end" fill="#222" stroke="#222" stroke-width="0.1">0</text>
<line x1="462.1" y1="218.68" x2="465.5" y2="218.68" stroke="#2b2b2b" stroke-width="1.1" stroke-linecap="butt"/>
<text x="460.9" y="221.12" font-size="6.8" text-anchor="end" fill="#222" stroke="#222" stroke-width="0.1">50</text>
<line x1="462.1" y1="195.85" x2="465.5" y2="195.85" stroke="#2b2b2b" stroke-width="1.1" stroke-linecap="butt"/>
<text x="460.9" y="198.3" font-size="6.8" text-anchor="end" fill="#222" stroke="#222" stroke-width="0.1">100</text>
<line x1="462.1" y1="173.02" x2="465.5" y2="173.02" stroke="#2b2b2b" stroke-width="1.1" stroke-linecap="butt"/>
<text x="460.9" y="175.47" font-size="6.8" text-anchor="end" fill="#222" stroke="#222" stroke-width="0.1">150</text>
<line x1="462.1" y1="150.2" x2="465.5" y2="150.2" stroke="#2b2b2b" stroke-width="1.1" stroke-linecap="butt"/>
<text x="460.9" y="152.65" font-size="6.8" text-anchor="end" fill="#222" stroke="#222" stroke-width="0.1">200</text>
<line x1="465.5" y1="241.5" x2="465.5" y2="245.1" stroke="#2b2b2b" stroke-width="1.1" stroke-linecap="butt"/>
<text x="465.5" y="253.7" font-size="6.8" text-anchor="middle" fill="#222" stroke="#222" stroke-width="0.1">0.001</text>
<line x1="493.08" y1="241.5" x2="493.08" y2="245.1" stroke="#2b2b2b" stroke-width="1.1" stroke-linecap="butt"/>
<text x="493.08" y="253.7" font-size="6.8" text-anchor="middle" fill="#222" stroke="#222" stroke-width="0.1">0.01</text>
<line x1="520.66" y1="241.5" x2="520.66" y2="245.1" stroke="#2b2b2b" stroke-width="1.1" stroke-linecap="butt"/>
<text x="520.66" y="253.7" font-size="6.8" text-anchor="middle" fill="#222" stroke="#222" stroke-width="0.1">0.1</text>
<line x1="548.24" y1="241.5" x2="548.24" y2="245.1" stroke="#2b2b2b" stroke-width="1.1" stroke-linecap="butt"/>
<text x="548.24" y="253.7" font-size="6.8" text-anchor="middle" fill="#222" stroke="#222" stroke-width="0.1">1</text>
<line x1="575.82" y1="241.5" x2="575.82" y2="245.1" stroke="#2b2b2b" stroke-width="1.1" stroke-linecap="butt"/>
<text x="575.82" y="253.7" font-size="6.8" text-anchor="middle" fill="#222" stroke="#222" stroke-width="0.1">10</text>
<line x1="603.4" y1="241.5" x2="603.4" y2="245.1" stroke="#2b2b2b" stroke-width="1.1" stroke-linecap="butt"/>
<text x="603.4" y="253.7" font-size="6.8" text-anchor="middle" fill="#222" stroke="#222" stroke-width="0.1">100</text>
<text x="534.6" y="264.3" font-size="7.7" text-anchor="middle" fill="#222" stroke="#222" stroke-width="0.1">[MD-224] (μM)</text>
<text x="445.3" y="196.4" font-size="7.6" text-anchor="middle" fill="#222" stroke="#222" stroke-width="0.1" transform="rotate(-90 445.3 196.4)">HiBiT Signal (%)</text>
<path d="M597 174.1H602.4V199.6H597" stroke="#222" stroke-width="1.1" fill="none"/>
<path d="M597 209.6H602.4V234.6H597" stroke="#222" stroke-width="1.1" fill="none"/>
<line x1="607.3" y1="174.4" x2="617.3" y2="174.4" stroke="#aaaa44" stroke-width="1.1" stroke-linecap="butt"/>
<circle cx="612.3" cy="174.4" r="2.2" fill="#e2e29a" stroke="#aaaa44" stroke-width="0.8"/>
<text x="622.8" y="177.1" font-size="7.6" text-anchor="start" fill="#222" stroke="#222" stroke-width="0.1">VDR</text>
<line x1="607.3" y1="182.8" x2="617.3" y2="182.8" stroke="#c4c4c4" stroke-width="1.1" stroke-linecap="butt"/>
<circle cx="612.3" cy="182.8" r="2.2" fill="#fafafa" stroke="#c4c4c4" stroke-width="0.8"/>
<text x="622.8" y="185.5" font-size="7.6" text-anchor="start" fill="#222" stroke="#222" stroke-width="0.1">FXR</text>
<line x1="607.3" y1="191" x2="617.3" y2="191" stroke="#cf4b55" stroke-width="1.1" stroke-linecap="butt"/>
<circle cx="612.3" cy="191" r="2.2" fill="#f6caca" stroke="#cf4b55" stroke-width="0.8"/>
<text x="622.8" y="193.7" font-size="7.6" text-anchor="start" fill="#222" stroke="#222" stroke-width="0.1">AR</text>
<line x1="607.3" y1="199.2" x2="617.3" y2="199.2" stroke="#9a9a9a" stroke-width="1.1" stroke-linecap="butt"/>
<circle cx="612.3" cy="199.2" r="2.2" fill="#cacaca" stroke="#9a9a9a" stroke-width="0.8"/>
<text x="622.8" y="201.9" font-size="7.6" text-anchor="start" fill="#222" stroke="#222" stroke-width="0.1">ERα</text>
<line x1="607.3" y1="209.6" x2="617.3" y2="209.6" stroke="#222222" stroke-width="1.1" stroke-linecap="butt"/>
<circle cx="612.3" cy="209.6" r="2.2" fill="#c9c9c9" stroke="#222222" stroke-width="0.8"/>
<text x="622.8" y="212.3" font-size="7.6" text-anchor="start" fill="#222" stroke="#222" stroke-width="0.1">PXR</text>
<line x1="607.3" y1="218" x2="617.3" y2="218" stroke="#22a47e" stroke-width="1.1" stroke-linecap="butt"/>
<circle cx="612.3" cy="218" r="2.2" fill="#b4ead6" stroke="#22a47e" stroke-width="0.8"/>
<text x="622.8" y="220.7" font-size="7.6" text-anchor="start" fill="#222" stroke="#222" stroke-width="0.1">LXRα</text>
<line x1="607.3" y1="226.4" x2="617.3" y2="226.4" stroke="#9452c2" stroke-width="1.1" stroke-linecap="butt"/>
<circle cx="612.3" cy="226.4" r="2.2" fill="#e2c8f2" stroke="#9452c2" stroke-width="0.8"/>
<text x="622.8" y="229.1" font-size="7.6" text-anchor="start" fill="#222" stroke="#222" stroke-width="0.1">LXRβ</text>
<line x1="607.3" y1="234.7" x2="617.3" y2="234.7" stroke="#4352a8" stroke-width="1.1" stroke-linecap="butt"/>
<circle cx="612.3" cy="234.7" r="2.2" fill="#7381c8" stroke="#4352a8" stroke-width="0.8"/>
<text x="622.8" y="237.4" font-size="7.6" text-anchor="start" fill="#222" stroke="#222" stroke-width="0.1">CAR</text>
<line x1="645.1" y1="174.4" x2="655.1" y2="174.4" stroke="#de4c8c" stroke-width="1.1" stroke-linecap="butt"/>
<circle cx="650.1" cy="174.4" r="2.2" fill="#f6c0da" stroke="#de4c8c" stroke-width="0.8"/>
<text x="660.5" y="177.1" font-size="7.6" text-anchor="start" fill="#222" stroke="#222" stroke-width="0.1">PPARα</text>
<line x1="645.1" y1="182.8" x2="655.1" y2="182.8" stroke="#4a9658" stroke-width="1.1" stroke-linecap="butt"/>
<circle cx="650.1" cy="182.8" r="2.2" fill="#b0dcb8" stroke="#4a9658" stroke-width="0.8"/>
<text x="660.5" y="185.5" font-size="7.6" text-anchor="start" fill="#222" stroke="#222" stroke-width="0.1">PPARδ</text>
<line x1="645.1" y1="191" x2="655.1" y2="191" stroke="#3fa6cf" stroke-width="1.1" stroke-linecap="butt"/>
<circle cx="650.1" cy="191" r="2.2" fill="#bde2f2" stroke="#3fa6cf" stroke-width="0.8"/>
<text x="660.5" y="193.7" font-size="7.6" text-anchor="start" fill="#222" stroke="#222" stroke-width="0.1">PPARγ</text>
<line x1="645.1" y1="199.2" x2="655.1" y2="199.2" stroke="#e48c4c" stroke-width="1.1" stroke-linecap="butt"/>
<circle cx="650.1" cy="199.2" r="2.2" fill="#f8d2b2" stroke="#e48c4c" stroke-width="0.8"/>
<text x="660.5" y="201.9" font-size="7.6" text-anchor="start" fill="#222" stroke="#222" stroke-width="0.1">mPXR</text>
<text x="435.4" y="150.3" font-size="9.8" text-anchor="start" fill="#111" font-weight="bold">G</text>
<path d="M46.4 334.9V332.4M44.2 332.4h4.4M46.4 334.9V337.4M44.2 337.4h4.4M57.7 326.1V323.5M55.5 323.5h4.4M57.7 326.1V328.6M55.5 328.6h4.4M68.9 337.4V328.6M66.7 328.6h4.4M68.9 337.4V346.3M66.7 346.3h4.4M80.1 326.7V322.9M77.9 322.9h4.4M80.1 326.7V330.5M77.9 330.5h4.4M91.4 329.9V323.5M89.2 323.5h4.4M91.4 329.9V336.2M89.2 336.2h4.4M102.6 330.5V326.7M100.4 326.7h4.4M102.6 330.5V334.3M100.4 334.3h4.4M113.8 340.0V332.4M111.6 332.4h4.4M113.8 340.0V347.6M111.6 347.6h4.4M125.1 330.5V325.4M122.9 325.4h4.4M125.1 330.5V335.5M122.9 335.5h4.4M136.3 337.4V328.6M134.1 328.6h4.4M136.3 337.4V346.3M134.1 346.3h4.4M147.6 324.8V318.5M145.4 318.5h4.4M147.6 324.8V331.1M145.4 331.1h4.4" stroke="#a65cc8" stroke-width="0.8" fill="none"/>
<path d="M46.4 324.2V321.6M44.2 321.6h4.4M46.4 324.2V326.7M44.2 326.7h4.4M57.7 316.0V313.4M55.5 313.4h4.4M57.7 316.0V318.5M55.5 318.5h4.4M68.9 322.3V319.7M66.7 319.7h4.4M68.9 322.3V324.8M66.7 324.8h4.4M80.1 329.2V326.7M77.9 326.7h4.4M80.1 329.2V331.8M77.9 331.8h4.4M91.4 324.8V322.3M89.2 322.3h4.4M91.4 324.8V327.3M89.2 327.3h4.4M102.6 317.2V314.7M100.4 314.7h4.4M102.6 317.2V319.7M100.4 319.7h4.4M113.8 319.7V317.2M111.6 317.2h4.4M113.8 319.7V322.3M111.6 322.3h4.4M125.1 317.2V314.7M122.9 314.7h4.4M125.1 317.2V319.7M122.9 319.7h4.4M136.3 326.1V323.5M134.1 323.5h4.4M136.3 326.1V328.6M134.1 328.6h4.4M147.6 313.4V310.9M145.4 310.9h4.4M147.6 313.4V316.0M145.4 316.0h4.4" stroke="#4352a8" stroke-width="0.8" fill="none"/>
<path d="M46.4 328.6V324.8M44.2 324.8h4.4M46.4 328.6V332.4M44.2 332.4h4.4M57.7 318.5V314.7M55.5 314.7h4.4M57.7 318.5V322.3M55.5 322.3h4.4M68.9 325.4V322.9M66.7 322.9h4.4M68.9 325.4V328.0M66.7 328.0h4.4M80.1 329.9V327.3M77.9 327.3h4.4M80.1 329.9V332.4M77.9 332.4h4.4M91.4 324.8V322.3M89.2 322.3h4.4M91.4 324.8V327.3M89.2 327.3h4.4M102.6 322.3V319.7M100.4 319.7h4.4M102.6 322.3V324.8M100.4 324.8h4.4M113.8 324.8V322.3M111.6 322.3h4.4M113.8 324.8V327.3M111.6 327.3h4.4M125.1 319.7V316.0M122.9 316.0h4.4M125.1 319.7V323.5M122.9 323.5h4.4M136.3 318.5V309.6M134.1 309.6h4.4M136.3 318.5V327.3M134.1 327.3h4.4M147.6 311.5V303.9M145.4 303.9h4.4M147.6 311.5V319.1M145.4 319.1h4.4" stroke="#22a47e" stroke-width="0.8" fill="none"/>
<path d="M46.4 325.4V316.6M44.2 316.6h4.4M46.4 325.4V334.3M44.2 334.3h4.4M57.7 326.4V322.6M55.5 322.6h4.4M57.7 326.4V330.2M55.5 330.2h4.4M68.9 328.3V325.7M66.7 325.7h4.4M68.9 328.3V330.8M66.7 330.8h4.4M80.1 336.8V334.3M77.9 334.3h4.4M80.1 336.8V339.3M77.9 339.3h4.4M91.4 337.8V334.6M89.2 334.6h4.4M91.4 337.8V340.9M89.2 340.9h4.4M102.6 352.0V350.1M100.4 350.1h4.4M102.6 352.0V353.9M100.4 353.9h4.4M113.8 357.3V352.3M111.6 352.3h4.4M113.8 357.3V362.4M111.6 362.4h4.4M125.1 356.7V350.4M122.9 350.4h4.4M125.1 356.7V363.0M122.9 363.0h4.4M136.3 362.7V359.6M134.1 359.6h4.4M136.3 362.7V365.9M134.1 365.9h4.4M147.6 353.6V352.3M145.4 352.3h4.4M147.6 353.6V354.8M145.4 354.8h4.4" stroke="#222222" stroke-width="0.8" fill="none"/>
<polyline points="46.4,330.8 147.6,330.8" fill="none" stroke="#a65cc8" stroke-width="1.2" stroke-linejoin="round"/>
<polyline points="46.4,321.6 147.6,321.6" fill="none" stroke="#4352a8" stroke-width="1.2" stroke-linejoin="round"/>
<polyline points="46.4,326.4 48.1,326.4 49.9,326.4 51.6,326.4 53.3,326.4 55.0,326.4 56.7,326.4 58.4,326.4 60.1,326.4 61.9,326.4 63.6,326.3 65.3,326.3 67.0,326.3 68.7,326.3 70.4,326.3 72.1,326.3 73.8,326.3 75.6,326.3 77.3,326.3 79.0,326.3 80.7,326.2 82.4,326.2 84.1,326.2 85.8,326.2 87.6,326.1 89.3,326.1 91.0,326.0 92.7,326.0 94.4,325.9 96.1,325.8 97.8,325.8 99.6,325.7 101.3,325.6 103.0,325.4 104.7,325.3 106.4,325.1 108.1,324.9 109.8,324.7 111.6,324.4 113.3,324.1 115.0,323.8 116.7,323.4 118.4,323.0 120.1,322.5 121.8,322.0 123.6,321.4 125.3,320.8 127.0,320.1 128.7,319.3 130.4,318.5 132.1,317.7 133.8,316.8 135.6,315.8 137.3,314.8 139.0,313.8 140.7,312.8 142.4,311.8 144.1,310.8 145.8,309.8 147.6,308.9" fill="none" stroke="#22a47e" stroke-width="1.2" stroke-linejoin="round"/>
<polyline points="46.4,325.5 48.1,325.5 49.9,325.5 51.6,325.5 53.3,325.5 55.0,325.5 56.7,325.6 58.4,325.6 60.1,325.6 61.9,325.7 63.6,325.8 65.3,325.9 67.0,326.1 68.7,326.2 70.4,326.5 72.1,326.8 73.8,327.2 75.6,327.7 77.3,328.4 79.0,329.2 80.7,330.1 82.4,331.3 84.1,332.7 85.8,334.4 87.6,336.3 89.3,338.3 91.0,340.5 92.7,342.7 94.4,344.9 96.1,347.1 97.8,349.0 99.6,350.8 101.3,352.3 103.0,353.6 104.7,354.7 106.4,355.6 108.1,356.3 109.8,356.9 111.6,357.4 113.3,357.7 115.0,358.0 116.7,358.2 118.4,358.4 120.1,358.5 121.8,358.6 123.6,358.7 125.3,358.7 127.0,358.8 128.7,358.8 130.4,358.8 132.1,358.9 133.8,358.9 135.6,358.9 137.3,358.9 139.0,358.9 140.7,358.9 142.4,358.9 144.1,358.9 145.8,358.9 147.6,358.9" fill="none" stroke="#222222" stroke-width="1.2" stroke-linejoin="round"/>
<circle cx="46.42" cy="334.91" r="2.45" fill="#e6cbf2" stroke="#a65cc8" stroke-width="0.85"/>
<circle cx="57.66" cy="326.06" r="2.45" fill="#e6cbf2" stroke="#a65cc8" stroke-width="0.85"/>
<circle cx="68.9" cy="337.44" r="2.45" fill="#e6cbf2" stroke="#a65cc8" stroke-width="0.85"/>
<circle cx="80.13" cy="326.7" r="2.45" fill="#e6cbf2" stroke="#a65cc8" stroke-width="0.85"/>
<circle cx="91.37" cy="329.86" r="2.45" fill="#e6cbf2" stroke="#a65cc8" stroke-width="0.85"/>
<circle cx="102.61" cy="330.49" r="2.45" fill="#e6cbf2" stroke="#a65cc8" stroke-width="0.85"/>
<circle cx="113.84" cy="339.97" r="2.45" fill="#e6cbf2" stroke="#a65cc8" stroke-width="0.85"/>
<circle cx="125.08" cy="330.49" r="2.45" fill="#e6cbf2" stroke="#a65cc8" stroke-width="0.85"/>
<circle cx="136.31" cy="337.44" r="2.45" fill="#e6cbf2" stroke="#a65cc8" stroke-width="0.85"/>
<circle cx="147.55" cy="324.8" r="2.45" fill="#e6cbf2" stroke="#a65cc8" stroke-width="0.85"/>
<circle cx="46.42" cy="324.17" r="2.45" fill="#7381c8" stroke="#4352a8" stroke-width="0.85"/>
<circle cx="57.66" cy="315.95" r="2.45" fill="#7381c8" stroke="#4352a8" stroke-width="0.85"/>
<circle cx="68.9" cy="322.27" r="2.45" fill="#7381c8" stroke="#4352a8" stroke-width="0.85"/>
<circle cx="80.13" cy="329.22" r="2.45" fill="#7381c8" stroke="#4352a8" stroke-width="0.85"/>
<circle cx="91.37" cy="324.8" r="2.45" fill="#7381c8" stroke="#4352a8" stroke-width="0.85"/>
<circle cx="102.61" cy="317.22" r="2.45" fill="#7381c8" stroke="#4352a8" stroke-width="0.85"/>
<circle cx="113.84" cy="319.74" r="2.45" fill="#7381c8" stroke="#4352a8" stroke-width="0.85"/>
<circle cx="125.08" cy="317.22" r="2.45" fill="#7381c8" stroke="#4352a8" stroke-width="0.85"/>
<circle cx="136.31" cy="326.06" r="2.45" fill="#7381c8" stroke="#4352a8" stroke-width="0.85"/>
<circle cx="147.55" cy="313.42" r="2.45" fill="#7381c8" stroke="#4352a8" stroke-width="0.85"/>
<circle cx="46.42" cy="328.59" r="2.45" fill="#b4ead6" stroke="#22a47e" stroke-width="0.85"/>
<circle cx="57.66" cy="318.48" r="2.45" fill="#b4ead6" stroke="#22a47e" stroke-width="0.85"/>
<circle cx="68.9" cy="325.43" r="2.45" fill="#b4ead6" stroke="#22a47e" stroke-width="0.85"/>
<circle cx="80.13" cy="329.86" r="2.45" fill="#b4ead6" stroke="#22a47e" stroke-width="0.85"/>
<circle cx="91.37" cy="324.8" r="2.45" fill="#b4ead6" stroke="#22a47e" stroke-width="0.85"/>
<circle cx="102.61" cy="322.27" r="2.45" fill="#b4ead6" stroke="#22a47e" stroke-width="0.85"/>
<circle cx="113.84" cy="324.8" r="2.45" fill="#b4ead6" stroke="#22a47e" stroke-width="0.85"/>
<circle cx="125.08" cy="319.74" r="2.45" fill="#b4ead6" stroke="#22a47e" stroke-width="0.85"/>
<circle cx="136.31" cy="318.48" r="2.45" fill="#b4ead6" stroke="#22a47e" stroke-width="0.85"/>
<circle cx="147.55" cy="311.53" r="2.45" fill="#b4ead6" stroke="#22a47e" stroke-width="0.85"/>
<circle cx="46.42" cy="325.43" r="2.45" fill="#c9c9c9" stroke="#222222" stroke-width="0.85"/>
<circle cx="57.66" cy="326.38" r="2.45" fill="#c9c9c9" stroke="#222222" stroke-width="0.85"/>
<circle cx="68.9" cy="328.28" r="2.45" fill="#c9c9c9" stroke="#222222" stroke-width="0.85"/>
<circle cx="80.13" cy="336.81" r="2.45" fill="#c9c9c9" stroke="#222222" stroke-width="0.85"/>
<circle cx="91.37" cy="337.76" r="2.45" fill="#c9c9c9" stroke="#222222" stroke-width="0.85"/>
<circle cx="102.61" cy="351.98" r="2.45" fill="#c9c9c9" stroke="#222222" stroke-width="0.85"/>
<circle cx="113.84" cy="357.35" r="2.45" fill="#c9c9c9" stroke="#222222" stroke-width="0.85"/>
<circle cx="125.08" cy="356.72" r="2.45" fill="#c9c9c9" stroke="#222222" stroke-width="0.85"/>
<circle cx="136.31" cy="362.72" r="2.45" fill="#c9c9c9" stroke="#222222" stroke-width="0.85"/>
<circle cx="147.55" cy="353.56" r="2.45" fill="#c9c9c9" stroke="#222222" stroke-width="0.85"/>
<line x1="29.8" y1="292.7" x2="29.8" y2="391.6" stroke="#2b2b2b" stroke-width="1.2" stroke-linecap="butt"/>
<line x1="26.2" y1="388" x2="171.6" y2="388" stroke="#2b2b2b" stroke-width="1.2" stroke-linecap="butt"/>
<line x1="26.4" y1="388" x2="29.8" y2="388" stroke="#2b2b2b" stroke-width="1.1" stroke-linecap="butt"/>
<text x="25.2" y="390.45" font-size="6.8" text-anchor="end" fill="#222" stroke="#222" stroke-width="0.1">0</text>
<line x1="26.4" y1="356.4" x2="29.8" y2="356.4" stroke="#2b2b2b" stroke-width="1.1" stroke-linecap="butt"/>
<text x="25.2" y="358.85" font-size="6.8" text-anchor="end" fill="#222" stroke="#222" stroke-width="0.1">50</text>
<line x1="26.4" y1="324.8" x2="29.8" y2="324.8" stroke="#2b2b2b" stroke-width="1.1" stroke-linecap="butt"/>
<text x="25.2" y="327.25" font-size="6.8" text-anchor="end" fill="#222" stroke="#222" stroke-width="0.1">100</text>
<line x1="26.4" y1="293.2" x2="29.8" y2="293.2" stroke="#2b2b2b" stroke-width="1.1" stroke-linecap="butt"/>
<text x="25.2" y="295.65" font-size="6.8" text-anchor="end" fill="#222" stroke="#222" stroke-width="0.1">150</text>
<line x1="29.8" y1="388" x2="29.8" y2="391.6" stroke="#2b2b2b" stroke-width="1.1" stroke-linecap="butt"/>
<text x="29.8" y="398.2" font-size="6.8" text-anchor="middle" fill="#222" stroke="#222" stroke-width="0.1">0.0001</text>
<line x1="53.35" y1="388" x2="53.35" y2="391.6" stroke="#2b2b2b" stroke-width="1.1" stroke-linecap="butt"/>
<text x="53.35" y="398.2" font-size="6.8" text-anchor="middle" fill="#222" stroke="#222" stroke-width="0.1">0.001</text>
<line x1="76.9" y1="388" x2="76.9" y2="391.6" stroke="#2b2b2b" stroke-width="1.1" stroke-linecap="butt"/>
<text x="76.9" y="398.2" font-size="6.8" text-anchor="middle" fill="#222" stroke="#222" stroke-width="0.1">0.01</text>
<line x1="100.45" y1="388" x2="100.45" y2="391.6" stroke="#2b2b2b" stroke-width="1.1" stroke-linecap="butt"/>
<text x="100.45" y="398.2" font-size="6.8" text-anchor="middle" fill="#222" stroke="#222" stroke-width="0.1">0.1</text>
<line x1="124" y1="388" x2="124" y2="391.6" stroke="#2b2b2b" stroke-width="1.1" stroke-linecap="butt"/>
<text x="124" y="398.2" font-size="6.8" text-anchor="middle" fill="#222" stroke="#222" stroke-width="0.1">1</text>
<line x1="147.55" y1="388" x2="147.55" y2="391.6" stroke="#2b2b2b" stroke-width="1.1" stroke-linecap="butt"/>
<text x="147.55" y="398.2" font-size="6.8" text-anchor="middle" fill="#222" stroke="#222" stroke-width="0.1">10</text>
<line x1="171.1" y1="388" x2="171.1" y2="391.6" stroke="#2b2b2b" stroke-width="1.1" stroke-linecap="butt"/>
<text x="171.1" y="398.2" font-size="6.8" text-anchor="middle" fill="#222" stroke="#222" stroke-width="0.1">100</text>
<text x="100.2" y="409.8" font-size="7.75" text-anchor="middle" fill="#222" stroke="#222" stroke-width="0.1">[MD-224] (μM)</text>
<text x="9.4" y="341" font-size="7.7" text-anchor="middle" fill="#222" stroke="#222" stroke-width="0.1" transform="rotate(-90 9.4 341)">HiBiT-LXRα Signal (%)</text>
<text x="99.9" y="287.3" font-size="8.9" text-anchor="middle" fill="#222" stroke="#222" stroke-width="0.1">LXRα, t = 2 h</text>
<line x1="34.8" y1="351.6" x2="45.2" y2="351.6" stroke="#222222" stroke-width="1.2" stroke-linecap="butt"/>
<circle cx="40" cy="351.6" r="2.4" fill="#c9c9c9" stroke="#222222" stroke-width="0.85"/>
<text x="50.9" y="354.4" font-size="7.75" text-anchor="start" fill="#222" stroke="#222" stroke-width="0.1">DMSO</text>
<line x1="34.8" y1="360.6" x2="45.2" y2="360.6" stroke="#22a47e" stroke-width="1.2" stroke-linecap="butt"/>
<circle cx="40" cy="360.6" r="2.4" fill="#b4ead6" stroke="#22a47e" stroke-width="0.85"/>
<text x="50.9" y="363.4" font-size="7.75" text-anchor="start" fill="#222" stroke="#222" stroke-width="0.1">T0901317</text>
<line x1="34.8" y1="369.6" x2="45.2" y2="369.6" stroke="#a65cc8" stroke-width="1.2" stroke-linecap="butt"/>
<circle cx="40" cy="369.6" r="2.4" fill="#e6cbf2" stroke="#a65cc8" stroke-width="0.85"/>
<text x="50.9" y="372.4" font-size="7.75" text-anchor="start" fill="#222" stroke="#222" stroke-width="0.1">GW3965</text>
<line x1="34.8" y1="378.5" x2="45.2" y2="378.5" stroke="#4352a8" stroke-width="1.2" stroke-linecap="butt"/>
<circle cx="40" cy="378.5" r="2.4" fill="#7381c8" stroke="#4352a8" stroke-width="0.85"/>
<text x="50.9" y="381.3" font-size="7.75" text-anchor="start" fill="#222" stroke="#222" stroke-width="0.1">SR9238</text>
<text x="0.3" y="286.7" font-size="9.8" text-anchor="start" fill="#111" font-weight="bold">H</text>
<path d="M236.9 333.6V328.6M234.7 328.6h4.4M236.9 333.6V338.7M234.7 338.7h4.4M248.2 333.6V327.3M246.0 327.3h4.4M248.2 333.6V340.0M246.0 340.0h4.4M259.4 329.2V325.4M257.2 325.4h4.4M259.4 329.2V333.0M257.2 333.0h4.4M270.6 329.2V325.4M268.4 325.4h4.4M270.6 329.2V333.0M268.4 333.0h4.4M281.9 332.4V327.3M279.7 327.3h4.4M281.9 332.4V337.4M279.7 337.4h4.4M293.1 333.6V328.6M290.9 328.6h4.4M293.1 333.6V338.7M290.9 338.7h4.4M304.3 334.3V325.4M302.1 325.4h4.4M304.3 334.3V343.1M302.1 343.1h4.4M315.6 332.4V326.1M313.4 326.1h4.4M315.6 332.4V338.7M313.4 338.7h4.4M326.8 333.0V326.7M324.6 326.7h4.4M326.8 333.0V339.3M324.6 339.3h4.4M338.1 334.9V328.6M335.9 328.6h4.4M338.1 334.9V341.2M335.9 341.2h4.4" stroke="#a65cc8" stroke-width="0.8" fill="none"/>
<path d="M236.9 327.3V318.5M234.7 318.5h4.4M236.9 327.3V336.2M234.7 336.2h4.4M248.2 327.3V324.8M246.0 324.8h4.4M248.2 327.3V329.9M246.0 329.9h4.4M259.4 325.4V322.9M257.2 322.9h4.4M259.4 325.4V328.0M257.2 328.0h4.4M270.6 326.7V324.2M268.4 324.2h4.4M270.6 326.7V329.2M268.4 329.2h4.4M281.9 331.1V328.6M279.7 328.6h4.4M281.9 331.1V333.6M279.7 333.6h4.4M293.1 322.9V320.4M290.9 320.4h4.4M293.1 322.9V325.4M290.9 325.4h4.4M304.3 320.4V306.5M302.1 306.5h4.4M304.3 320.4V334.3M302.1 334.3h4.4M315.6 323.5V318.5M313.4 318.5h4.4M315.6 323.5V328.6M313.4 328.6h4.4M326.8 323.5V316.0M324.6 316.0h4.4M326.8 323.5V331.1M324.6 331.1h4.4M338.1 321.6V315.3M335.9 315.3h4.4M338.1 321.6V328.0M335.9 328.0h4.4" stroke="#4352a8" stroke-width="0.8" fill="none"/>
<path d="M236.9 319.1V315.3M234.7 315.3h4.4M236.9 319.1V322.9M234.7 322.9h4.4M248.2 320.4V312.8M246.0 312.8h4.4M248.2 320.4V328.0M246.0 328.0h4.4M259.4 317.2V313.4M257.2 313.4h4.4M259.4 317.2V321.0M257.2 321.0h4.4M270.6 321.0V318.5M268.4 318.5h4.4M270.6 321.0V323.5M268.4 323.5h4.4M281.9 322.9V317.8M279.7 317.8h4.4M281.9 322.9V328.0M279.7 328.0h4.4M293.1 321.6V317.8M290.9 317.8h4.4M293.1 321.6V325.4M290.9 325.4h4.4M304.3 322.9V319.1M302.1 319.1h4.4M304.3 322.9V326.7M302.1 326.7h4.4M315.6 326.7V319.1M313.4 319.1h4.4M315.6 326.7V334.3M313.4 334.3h4.4M326.8 327.0V320.7M324.6 320.7h4.4M326.8 327.0V333.3M324.6 333.3h4.4M338.1 326.1V323.5M335.9 323.5h4.4M338.1 326.1V328.6M335.9 328.6h4.4" stroke="#22a47e" stroke-width="0.8" fill="none"/>
<path d="M236.9 328.9V321.3M234.7 321.3h4.4M236.9 328.9V336.5M234.7 336.5h4.4M248.2 324.2V321.6M246.0 321.6h4.4M248.2 324.2V326.7M246.0 326.7h4.4M259.4 323.5V321.0M257.2 321.0h4.4M259.4 323.5V326.1M257.2 326.1h4.4M270.6 326.1V323.5M268.4 323.5h4.4M270.6 326.1V328.6M268.4 328.6h4.4M281.9 343.1V338.1M279.7 338.1h4.4M281.9 343.1V348.2M279.7 348.2h4.4M293.1 353.2V351.3M290.9 351.3h4.4M293.1 353.2V355.1M290.9 355.1h4.4M304.3 349.4V343.1M302.1 343.1h4.4M304.3 349.4V355.8M302.1 355.8h4.4M315.6 357.2V355.3M313.4 355.3h4.4M315.6 357.2V359.1M313.4 359.1h4.4M326.8 354.5V350.7M324.6 350.7h4.4M326.8 354.5V358.3M324.6 358.3h4.4M338.1 356.8V354.9M335.9 354.9h4.4M338.1 356.8V358.7M335.9 358.7h4.4" stroke="#222222" stroke-width="0.8" fill="none"/>
<polyline points="236.9,332.5 338.1,332.5" fill="none" stroke="#a65cc8" stroke-width="1.2" stroke-linejoin="round"/>
<polyline points="236.9,323.9 338.1,323.9" fill="none" stroke="#4352a8" stroke-width="1.2" stroke-linejoin="round"/>
<polyline points="236.9,319.4 238.6,319.4 240.4,319.4 242.1,319.4 243.8,319.5 245.5,319.5 247.2,319.5 248.9,319.5 250.6,319.5 252.4,319.5 254.1,319.5 255.8,319.5 257.5,319.5 259.2,319.5 260.9,319.6 262.6,319.6 264.3,319.6 266.1,319.6 267.8,319.7 269.5,319.7 271.2,319.8 272.9,319.8 274.6,319.9 276.3,320.0 278.1,320.1 279.8,320.2 281.5,320.3 283.2,320.5 284.9,320.6 286.6,320.8 288.3,321.0 290.1,321.2 291.8,321.4 293.5,321.7 295.2,322.0 296.9,322.3 298.6,322.6 300.3,322.9 302.1,323.2 303.8,323.5 305.5,323.8 307.2,324.1 308.9,324.4 310.6,324.7 312.3,325.0 314.1,325.2 315.8,325.4 317.5,325.6 319.2,325.8 320.9,326.0 322.6,326.1 324.3,326.2 326.1,326.3 327.8,326.4 329.5,326.5 331.2,326.6 332.9,326.7 334.6,326.7 336.3,326.8 338.1,326.8" fill="none" stroke="#22a47e" stroke-width="1.2" stroke-linejoin="round"/>
<polyline points="236.9,324.8 238.6,324.8 240.4,324.8 242.1,324.8 243.8,324.8 245.5,324.8 247.2,324.8 248.9,324.8 250.6,324.8 252.4,324.8 254.1,324.9 255.8,324.9 257.5,324.9 259.2,325.0 260.9,325.1 262.6,325.3 264.3,325.5 266.1,325.9 267.8,326.4 269.5,327.1 271.2,328.1 272.9,329.4 274.6,331.2 276.3,333.5 278.1,336.2 279.8,339.2 281.5,342.2 283.2,345.1 284.9,347.6 286.6,349.6 288.3,351.2 290.1,352.4 291.8,353.2 293.5,353.8 295.2,354.3 296.9,354.5 298.6,354.7 300.3,354.9 302.1,355.0 303.8,355.0 305.5,355.1 307.2,355.1 308.9,355.1 310.6,355.1 312.3,355.1 314.1,355.1 315.8,355.1 317.5,355.1 319.2,355.1 320.9,355.1 322.6,355.1 324.3,355.1 326.1,355.1 327.8,355.1 329.5,355.1 331.2,355.1 332.9,355.1 334.6,355.1 336.3,355.1 338.1,355.1" fill="none" stroke="#222222" stroke-width="1.2" stroke-linejoin="round"/>
<circle cx="236.92" cy="333.65" r="2.45" fill="#e6cbf2" stroke="#a65cc8" stroke-width="0.85"/>
<circle cx="248.16" cy="333.65" r="2.45" fill="#e6cbf2" stroke="#a65cc8" stroke-width="0.85"/>
<circle cx="259.4" cy="329.22" r="2.45" fill="#e6cbf2" stroke="#a65cc8" stroke-width="0.85"/>
<circle cx="270.63" cy="329.22" r="2.45" fill="#e6cbf2" stroke="#a65cc8" stroke-width="0.85"/>
<circle cx="281.87" cy="332.38" r="2.45" fill="#e6cbf2" stroke="#a65cc8" stroke-width="0.85"/>
<circle cx="293.11" cy="333.65" r="2.45" fill="#e6cbf2" stroke="#a65cc8" stroke-width="0.85"/>
<circle cx="304.34" cy="334.28" r="2.45" fill="#e6cbf2" stroke="#a65cc8" stroke-width="0.85"/>
<circle cx="315.58" cy="332.38" r="2.45" fill="#e6cbf2" stroke="#a65cc8" stroke-width="0.85"/>
<circle cx="326.81" cy="333.02" r="2.45" fill="#e6cbf2" stroke="#a65cc8" stroke-width="0.85"/>
<circle cx="338.05" cy="334.91" r="2.45" fill="#e6cbf2" stroke="#a65cc8" stroke-width="0.85"/>
<circle cx="236.92" cy="327.33" r="2.45" fill="#7381c8" stroke="#4352a8" stroke-width="0.85"/>
<circle cx="248.16" cy="327.33" r="2.45" fill="#7381c8" stroke="#4352a8" stroke-width="0.85"/>
<circle cx="259.4" cy="325.43" r="2.45" fill="#7381c8" stroke="#4352a8" stroke-width="0.85"/>
<circle cx="270.63" cy="326.7" r="2.45" fill="#7381c8" stroke="#4352a8" stroke-width="0.85"/>
<circle cx="281.87" cy="331.12" r="2.45" fill="#7381c8" stroke="#4352a8" stroke-width="0.85"/>
<circle cx="293.11" cy="322.9" r="2.45" fill="#7381c8" stroke="#4352a8" stroke-width="0.85"/>
<circle cx="304.34" cy="320.38" r="2.45" fill="#7381c8" stroke="#4352a8" stroke-width="0.85"/>
<circle cx="315.58" cy="323.54" r="2.45" fill="#7381c8" stroke="#4352a8" stroke-width="0.85"/>
<circle cx="326.81" cy="323.54" r="2.45" fill="#7381c8" stroke="#4352a8" stroke-width="0.85"/>
<circle cx="338.05" cy="321.64" r="2.45" fill="#7381c8" stroke="#4352a8" stroke-width="0.85"/>
<circle cx="236.92" cy="319.11" r="2.45" fill="#b4ead6" stroke="#22a47e" stroke-width="0.85"/>
<circle cx="248.16" cy="320.38" r="2.45" fill="#b4ead6" stroke="#22a47e" stroke-width="0.85"/>
<circle cx="259.4" cy="317.22" r="2.45" fill="#b4ead6" stroke="#22a47e" stroke-width="0.85"/>
<circle cx="270.63" cy="321.01" r="2.45" fill="#b4ead6" stroke="#22a47e" stroke-width="0.85"/>
<circle cx="281.87" cy="322.9" r="2.45" fill="#b4ead6" stroke="#22a47e" stroke-width="0.85"/>
<circle cx="293.11" cy="321.64" r="2.45" fill="#b4ead6" stroke="#22a47e" stroke-width="0.85"/>
<circle cx="304.34" cy="322.9" r="2.45" fill="#b4ead6" stroke="#22a47e" stroke-width="0.85"/>
<circle cx="315.58" cy="326.7" r="2.45" fill="#b4ead6" stroke="#22a47e" stroke-width="0.85"/>
<circle cx="326.81" cy="327.01" r="2.45" fill="#b4ead6" stroke="#22a47e" stroke-width="0.85"/>
<circle cx="338.05" cy="326.06" r="2.45" fill="#b4ead6" stroke="#22a47e" stroke-width="0.85"/>
<circle cx="236.92" cy="328.91" r="2.45" fill="#c9c9c9" stroke="#222222" stroke-width="0.85"/>
<circle cx="248.16" cy="324.17" r="2.45" fill="#c9c9c9" stroke="#222222" stroke-width="0.85"/>
<circle cx="259.4" cy="323.54" r="2.45" fill="#c9c9c9" stroke="#222222" stroke-width="0.85"/>
<circle cx="270.63" cy="326.06" r="2.45" fill="#c9c9c9" stroke="#222222" stroke-width="0.85"/>
<circle cx="281.87" cy="343.13" r="2.45" fill="#c9c9c9" stroke="#222222" stroke-width="0.85"/>
<circle cx="293.11" cy="353.24" r="2.45" fill="#c9c9c9" stroke="#222222" stroke-width="0.85"/>
<circle cx="304.34" cy="349.45" r="2.45" fill="#c9c9c9" stroke="#222222" stroke-width="0.85"/>
<circle cx="315.58" cy="357.22" r="2.45" fill="#c9c9c9" stroke="#222222" stroke-width="0.85"/>
<circle cx="326.81" cy="354.5" r="2.45" fill="#c9c9c9" stroke="#222222" stroke-width="0.85"/>
<circle cx="338.05" cy="356.78" r="2.45" fill="#c9c9c9" stroke="#222222" stroke-width="0.85"/>
<line x1="220.3" y1="292.7" x2="220.3" y2="391.6" stroke="#2b2b2b" stroke-width="1.2" stroke-linecap="butt"/>
<line x1="216.7" y1="388" x2="362.1" y2="388" stroke="#2b2b2b" stroke-width="1.2" stroke-linecap="butt"/>
<line x1="216.9" y1="388" x2="220.3" y2="388" stroke="#2b2b2b" stroke-width="1.1" stroke-linecap="butt"/>
<text x="215.7" y="390.45" font-size="6.8" text-anchor="end" fill="#222" stroke="#222" stroke-width="0.1">0</text>
<line x1="216.9" y1="356.4" x2="220.3" y2="356.4" stroke="#2b2b2b" stroke-width="1.1" stroke-linecap="butt"/>
<text x="215.7" y="358.85" font-size="6.8" text-anchor="end" fill="#222" stroke="#222" stroke-width="0.1">50</text>
<line x1="216.9" y1="324.8" x2="220.3" y2="324.8" stroke="#2b2b2b" stroke-width="1.1" stroke-linecap="butt"/>
<text x="215.7" y="327.25" font-size="6.8" text-anchor="end" fill="#222" stroke="#222" stroke-width="0.1">100</text>
<line x1="216.9" y1="293.2" x2="220.3" y2="293.2" stroke="#2b2b2b" stroke-width="1.1" stroke-linecap="butt"/>
<text x="215.7" y="295.65" font-size="6.8" text-anchor="end" fill="#222" stroke="#222" stroke-width="0.1">150</text>
<line x1="220.3" y1="388" x2="220.3" y2="391.6" stroke="#2b2b2b" stroke-width="1.1" stroke-linecap="butt"/>
<text x="220.3" y="398.2" font-size="6.8" text-anchor="middle" fill="#222" stroke="#222" stroke-width="0.1">0.0001</text>
<line x1="243.85" y1="388" x2="243.85" y2="391.6" stroke="#2b2b2b" stroke-width="1.1" stroke-linecap="butt"/>
<text x="243.85" y="398.2" font-size="6.8" text-anchor="middle" fill="#222" stroke="#222" stroke-width="0.1">0.001</text>
<line x1="267.4" y1="388" x2="267.4" y2="391.6" stroke="#2b2b2b" stroke-width="1.1" stroke-linecap="butt"/>
<text x="267.4" y="398.2" font-size="6.8" text-anchor="middle" fill="#222" stroke="#222" stroke-width="0.1">0.01</text>
<line x1="290.95" y1="388" x2="290.95" y2="391.6" stroke="#2b2b2b" stroke-width="1.1" stroke-linecap="butt"/>
<text x="290.95" y="398.2" font-size="6.8" text-anchor="middle" fill="#222" stroke="#222" stroke-width="0.1">0.1</text>
<line x1="314.5" y1="388" x2="314.5" y2="391.6" stroke="#2b2b2b" stroke-width="1.1" stroke-linecap="butt"/>
<text x="314.5" y="398.2" font-size="6.8" text-anchor="middle" fill="#222" stroke="#222" stroke-width="0.1">1</text>
<line x1="338.05" y1="388" x2="338.05" y2="391.6" stroke="#2b2b2b" stroke-width="1.1" stroke-linecap="butt"/>
<text x="338.05" y="398.2" font-size="6.8" text-anchor="middle" fill="#222" stroke="#222" stroke-width="0.1">10</text>
<line x1="361.6" y1="388" x2="361.6" y2="391.6" stroke="#2b2b2b" stroke-width="1.1" stroke-linecap="butt"/>
<text x="361.6" y="398.2" font-size="6.8" text-anchor="middle" fill="#222" stroke="#222" stroke-width="0.1">100</text>
<text x="291.8" y="409.8" font-size="7.75" text-anchor="middle" fill="#222" stroke="#222" stroke-width="0.1">[MD-224] (μM)</text>
<text x="199.4" y="341" font-size="7.7" text-anchor="middle" fill="#222" stroke="#222" stroke-width="0.1" transform="rotate(-90 199.4 341)">HiBiT-LXRβ Signal (%)</text>
<text x="291.5" y="287.3" font-size="8.9" text-anchor="middle" fill="#222" stroke="#222" stroke-width="0.1">LXRβ, t = 2 h</text>
<line x1="226.6" y1="351.6" x2="237" y2="351.6" stroke="#222222" stroke-width="1.2" stroke-linecap="butt"/>
<circle cx="231.8" cy="351.6" r="2.4" fill="#c9c9c9" stroke="#222222" stroke-width="0.85"/>
<text x="242.7" y="354.4" font-size="7.75" text-anchor="start" fill="#222" stroke="#222" stroke-width="0.1">DMSO</text>
<line x1="226.6" y1="360.6" x2="237" y2="360.6" stroke="#22a47e" stroke-width="1.2" stroke-linecap="butt"/>
<circle cx="231.8" cy="360.6" r="2.4" fill="#b4ead6" stroke="#22a47e" stroke-width="0.85"/>
<text x="242.7" y="363.4" font-size="7.75" text-anchor="start" fill="#222" stroke="#222" stroke-width="0.1">T0901317</text>
<line x1="226.6" y1="369.6" x2="237" y2="369.6" stroke="#a65cc8" stroke-width="1.2" stroke-linecap="butt"/>
<circle cx="231.8" cy="369.6" r="2.4" fill="#e6cbf2" stroke="#a65cc8" stroke-width="0.85"/>
<text x="242.7" y="372.4" font-size="7.75" text-anchor="start" fill="#222" stroke="#222" stroke-width="0.1">GW3965</text>
<line x1="226.6" y1="378.5" x2="237" y2="378.5" stroke="#4352a8" stroke-width="1.2" stroke-linecap="butt"/>
<circle cx="231.8" cy="378.5" r="2.4" fill="#7381c8" stroke="#4352a8" stroke-width="0.85"/>
<text x="242.7" y="381.3" font-size="7.75" text-anchor="start" fill="#222" stroke="#222" stroke-width="0.1">SR9238</text>
<text x="194.5" y="286.7" font-size="9.8" text-anchor="start" fill="#111" font-weight="bold">I</text>
<text x="365.6" y="286.7" font-size="9.8" text-anchor="start" fill="#111" font-weight="bold">J</text>
<text x="404.02" y="286.2" font-size="7.2" text-anchor="middle" fill="#222" stroke="#222" stroke-width="0.1">2 h</text>
<line x1="384.9" y1="288" x2="425.15" y2="288" stroke="#8a8a8a" stroke-width="1.3" stroke-linecap="butt"/>
<text x="451.02" y="286.2" font-size="7.2" text-anchor="middle" fill="#222" stroke="#222" stroke-width="0.1">8 h</text>
<line x1="431.9" y1="288" x2="472.15" y2="288" stroke="#8a8a8a" stroke-width="1.3" stroke-linecap="butt"/>
<text x="498.02" y="286.2" font-size="7.2" text-anchor="middle" fill="#222" stroke="#222" stroke-width="0.1">24 h</text>
<line x1="478.9" y1="288" x2="519.15" y2="288" stroke="#8a8a8a" stroke-width="1.3" stroke-linecap="butt"/>
<text x="386.4" y="296" font-size="6.7" text-anchor="middle" fill="#222" stroke="#222" stroke-width="0.1">0</text>
<text x="398.15" y="296" font-size="6.7" text-anchor="middle" fill="#222" stroke="#222" stroke-width="0.1">0.1</text>
<text x="409.9" y="296" font-size="6.7" text-anchor="middle" fill="#222" stroke="#222" stroke-width="0.1">1</text>
<text x="421.65" y="296" font-size="6.7" text-anchor="middle" fill="#222" stroke="#222" stroke-width="0.1">10</text>
<text x="433.4" y="296" font-size="6.7" text-anchor="middle" fill="#222" stroke="#222" stroke-width="0.1">0</text>
<text x="445.15" y="296" font-size="6.7" text-anchor="middle" fill="#222" stroke="#222" stroke-width="0.1">0.1</text>
<text x="456.9" y="296" font-size="6.7" text-anchor="middle" fill="#222" stroke="#222" stroke-width="0.1">1</text>
<text x="468.65" y="296" font-size="6.7" text-anchor="middle" fill="#222" stroke="#222" stroke-width="0.1">10</text>
<text x="480.4" y="296" font-size="6.7" text-anchor="middle" fill="#222" stroke="#222" stroke-width="0.1">0</text>
<text x="492.15" y="296" font-size="6.7" text-anchor="middle" fill="#222" stroke="#222" stroke-width="0.1">0.1</text>
<text x="503.9" y="296" font-size="6.7" text-anchor="middle" fill="#222" stroke="#222" stroke-width="0.1">1</text>
<text x="515.65" y="296" font-size="6.7" text-anchor="middle" fill="#222" stroke="#222" stroke-width="0.1">10</text>
<rect x="380.3" y="298.1" width="142.7" height="15.3" fill="#bcbcbc" stroke="#1e1e1e" stroke-width="1.1"/>
<rect x="380.3" y="315.3" width="142.7" height="15.1" fill="#bcbcbc" stroke="#1e1e1e" stroke-width="1.1"/>
<rect x="381" y="299.6" width="141.4" height="4.2" fill="#a9a9a9" opacity="0.45"/>
<ellipse cx="386.4" cy="305.5" rx="5.0" ry="2.5" fill="#050505" opacity="0.35"/>
<path d="M382.0 304.1Q386.4 304.8 390.8 304.1L390.8 306.9Q386.4 307.5 382.0 306.9Z" fill="#050505" stroke="#050505" stroke-width="0.6" stroke-linejoin="round"/>
<ellipse cx="398.1" cy="305.5" rx="5.0" ry="2.5" fill="#0e0e0e" opacity="0.35"/>
<path d="M393.8 304.1Q398.1 304.8 402.5 304.1L402.5 306.9Q398.1 307.5 393.8 306.9Z" fill="#0e0e0e" stroke="#0e0e0e" stroke-width="0.6" stroke-linejoin="round"/>
<ellipse cx="409.9" cy="305.5" rx="5.0" ry="2.5" fill="#050505" opacity="0.35"/>
<path d="M405.5 304.1Q409.9 304.8 414.3 304.1L414.3 306.9Q409.9 307.5 405.5 306.9Z" fill="#050505" stroke="#050505" stroke-width="0.6" stroke-linejoin="round"/>
<ellipse cx="421.6" cy="305.5" rx="5.0" ry="2.5" fill="#0a0a0a" opacity="0.35"/>
<path d="M417.2 304.1Q421.6 304.8 426.0 304.1L426.0 306.9Q421.6 307.5 417.2 306.9Z" fill="#0a0a0a" stroke="#0a0a0a" stroke-width="0.6" stroke-linejoin="round"/>
<ellipse cx="433.4" cy="305.5" rx="5.0" ry="2.5" fill="#050505" opacity="0.35"/>
<path d="M429.0 304.1Q433.4 304.8 437.8 304.1L437.8 306.9Q433.4 307.5 429.0 306.9Z" fill="#050505" stroke="#050505" stroke-width="0.6" stroke-linejoin="round"/>
<ellipse cx="445.1" cy="305.5" rx="5.0" ry="2.5" fill="#171717" opacity="0.35"/>
<path d="M440.8 304.1Q445.1 304.8 449.5 304.1L449.5 306.9Q445.1 307.5 440.8 306.9Z" fill="#171717" stroke="#171717" stroke-width="0.6" stroke-linejoin="round"/>
<ellipse cx="456.9" cy="305.5" rx="5.0" ry="2.5" fill="#202020" opacity="0.35"/>
<path d="M452.5 304.1Q456.9 304.8 461.3 304.1L461.3 306.9Q456.9 307.5 452.5 306.9Z" fill="#202020" stroke="#202020" stroke-width="0.6" stroke-linejoin="round"/>
<ellipse cx="468.6" cy="305.5" rx="5.0" ry="2.5" fill="#131313" opacity="0.35"/>
<path d="M464.2 304.1Q468.6 304.8 473.0 304.1L473.0 306.9Q468.6 307.5 464.2 306.9Z" fill="#131313" stroke="#131313" stroke-width="0.6" stroke-linejoin="round"/>
<ellipse cx="480.4" cy="305.5" rx="5.0" ry="2.5" fill="#050505" opacity="0.35"/>
<path d="M476.0 304.1Q480.4 304.8 484.8 304.1L484.8 306.9Q480.4 307.5 476.0 306.9Z" fill="#050505" stroke="#050505" stroke-width="0.6" stroke-linejoin="round"/>
<ellipse cx="492.1" cy="305.5" rx="5.0" ry="2.2" fill="#2a2a2a" opacity="0.35"/>
<path d="M487.8 304.4Q492.1 305.0 496.5 304.4L496.5 306.6Q492.1 307.2 487.8 306.6Z" fill="#2a2a2a" stroke="#2a2a2a" stroke-width="0.6" stroke-linejoin="round"/>
<ellipse cx="503.9" cy="305.5" rx="5.0" ry="2.2" fill="#6a6a6a" opacity="0.35"/>
<path d="M499.5 304.4Q503.9 305.0 508.3 304.4L508.3 306.6Q503.9 307.2 499.5 306.6Z" fill="#6a6a6a" stroke="#6a6a6a" stroke-width="0.6" stroke-linejoin="round"/>
<ellipse cx="515.6" cy="305.5" rx="5.0" ry="2.2" fill="#383838" opacity="0.35"/>
<path d="M511.2 304.4Q515.6 305.0 520.0 304.4L520.0 306.6Q515.6 307.2 511.2 306.6Z" fill="#383838" stroke="#383838" stroke-width="0.6" stroke-linejoin="round"/>
<ellipse cx="386.4" cy="323.1" rx="5.1" ry="2.8" fill="#050505" opacity="0.35"/>
<path d="M381.9 321.5Q386.4 322.5 390.9 321.5L390.9 324.8Q386.4 325.8 381.9 324.8Z" fill="#050505" stroke="#050505" stroke-width="0.6" stroke-linejoin="round"/>
<ellipse cx="398.1" cy="323.1" rx="5.1" ry="2.8" fill="#050505" opacity="0.35"/>
<path d="M393.6 321.5Q398.1 322.5 402.6 321.5L402.6 324.8Q398.1 325.8 393.6 324.8Z" fill="#050505" stroke="#050505" stroke-width="0.6" stroke-linejoin="round"/>
<ellipse cx="409.9" cy="323.1" rx="5.1" ry="2.8" fill="#050505" opacity="0.35"/>
<path d="M405.4 321.5Q409.9 322.5 414.4 321.5L414.4 324.8Q409.9 325.8 405.4 324.8Z" fill="#050505" stroke="#050505" stroke-width="0.6" stroke-linejoin="round"/>
<ellipse cx="421.6" cy="323.1" rx="5.1" ry="2.8" fill="#050505" opacity="0.35"/>
<path d="M417.1 321.5Q421.6 322.5 426.1 321.5L426.1 324.8Q421.6 325.8 417.1 324.8Z" fill="#050505" stroke="#050505" stroke-width="0.6" stroke-linejoin="round"/>
<ellipse cx="433.4" cy="323.1" rx="5.1" ry="2.8" fill="#050505" opacity="0.35"/>
<path d="M428.9 321.5Q433.4 322.5 437.9 321.5L437.9 324.8Q433.4 325.8 428.9 324.8Z" fill="#050505" stroke="#050505" stroke-width="0.6" stroke-linejoin="round"/>
<ellipse cx="445.1" cy="323.1" rx="5.1" ry="2.8" fill="#050505" opacity="0.35"/>
<path d="M440.6 321.5Q445.1 322.5 449.6 321.5L449.6 324.8Q445.1 325.8 440.6 324.8Z" fill="#050505" stroke="#050505" stroke-width="0.6" stroke-linejoin="round"/>
<ellipse cx="456.9" cy="323.1" rx="5.1" ry="2.8" fill="#050505" opacity="0.35"/>
<path d="M452.4 321.5Q456.9 322.5 461.4 321.5L461.4 324.8Q456.9 325.8 452.4 324.8Z" fill="#050505" stroke="#050505" stroke-width="0.6" stroke-linejoin="round"/>
<ellipse cx="468.6" cy="323.1" rx="5.1" ry="2.8" fill="#050505" opacity="0.35"/>
<path d="M464.1 321.5Q468.6 322.5 473.1 321.5L473.1 324.8Q468.6 325.8 464.1 324.8Z" fill="#050505" stroke="#050505" stroke-width="0.6" stroke-linejoin="round"/>
<ellipse cx="480.4" cy="323.1" rx="5.1" ry="2.8" fill="#050505" opacity="0.35"/>
<path d="M475.9 321.5Q480.4 322.5 484.9 321.5L484.9 324.8Q480.4 325.8 475.9 324.8Z" fill="#050505" stroke="#050505" stroke-width="0.6" stroke-linejoin="round"/>
<ellipse cx="492.1" cy="323.1" rx="5.1" ry="2.8" fill="#050505" opacity="0.35"/>
<path d="M487.6 321.5Q492.1 322.5 496.6 321.5L496.6 324.8Q492.1 325.8 487.6 324.8Z" fill="#050505" stroke="#050505" stroke-width="0.6" stroke-linejoin="round"/>
<ellipse cx="503.9" cy="323.1" rx="5.1" ry="2.8" fill="#050505" opacity="0.35"/>
<path d="M499.4 321.5Q503.9 322.5 508.4 321.5L508.4 324.8Q503.9 325.8 499.4 324.8Z" fill="#050505" stroke="#050505" stroke-width="0.6" stroke-linejoin="round"/>
<ellipse cx="515.6" cy="323.1" rx="5.1" ry="2.8" fill="#050505" opacity="0.35"/>
<path d="M511.1 321.5Q515.6 322.5 520.1 321.5L520.1 324.8Q515.6 325.8 511.1 324.8Z" fill="#050505" stroke="#050505" stroke-width="0.6" stroke-linejoin="round"/>
<text x="373.3" y="304.3" font-size="6.7" text-anchor="middle" fill="#222" stroke="#222" stroke-width="0.1">kDa</text>
<line x1="367.7" y1="305.3" x2="379" y2="305.3" stroke="#333" stroke-width="0.6" stroke-linecap="butt"/>
<text x="377.2" y="313.1" font-size="6.7" text-anchor="end" fill="#222" stroke="#222" stroke-width="0.1">50</text>
<line x1="377.6" y1="310.8" x2="380.3" y2="310.8" stroke="#2b2b2b" stroke-width="0.9" stroke-linecap="butt"/>
<text x="377.2" y="328.1" font-size="6.7" text-anchor="end" fill="#222" stroke="#222" stroke-width="0.1">37</text>
<line x1="377.6" y1="325.8" x2="380.3" y2="325.8" stroke="#2b2b2b" stroke-width="0.9" stroke-linecap="butt"/>
<line x1="380.8" y1="344" x2="522.7" y2="344" stroke="#222" stroke-width="0.9" stroke-dasharray="0.9 2" stroke-linecap="butt"/>
<line x1="380.8" y1="365.5" x2="522.7" y2="365.5" stroke="#222" stroke-width="0.9" stroke-dasharray="0.9 2" stroke-linecap="butt"/>
<rect x="382.0" y="344.0" width="9.4" height="43.0" fill="#000" stroke="#2a2a2a" stroke-width="0.9"/>
<rect x="393.2" y="349.6" width="9.4" height="37.4" fill="#5f5f5f" stroke="#2a2a2a" stroke-width="0.9"/>
<rect x="405.2" y="346.4" width="9.4" height="40.6" fill="#d2d2d2" stroke="#2a2a2a" stroke-width="0.9"/>
<rect x="416.9" y="346.1" width="9.4" height="40.9" fill="#fff" stroke="#2a2a2a" stroke-width="0.9"/>
<rect x="429.0" y="344.0" width="9.4" height="43.0" fill="#000" stroke="#2a2a2a" stroke-width="0.9"/>
<rect x="440.6" y="354.1" width="9.4" height="32.9" fill="#5f5f5f" stroke="#2a2a2a" stroke-width="0.9"/>
<rect x="452.2" y="363.4" width="9.4" height="23.7" fill="#d2d2d2" stroke="#2a2a2a" stroke-width="0.9"/>
<rect x="463.8" y="362.7" width="9.4" height="24.3" fill="#fff" stroke="#2a2a2a" stroke-width="0.9"/>
<rect x="475.6" y="344.0" width="9.4" height="43.0" fill="#000" stroke="#2a2a2a" stroke-width="0.9"/>
<rect x="487.3" y="358.2" width="9.4" height="28.8" fill="#5f5f5f" stroke="#2a2a2a" stroke-width="0.9"/>
<rect x="499.2" y="368.1" width="9.4" height="18.9" fill="#d2d2d2" stroke="#2a2a2a" stroke-width="0.9"/>
<rect x="510.8" y="368.9" width="9.4" height="18.1" fill="#fff" stroke="#2a2a2a" stroke-width="0.9"/>
<line x1="397.9" y1="350.02" x2="397.9" y2="346.15" stroke="#333" stroke-width="0.7" stroke-linecap="butt"/>
<line x1="396.1" y1="346.15" x2="399.7" y2="346.15" stroke="#333" stroke-width="0.7" stroke-linecap="butt"/>
<line x1="409.9" y1="353.46" x2="409.9" y2="338.84" stroke="#333" stroke-width="0.7" stroke-linecap="butt"/>
<line x1="408.1" y1="338.84" x2="411.7" y2="338.84" stroke="#333" stroke-width="0.7" stroke-linecap="butt"/>
<line x1="421.6" y1="352.6" x2="421.6" y2="341.85" stroke="#333" stroke-width="0.7" stroke-linecap="butt"/>
<line x1="419.8" y1="341.85" x2="423.4" y2="341.85" stroke="#333" stroke-width="0.7" stroke-linecap="butt"/>
<line x1="445.3" y1="361.2" x2="445.3" y2="348.3" stroke="#333" stroke-width="0.7" stroke-linecap="butt"/>
<line x1="443.5" y1="348.3" x2="447.1" y2="348.3" stroke="#333" stroke-width="0.7" stroke-linecap="butt"/>
<line x1="456.9" y1="371.95" x2="456.9" y2="351.31" stroke="#333" stroke-width="0.7" stroke-linecap="butt"/>
<line x1="455.1" y1="351.31" x2="458.7" y2="351.31" stroke="#333" stroke-width="0.7" stroke-linecap="butt"/>
<line x1="468.5" y1="365.5" x2="468.5" y2="356.9" stroke="#333" stroke-width="0.7" stroke-linecap="butt"/>
<line x1="466.7" y1="356.9" x2="470.3" y2="356.9" stroke="#333" stroke-width="0.7" stroke-linecap="butt"/>
<line x1="492" y1="361.2" x2="492" y2="353.46" stroke="#333" stroke-width="0.7" stroke-linecap="butt"/>
<line x1="490.2" y1="353.46" x2="493.8" y2="353.46" stroke="#333" stroke-width="0.7" stroke-linecap="butt"/>
<line x1="503.9" y1="372.38" x2="503.9" y2="362.06" stroke="#333" stroke-width="0.7" stroke-linecap="butt"/>
<line x1="502.1" y1="362.06" x2="505.7" y2="362.06" stroke="#333" stroke-width="0.7" stroke-linecap="butt"/>
<line x1="515.5" y1="374.1" x2="515.5" y2="364.64" stroke="#333" stroke-width="0.7" stroke-linecap="butt"/>
<line x1="513.7" y1="364.64" x2="517.3" y2="364.64" stroke="#333" stroke-width="0.7" stroke-linecap="butt"/>
<circle cx="384.1" cy="344" r="2.05" fill="#d4d4d4" stroke="#3a3a3a" stroke-width="0.75"/>
<circle cx="386.7" cy="344" r="2.05" fill="#d4d4d4" stroke="#3a3a3a" stroke-width="0.75"/>
<circle cx="389.3" cy="344" r="2.05" fill="#d4d4d4" stroke="#3a3a3a" stroke-width="0.75"/>
<circle cx="397.7" cy="346.58" r="2.05" fill="#d4d4d4" stroke="#3a3a3a" stroke-width="0.75"/>
<circle cx="395.7" cy="350.02" r="2.05" fill="#d4d4d4" stroke="#3a3a3a" stroke-width="0.75"/>
<circle cx="399.7" cy="348.94" r="2.05" fill="#d4d4d4" stroke="#3a3a3a" stroke-width="0.75"/>
<circle cx="401.1" cy="348.3" r="2.05" fill="#d4d4d4" stroke="#3a3a3a" stroke-width="0.75"/>
<circle cx="410.3" cy="336.69" r="2.05" fill="#d4d4d4" stroke="#3a3a3a" stroke-width="0.75"/>
<circle cx="407.5" cy="346.15" r="2.05" fill="#d4d4d4" stroke="#3a3a3a" stroke-width="0.75"/>
<circle cx="412.7" cy="347.87" r="2.05" fill="#d4d4d4" stroke="#3a3a3a" stroke-width="0.75"/>
<circle cx="410.3" cy="353.46" r="2.05" fill="#d4d4d4" stroke="#3a3a3a" stroke-width="0.75"/>
<circle cx="418.7" cy="344.43" r="2.05" fill="#d4d4d4" stroke="#3a3a3a" stroke-width="0.75"/>
<circle cx="421.8" cy="342.71" r="2.05" fill="#d4d4d4" stroke="#3a3a3a" stroke-width="0.75"/>
<circle cx="424.3" cy="340.99" r="2.05" fill="#d4d4d4" stroke="#3a3a3a" stroke-width="0.75"/>
<circle cx="424.3" cy="346.15" r="2.05" fill="#d4d4d4" stroke="#3a3a3a" stroke-width="0.75"/>
<circle cx="421.5" cy="352.6" r="2.05" fill="#d4d4d4" stroke="#3a3a3a" stroke-width="0.75"/>
<circle cx="431.1" cy="344" r="2.05" fill="#d4d4d4" stroke="#3a3a3a" stroke-width="0.75"/>
<circle cx="433.7" cy="344" r="2.05" fill="#d4d4d4" stroke="#3a3a3a" stroke-width="0.75"/>
<circle cx="436.3" cy="344" r="2.05" fill="#d4d4d4" stroke="#3a3a3a" stroke-width="0.75"/>
<circle cx="445.3" cy="345.29" r="2.05" fill="#d4d4d4" stroke="#3a3a3a" stroke-width="0.75"/>
<circle cx="442.5" cy="352.17" r="2.05" fill="#d4d4d4" stroke="#3a3a3a" stroke-width="0.75"/>
<circle cx="447.8" cy="354.32" r="2.05" fill="#d4d4d4" stroke="#3a3a3a" stroke-width="0.75"/>
<circle cx="445.3" cy="365.07" r="2.05" fill="#d4d4d4" stroke="#3a3a3a" stroke-width="0.75"/>
<circle cx="456.6" cy="346.15" r="2.05" fill="#d4d4d4" stroke="#3a3a3a" stroke-width="0.75"/>
<circle cx="453.7" cy="366.36" r="2.05" fill="#d4d4d4" stroke="#3a3a3a" stroke-width="0.75"/>
<circle cx="459.6" cy="366.36" r="2.05" fill="#d4d4d4" stroke="#3a3a3a" stroke-width="0.75"/>
<circle cx="457.1" cy="372.38" r="2.05" fill="#d4d4d4" stroke="#3a3a3a" stroke-width="0.75"/>
<circle cx="468.2" cy="354.75" r="2.05" fill="#d4d4d4" stroke="#3a3a3a" stroke-width="0.75"/>
<circle cx="465.7" cy="365.93" r="2.05" fill="#d4d4d4" stroke="#3a3a3a" stroke-width="0.75"/>
<circle cx="468.6" cy="363.78" r="2.05" fill="#d4d4d4" stroke="#3a3a3a" stroke-width="0.75"/>
<circle cx="471.5" cy="364.64" r="2.05" fill="#d4d4d4" stroke="#3a3a3a" stroke-width="0.75"/>
<circle cx="477.7" cy="344" r="2.05" fill="#d4d4d4" stroke="#3a3a3a" stroke-width="0.75"/>
<circle cx="480.3" cy="344" r="2.05" fill="#d4d4d4" stroke="#3a3a3a" stroke-width="0.75"/>
<circle cx="482.9" cy="344" r="2.05" fill="#d4d4d4" stroke="#3a3a3a" stroke-width="0.75"/>
<circle cx="494.7" cy="353.03" r="2.05" fill="#d4d4d4" stroke="#3a3a3a" stroke-width="0.75"/>
<circle cx="489.6" cy="356.47" r="2.05" fill="#d4d4d4" stroke="#3a3a3a" stroke-width="0.75"/>
<circle cx="494.7" cy="360.34" r="2.05" fill="#d4d4d4" stroke="#3a3a3a" stroke-width="0.75"/>
<circle cx="489.6" cy="361.63" r="2.05" fill="#d4d4d4" stroke="#3a3a3a" stroke-width="0.75"/>
<circle cx="503.9" cy="358.19" r="2.05" fill="#d4d4d4" stroke="#3a3a3a" stroke-width="0.75"/>
<circle cx="503.9" cy="368.08" r="2.05" fill="#d4d4d4" stroke="#3a3a3a" stroke-width="0.75"/>
<circle cx="501.3" cy="373.67" r="2.05" fill="#d4d4d4" stroke="#3a3a3a" stroke-width="0.75"/>
<circle cx="506.8" cy="371.95" r="2.05" fill="#d4d4d4" stroke="#3a3a3a" stroke-width="0.75"/>
<circle cx="512.6" cy="365.93" r="2.05" fill="#d4d4d4" stroke="#3a3a3a" stroke-width="0.75"/>
<circle cx="518.1" cy="364.64" r="2.05" fill="#d4d4d4" stroke="#3a3a3a" stroke-width="0.75"/>
<circle cx="518.4" cy="373.24" r="2.05" fill="#d4d4d4" stroke="#3a3a3a" stroke-width="0.75"/>
<circle cx="512.6" cy="374.1" r="2.05" fill="#d4d4d4" stroke="#3a3a3a" stroke-width="0.75"/>
<line x1="380.9" y1="334.2" x2="380.9" y2="387.5" stroke="#2b2b2b" stroke-width="1.2" stroke-linecap="butt"/>
<line x1="380.3" y1="387" x2="523.3" y2="387" stroke="#2b2b2b" stroke-width="1.2" stroke-linecap="butt"/>
<line x1="522.7" y1="334.2" x2="522.7" y2="387.5" stroke="#2b2b2b" stroke-width="1.2" stroke-linecap="butt"/>
<line x1="522.7" y1="344" x2="525.6" y2="344" stroke="#2b2b2b" stroke-width="1" stroke-linecap="butt"/>
<line x1="522.7" y1="365.5" x2="525.6" y2="365.5" stroke="#2b2b2b" stroke-width="1" stroke-linecap="butt"/>
<line x1="522.7" y1="387" x2="525.6" y2="387" stroke="#2b2b2b" stroke-width="1" stroke-linecap="butt"/>
<text x="531.3" y="286.7" font-size="9.8" text-anchor="start" fill="#111" font-weight="bold">K</text>
<text x="568.65" y="286.2" font-size="7.2" text-anchor="middle" fill="#222" stroke="#222" stroke-width="0.1">DMSO</text>
<line x1="549.5" y1="288" x2="589.3" y2="288" stroke="#8a8a8a" stroke-width="1.3" stroke-linecap="butt"/>
<text x="613.9" y="286.2" font-size="7.2" text-anchor="middle" fill="#222" stroke="#222" stroke-width="0.1">T0901317</text>
<line x1="595.5" y1="288" x2="633.8" y2="288" stroke="#8a8a8a" stroke-width="1.3" stroke-linecap="butt"/>
<text x="551" y="296" font-size="6.7" text-anchor="middle" fill="#222" stroke="#222" stroke-width="0.1">0</text>
<text x="562.5" y="296" font-size="6.7" text-anchor="middle" fill="#222" stroke="#222" stroke-width="0.1">0.1</text>
<text x="574.4" y="296" font-size="6.7" text-anchor="middle" fill="#222" stroke="#222" stroke-width="0.1">1</text>
<text x="586.3" y="296" font-size="6.7" text-anchor="middle" fill="#222" stroke="#222" stroke-width="0.1">10</text>
<text x="597" y="296" font-size="6.7" text-anchor="middle" fill="#222" stroke="#222" stroke-width="0.1">0</text>
<text x="608.2" y="296" font-size="6.7" text-anchor="middle" fill="#222" stroke="#222" stroke-width="0.1">0.1</text>
<text x="619.2" y="296" font-size="6.7" text-anchor="middle" fill="#222" stroke="#222" stroke-width="0.1">1</text>
<text x="630.8" y="296" font-size="6.7" text-anchor="middle" fill="#222" stroke="#222" stroke-width="0.1">10</text>
<text x="639.4" y="296" font-size="6.5" text-anchor="start" fill="#222" stroke="#222" stroke-width="0.1">[MD-224] (μM)</text>
<rect x="544.5" y="298.1" width="93.5" height="15.3" fill="#bcbcbc" stroke="#1e1e1e" stroke-width="1.1"/>
<rect x="544.5" y="315.3" width="93.5" height="15.1" fill="#bcbcbc" stroke="#1e1e1e" stroke-width="1.1"/>
<rect x="545.2" y="299.6" width="92.1" height="4.2" fill="#a5a5a5" opacity="0.5"/>
<ellipse cx="551.0" cy="305.6" rx="5.2" ry="2.5" fill="#050505" opacity="0.35"/>
<path d="M546.4 304.2Q551.0 304.9 555.6 304.2L555.6 307.0Q551.0 307.6 546.4 307.0Z" fill="#050505" stroke="#050505" stroke-width="0.6" stroke-linejoin="round"/>
<ellipse cx="562.5" cy="305.6" rx="5.2" ry="2.5" fill="#0e0e0e" opacity="0.35"/>
<path d="M557.9 304.2Q562.5 304.9 567.1 304.2L567.1 307.0Q562.5 307.6 557.9 307.0Z" fill="#0e0e0e" stroke="#0e0e0e" stroke-width="0.6" stroke-linejoin="round"/>
<ellipse cx="574.4" cy="305.6" rx="5.2" ry="2.2" fill="#4b4b4b" opacity="0.35"/>
<path d="M569.8 304.5Q574.4 305.1 579.0 304.5L579.0 306.7Q574.4 307.3 569.8 306.7Z" fill="#4b4b4b" stroke="#4b4b4b" stroke-width="0.6" stroke-linejoin="round"/>
<ellipse cx="586.3" cy="305.6" rx="5.2" ry="2.2" fill="#333333" opacity="0.35"/>
<path d="M581.7 304.5Q586.3 305.1 590.9 304.5L590.9 306.7Q586.3 307.3 581.7 306.7Z" fill="#333333" stroke="#333333" stroke-width="0.6" stroke-linejoin="round"/>
<ellipse cx="597.0" cy="305.6" rx="5.2" ry="2.5" fill="#050505" opacity="0.35"/>
<path d="M592.4 304.2Q597.0 304.9 601.6 304.2L601.6 307.0Q597.0 307.6 592.4 307.0Z" fill="#050505" stroke="#050505" stroke-width="0.6" stroke-linejoin="round"/>
<ellipse cx="608.2" cy="305.6" rx="5.2" ry="2.5" fill="#050505" opacity="0.35"/>
<path d="M603.6 304.2Q608.2 304.9 612.8 304.2L612.8 307.0Q608.2 307.6 603.6 307.0Z" fill="#050505" stroke="#050505" stroke-width="0.6" stroke-linejoin="round"/>
<ellipse cx="619.2" cy="305.6" rx="5.2" ry="2.5" fill="#080808" opacity="0.35"/>
<path d="M614.6 304.2Q619.2 304.9 623.8 304.2L623.8 307.0Q619.2 307.6 614.6 307.0Z" fill="#080808" stroke="#080808" stroke-width="0.6" stroke-linejoin="round"/>
<ellipse cx="630.8" cy="305.6" rx="5.2" ry="2.5" fill="#050505" opacity="0.35"/>
<path d="M626.2 304.2Q630.8 304.9 635.4 304.2L635.4 307.0Q630.8 307.6 626.2 307.0Z" fill="#050505" stroke="#050505" stroke-width="0.6" stroke-linejoin="round"/>
<ellipse cx="551.0" cy="323.2" rx="5.3" ry="2.8" fill="#050505" opacity="0.35"/>
<path d="M546.3 321.6Q551.0 322.6 555.7 321.6L555.7 324.8Q551.0 325.8 546.3 324.8Z" fill="#050505" stroke="#050505" stroke-width="0.6" stroke-linejoin="round"/>
<ellipse cx="562.5" cy="323.2" rx="5.3" ry="2.8" fill="#050505" opacity="0.35"/>
<path d="M557.8 321.6Q562.5 322.6 567.2 321.6L567.2 324.8Q562.5 325.8 557.8 324.8Z" fill="#050505" stroke="#050505" stroke-width="0.6" stroke-linejoin="round"/>
<ellipse cx="574.4" cy="323.2" rx="5.3" ry="2.8" fill="#050505" opacity="0.35"/>
<path d="M569.7 321.6Q574.4 322.6 579.1 321.6L579.1 324.8Q574.4 325.8 569.7 324.8Z" fill="#050505" stroke="#050505" stroke-width="0.6" stroke-linejoin="round"/>
<ellipse cx="586.3" cy="323.2" rx="5.3" ry="2.8" fill="#050505" opacity="0.35"/>
<path d="M581.6 321.6Q586.3 322.6 591.0 321.6L591.0 324.8Q586.3 325.8 581.6 324.8Z" fill="#050505" stroke="#050505" stroke-width="0.6" stroke-linejoin="round"/>
<ellipse cx="597.0" cy="323.2" rx="5.3" ry="2.8" fill="#050505" opacity="0.35"/>
<path d="M592.3 321.6Q597.0 322.6 601.7 321.6L601.7 324.8Q597.0 325.8 592.3 324.8Z" fill="#050505" stroke="#050505" stroke-width="0.6" stroke-linejoin="round"/>
<ellipse cx="608.2" cy="323.2" rx="5.3" ry="2.8" fill="#050505" opacity="0.35"/>
<path d="M603.5 321.6Q608.2 322.6 612.9 321.6L612.9 324.8Q608.2 325.8 603.5 324.8Z" fill="#050505" stroke="#050505" stroke-width="0.6" stroke-linejoin="round"/>
<ellipse cx="619.2" cy="323.2" rx="5.3" ry="2.8" fill="#050505" opacity="0.35"/>
<path d="M614.5 321.6Q619.2 322.6 623.9 321.6L623.9 324.8Q619.2 325.8 614.5 324.8Z" fill="#050505" stroke="#050505" stroke-width="0.6" stroke-linejoin="round"/>
<ellipse cx="630.8" cy="323.2" rx="5.3" ry="2.8" fill="#050505" opacity="0.35"/>
<path d="M626.1 321.6Q630.8 322.6 635.5 321.6L635.5 324.8Q630.8 325.8 626.1 324.8Z" fill="#050505" stroke="#050505" stroke-width="0.6" stroke-linejoin="round"/>
<text x="639.6" y="308.4" font-size="7" text-anchor="start" fill="#222" stroke="#222" stroke-width="0.1">3xFLAG-LXRβ</text>
<text x="640" y="325.6" font-size="7.2" text-anchor="start" fill="#222" stroke="#222" stroke-width="0.1">β-Actin</text>
<text x="537.4" y="304.3" font-size="6.7" text-anchor="middle" fill="#222" stroke="#222" stroke-width="0.1">kDa</text>
<line x1="531.8" y1="305.3" x2="543.1" y2="305.3" stroke="#333" stroke-width="0.6" stroke-linecap="butt"/>
<text x="541.4" y="313.1" font-size="6.7" text-anchor="end" fill="#222" stroke="#222" stroke-width="0.1">50</text>
<line x1="541.8" y1="310.8" x2="544.5" y2="310.8" stroke="#2b2b2b" stroke-width="0.9" stroke-linecap="butt"/>
<text x="541.4" y="328.1" font-size="6.7" text-anchor="end" fill="#222" stroke="#222" stroke-width="0.1">37</text>
<line x1="541.8" y1="325.8" x2="544.5" y2="325.8" stroke="#2b2b2b" stroke-width="0.9" stroke-linecap="butt"/>
<line x1="544.4" y1="343.3" x2="637.3" y2="343.3" stroke="#222" stroke-width="0.9" stroke-dasharray="0.9 2" stroke-linecap="butt"/>
<line x1="544.4" y1="365.2" x2="637.3" y2="365.2" stroke="#222" stroke-width="0.9" stroke-dasharray="0.9 2" stroke-linecap="butt"/>
<rect x="546.4" y="343.3" width="9.4" height="43.8" fill="#000" stroke="#2a2a2a" stroke-width="0.9"/>
<rect x="558.3" y="356.9" width="9.4" height="30.2" fill="#5f5f5f" stroke="#2a2a2a" stroke-width="0.9"/>
<rect x="569.4" y="369.1" width="9.4" height="18.0" fill="#d2d2d2" stroke="#2a2a2a" stroke-width="0.9"/>
<rect x="581.1" y="367.4" width="9.4" height="19.7" fill="#fff" stroke="#2a2a2a" stroke-width="0.9"/>
<rect x="592.7" y="343.3" width="9.4" height="43.8" fill="#000" stroke="#2a2a2a" stroke-width="0.9"/>
<rect x="604.0" y="344.2" width="9.4" height="42.9" fill="#5f5f5f" stroke="#2a2a2a" stroke-width="0.9"/>
<rect x="615.6" y="347.7" width="9.4" height="39.4" fill="#d2d2d2" stroke="#2a2a2a" stroke-width="0.9"/>
<rect x="627.0" y="349.4" width="9.4" height="37.7" fill="#fff" stroke="#2a2a2a" stroke-width="0.9"/>
<line x1="563" y1="356.88" x2="563" y2="352.94" stroke="#333" stroke-width="0.7" stroke-linecap="butt"/>
<line x1="561.2" y1="352.94" x2="564.8" y2="352.94" stroke="#333" stroke-width="0.7" stroke-linecap="butt"/>
<line x1="585.8" y1="367.39" x2="585.8" y2="364.32" stroke="#333" stroke-width="0.7" stroke-linecap="butt"/>
<line x1="584" y1="364.32" x2="587.6" y2="364.32" stroke="#333" stroke-width="0.7" stroke-linecap="butt"/>
<line x1="631.7" y1="349.43" x2="631.7" y2="345.49" stroke="#333" stroke-width="0.7" stroke-linecap="butt"/>
<line x1="629.9" y1="345.49" x2="633.5" y2="345.49" stroke="#333" stroke-width="0.7" stroke-linecap="butt"/>
<circle cx="548.5" cy="343.3" r="2.05" fill="#d4d4d4" stroke="#3a3a3a" stroke-width="0.75"/>
<circle cx="551.1" cy="343.3" r="2.05" fill="#d4d4d4" stroke="#3a3a3a" stroke-width="0.75"/>
<circle cx="553.7" cy="343.3" r="2.05" fill="#d4d4d4" stroke="#3a3a3a" stroke-width="0.75"/>
<circle cx="563" cy="350.31" r="2.05" fill="#d4d4d4" stroke="#3a3a3a" stroke-width="0.75"/>
<circle cx="560.1" cy="360.82" r="2.05" fill="#d4d4d4" stroke="#3a3a3a" stroke-width="0.75"/>
<circle cx="565.4" cy="359.07" r="2.05" fill="#d4d4d4" stroke="#3a3a3a" stroke-width="0.75"/>
<circle cx="571.6" cy="367.83" r="2.05" fill="#d4d4d4" stroke="#3a3a3a" stroke-width="0.75"/>
<circle cx="571.4" cy="371.33" r="2.05" fill="#d4d4d4" stroke="#3a3a3a" stroke-width="0.75"/>
<circle cx="576.5" cy="369.14" r="2.05" fill="#d4d4d4" stroke="#3a3a3a" stroke-width="0.75"/>
<circle cx="585.5" cy="362.57" r="2.05" fill="#d4d4d4" stroke="#3a3a3a" stroke-width="0.75"/>
<circle cx="582.9" cy="370.02" r="2.05" fill="#d4d4d4" stroke="#3a3a3a" stroke-width="0.75"/>
<circle cx="588.4" cy="369.58" r="2.05" fill="#d4d4d4" stroke="#3a3a3a" stroke-width="0.75"/>
<circle cx="594.8" cy="343.3" r="2.05" fill="#d4d4d4" stroke="#3a3a3a" stroke-width="0.75"/>
<circle cx="597.4" cy="343.3" r="2.05" fill="#d4d4d4" stroke="#3a3a3a" stroke-width="0.75"/>
<circle cx="600" cy="343.3" r="2.05" fill="#d4d4d4" stroke="#3a3a3a" stroke-width="0.75"/>
<circle cx="606.1" cy="341.11" r="2.05" fill="#d4d4d4" stroke="#3a3a3a" stroke-width="0.75"/>
<circle cx="605.7" cy="347.24" r="2.05" fill="#d4d4d4" stroke="#3a3a3a" stroke-width="0.75"/>
<circle cx="610.7" cy="344.61" r="2.05" fill="#d4d4d4" stroke="#3a3a3a" stroke-width="0.75"/>
<circle cx="619.9" cy="343.74" r="2.05" fill="#d4d4d4" stroke="#3a3a3a" stroke-width="0.75"/>
<circle cx="617.8" cy="350.31" r="2.05" fill="#d4d4d4" stroke="#3a3a3a" stroke-width="0.75"/>
<circle cx="622.8" cy="348.56" r="2.05" fill="#d4d4d4" stroke="#3a3a3a" stroke-width="0.75"/>
<circle cx="629.4" cy="344.61" r="2.05" fill="#d4d4d4" stroke="#3a3a3a" stroke-width="0.75"/>
<circle cx="631.8" cy="355.13" r="2.05" fill="#d4d4d4" stroke="#3a3a3a" stroke-width="0.75"/>
<circle cx="634.2" cy="347.68" r="2.05" fill="#d4d4d4" stroke="#3a3a3a" stroke-width="0.75"/>
<line x1="544.4" y1="334.2" x2="544.4" y2="387.6" stroke="#2b2b2b" stroke-width="1.2" stroke-linecap="butt"/>
<line x1="543.8" y1="387.1" x2="637.9" y2="387.1" stroke="#2b2b2b" stroke-width="1.2" stroke-linecap="butt"/>
<line x1="637.3" y1="334.2" x2="637.3" y2="387.6" stroke="#2b2b2b" stroke-width="1.2" stroke-linecap="butt"/>
<line x1="637.3" y1="343.3" x2="640.2" y2="343.3" stroke="#2b2b2b" stroke-width="1" stroke-linecap="butt"/>
<text x="641" y="345.7" font-size="6.8" text-anchor="start" fill="#222" stroke="#222" stroke-width="0.1">1.0</text>
<line x1="637.3" y1="365.2" x2="640.2" y2="365.2" stroke="#2b2b2b" stroke-width="1" stroke-linecap="butt"/>
<text x="641" y="367.6" font-size="6.8" text-anchor="start" fill="#222" stroke="#222" stroke-width="0.1">0.5</text>
<line x1="637.3" y1="387.1" x2="640.2" y2="387.1" stroke="#2b2b2b" stroke-width="1" stroke-linecap="butt"/>
<text x="641" y="389.5" font-size="6.8" text-anchor="start" fill="#222" stroke="#222" stroke-width="0.1">0.0</text>
<text x="653.2" y="362.4" font-size="7" text-anchor="middle" fill="#222" stroke="#222" stroke-width="0.1" transform="rotate(90 653.2 362.4)">3xFLAG-LXR β (FC)</text>
<text x="0.3" y="150.9" font-size="9.8" text-anchor="start" fill="#111" font-weight="bold">E</text>
<g fill="none" stroke-linejoin="round" stroke-linecap="round">
<use href="#p1" x="-1.3" y="-0.2" stroke="#c8c8c8" stroke-width="0.9"/>
<use href="#p1" x="0.4" y="1.1" stroke="#4446b8" stroke-width="0.9"/>
<use href="#p1" x="0.1" y="-0.6" stroke="#b0b0b0" stroke-width="0.9"/>
<use href="#p2" x="-0.8" y="0.7" stroke="#c8c8c8" stroke-width="0.9"/>
<use href="#p2" x="1.6" y="0.3" stroke="#7a2aa6" stroke-width="0.9"/>
<use href="#p2" x="-1.2" y="-1" stroke="#b0b0b0" stroke-width="0.9"/>
<use href="#p3" x="0.2" y="-1.7" stroke="#c8c8c8" stroke-width="0.9"/>
<use href="#p3" x="-0.1" y="-1.2" stroke="#22a070" stroke-width="0.9"/>
<use href="#p3" x="-0.6" y="-0.5" stroke="#b0b0b0" stroke-width="0.9"/>
<use href="#p4" x="-0.7" y="0.6" stroke="#c8c8c8" stroke-width="0.9"/>
<use href="#p4" x="-0.1" y="-0.6" stroke="#7a2aa6" stroke-width="0.9"/>
<use href="#p4" x="0.4" y="0.8" stroke="#b0b0b0" stroke-width="0.9"/>
<use href="#p5" x="-0.3" y="-1" stroke="#c8c8c8" stroke-width="0.9"/>
<use href="#p5" x="-0.2" y="-1.3" stroke="#22a070" stroke-width="0.9"/>
<use href="#p5" stroke="#b0b0b0" stroke-width="0.9"/>
<use href="#p6" x="-0.3" y="-1" stroke="#c8c8c8" stroke-width="0.9"/>
<use href="#p6" x="-0.4" y="-1.1" stroke="#b6ae2a" stroke-width="0.9"/>
<use href="#p6" x="-1.4" y="0.2" stroke="#b0b0b0" stroke-width="0.9"/>
<use href="#b7" x="-2.4" y="0.3" stroke="#137a52" stroke-width="1.6"/>
<use href="#b7" x="-1.3" y="0" stroke="#7d7a14" stroke-width="1.6"/>
<use href="#b7" x="0.1" y="-2.4" stroke="#2a2a8a" stroke-width="1.6"/>
<use href="#b7" x="-0.3" y="-0.3" stroke="#4e1476" stroke-width="1.6"/>
<use href="#b7" x="1.2" y="-1.4" stroke="#8e8e8e" stroke-width="1.6"/>
<use href="#f7" x="-2.4" y="0.3" stroke="#137a52" stroke-width="3.9"/>
<use href="#f7" x="-2.4" y="0.3" stroke="#22a070" stroke-width="2.8"/>
<use href="#f7" x="-1.3" y="0" stroke="#7d7a14" stroke-width="3.9"/>
<use href="#f7" x="-1.3" y="0" stroke="#b6ae2a" stroke-width="2.8"/>
<use href="#f7" x="0.1" y="-2.4" stroke="#2a2a8a" stroke-width="3.9"/>
<use href="#f7" x="0.1" y="-2.4" stroke="#4446b8" stroke-width="2.8"/>
<use href="#f7" x="-0.3" y="-0.3" stroke="#4e1476" stroke-width="3.9"/>
<use href="#f7" x="-0.3" y="-0.3" stroke="#7a2aa6" stroke-width="2.8"/>
<use href="#f7" x="1.2" y="-1.4" stroke="#8e8e8e" stroke-width="3.9"/>
<use href="#f7" x="1.2" y="-1.4" stroke="#f0f0f0" stroke-width="2.8"/>
<use href="#b8" x="1.7" y="0.7" stroke="#8e8e8e" stroke-width="1.6"/>
<use href="#b8" x="2.9" y="0.8" stroke="#4e1476" stroke-width="1.6"/>
<use href="#b8" x="1" y="1" stroke="#2a2a8a" stroke-width="1.6"/>
<use href="#b8" x="-0.7" y="-0.1" stroke="#7d7a14" stroke-width="1.6"/>
<use href="#b8" x="1.6" y="-0.5" stroke="#137a52" stroke-width="1.6"/>
<use href="#f8" x="1.7" y="0.7" stroke="#8e8e8e" stroke-width="3.9"/>
<use href="#f8" x="1.7" y="0.7" stroke="#f0f0f0" stroke-width="2.8"/>
<use href="#f8" x="2.9" y="0.8" stroke="#4e1476" stroke-width="3.9"/>
<use href="#f8" x="2.9" y="0.8" stroke="#7a2aa6" stroke-width="2.8"/>
<use href="#f8" x="1" y="1" stroke="#2a2a8a" stroke-width="3.9"/>
<use href="#f8" x="1" y="1" stroke="#4446b8" stroke-width="2.8"/>
<use href="#f8" x="-0.7" y="-0.1" stroke="#7d7a14" stroke-width="3.9"/>
<use href="#f8" x="-0.7" y="-0.1" stroke="#b6ae2a" stroke-width="2.8"/>
<use href="#f8" x="1.6" y="-0.5" stroke="#137a52" stroke-width="3.9"/>
<use href="#f8" x="1.6" y="-0.5" stroke="#22a070" stroke-width="2.8"/>
<use href="#b9" x="0.1" y="-1" stroke="#2a2a8a" stroke-width="1.6"/>
<use href="#b9" x="1.1" y="-1.6" stroke="#7d7a14" stroke-width="1.6"/>
<use href="#b9" x="-1.4" y="-1.5" stroke="#4e1476" stroke-width="1.6"/>
<use href="#b9" x="1.2" y="-0.4" stroke="#137a52" stroke-width="1.6"/>
<use href="#b9" x="-1.2" y="-1.4" stroke="#8e8e8e" stroke-width="1.6"/>
<use href="#f9" x="0.1" y="-1" stroke="#2a2a8a" stroke-width="3.9"/>
<use href="#f9" x="0.1" y="-1" stroke="#4446b8" stroke-width="2.8"/>
<use href="#f9" x="1.1" y="-1.6" stroke="#7d7a14" stroke-width="3.9"/>
<use href="#f9" x="1.1" y="-1.6" stroke="#b6ae2a" stroke-width="2.8"/>
<use href="#f9" x="-1.4" y="-1.5" stroke="#4e1476" stroke-width="3.9"/>
<use href="#f9" x="-1.4" y="-1.5" stroke="#7a2aa6" stroke-width="2.8"/>
<use href="#f9" x="1.2" y="-0.4" stroke="#137a52" stroke-width="3.9"/>
<use href="#f9" x="1.2" y="-0.4" stroke="#22a070" stroke-width="2.8"/>
<use href="#f9" x="-1.2" y="-1.4" stroke="#8e8e8e" stroke-width="3.9"/>
<use href="#f9" x="-1.2" y="-1.4" stroke="#f0f0f0" stroke-width="2.8"/>
<use href="#b10" x="0.7" y="-1.4" stroke="#8e8e8e" stroke-width="1.6"/>
<use href="#b10" x="-0.4" y="-0" stroke="#137a52" stroke-width="1.6"/>
<use href="#b10" x="-0.5" y="-0.1" stroke="#4e1476" stroke-width="1.6"/>
<use href="#b10" x="1.6" y="-0.6" stroke="#7d7a14" stroke-width="1.6"/>
<use href="#b10" x="-1.5" y="-2.2" stroke="#2a2a8a" stroke-width="1.6"/>
<use href="#f10" x="0.7" y="-1.4" stroke="#8e8e8e" stroke-width="3.9"/>
<use href="#f10" x="0.7" y="-1.4" stroke="#f0f0f0" stroke-width="2.8"/>
<use href="#f10" x="-0.4" y="-0" stroke="#137a52" stroke-width="3.9"/>
<use href="#f10" x="-0.4" y="-0" stroke="#22a070" stroke-width="2.8"/>
<use href="#f10" x="-0.5" y="-0.1" stroke="#4e1476" stroke-width="3.9"/>
<use href="#f10" x="-0.5" y="-0.1" stroke="#7a2aa6" stroke-width="2.8"/>
<use href="#f10" x="1.6" y="-0.6" stroke="#7d7a14" stroke-width="3.9"/>
<use href="#f10" x="1.6" y="-0.6" stroke="#b6ae2a" stroke-width="2.8"/>
<use href="#f10" x="-1.5" y="-2.2" stroke="#2a2a8a" stroke-width="3.9"/>
<use href="#f10" x="-1.5" y="-2.2" stroke="#4446b8" stroke-width="2.8"/>
<use href="#b11" x="-0.9" y="-0.6" stroke="#8e8e8e" stroke-width="1.6"/>
<use href="#b11" x="0.2" y="-0.5" stroke="#4e1476" stroke-width="1.6"/>
<use href="#b11" x="0.1" y="2.3" stroke="#2a2a8a" stroke-width="1.6"/>
<use href="#b11" x="0.6" y="-1.9" stroke="#7d7a14" stroke-width="1.6"/>
<use href="#b11" x="2.1" y="0.4" stroke="#137a52" stroke-width="1.6"/>
<use href="#f11" x="-0.9" y="-0.6" stroke="#8e8e8e" stroke-width="3.9"/>
<use href="#f11" x="-0.9" y="-0.6" stroke="#f0f0f0" stroke-width="2.8"/>
<use href="#f11" x="0.2" y="-0.5" stroke="#4e1476" stroke-width="3.9"/>
<use href="#f11" x="0.2" y="-0.5" stroke="#7a2aa6" stroke-width="2.8"/>
<use href="#f11" x="0.1" y="2.3" stroke="#2a2a8a" stroke-width="3.9"/>
<use href="#f11" x="0.1" y="2.3" stroke="#4446b8" stroke-width="2.8"/>
<use href="#f11" x="0.6" y="-1.9" stroke="#7d7a14" stroke-width="3.9"/>
<use href="#f11" x="0.6" y="-1.9" stroke="#b6ae2a" stroke-width="2.8"/>
<use href="#f11" x="2.1" y="0.4" stroke="#137a52" stroke-width="3.9"/>
<use href="#f11" x="2.1" y="0.4" stroke="#22a070" stroke-width="2.8"/>
<use href="#b12" x="-0.7" y="-0.8" stroke="#7d7a14" stroke-width="1.6"/>
<use href="#b12" x="-1.2" y="0.1" stroke="#137a52" stroke-width="1.6"/>
<use href="#b12" x="1.3" y="-0.4" stroke="#8e8e8e" stroke-width="1.6"/>
<use href="#b12" x="0.5" y="2.3" stroke="#2a2a8a" stroke-width="1.6"/>
<use href="#b12" x="-1.5" y="0.3" stroke="#4e1476" stroke-width="1.6"/>
<use href="#f12" x="-0.7" y="-0.8" stroke="#7d7a14" stroke-width="3.9"/>
<use href="#f12" x="-0.7" y="-0.8" stroke="#b6ae2a" stroke-width="2.8"/>
<use href="#f12" x="-1.2" y="0.1" stroke="#137a52" stroke-width="3.9"/>
<use href="#f12" x="-1.2" y="0.1" stroke="#22a070" stroke-width="2.8"/>
<use href="#f12" x="1.3" y="-0.4" stroke="#8e8e8e" stroke-width="3.9"/>
<use href="#f12" x="1.3" y="-0.4" stroke="#f0f0f0" stroke-width="2.8"/>
<use href="#f12" x="0.5" y="2.3" stroke="#2a2a8a" stroke-width="3.9"/>
<use href="#f12" x="0.5" y="2.3" stroke="#4446b8" stroke-width="2.8"/>
<use href="#f12" x="-1.5" y="0.3" stroke="#4e1476" stroke-width="3.9"/>
<use href="#f12" x="-1.5" y="0.3" stroke="#7a2aa6" stroke-width="2.8"/>
<use href="#b13" x="0.5" y="-0.6" stroke="#2a2a8a" stroke-width="1.6"/>
<use href="#b13" x="0.1" y="0.9" stroke="#7d7a14" stroke-width="1.6"/>
<use href="#b13" x="0.4" y="1" stroke="#137a52" stroke-width="1.6"/>
<use href="#b13" x="0.6" y="0.6" stroke="#4e1476" stroke-width="1.6"/>
<use href="#b13" x="2.2" y="0.7" stroke="#8e8e8e" stroke-width="1.6"/>
<use href="#f13" x="0.5" y="-0.6" stroke="#2a2a8a" stroke-width="3.9"/>
<use href="#f13" x="0.5" y="-0.6" stroke="#4446b8" stroke-width="2.8"/>
<use href="#f13" x="0.1" y="0.9" stroke="#7d7a14" stroke-width="3.9"/>
<use href="#f13" x="0.1" y="0.9" stroke="#b6ae2a" stroke-width="2.8"/>
<use href="#f13" x="0.4" y="1" stroke="#137a52" stroke-width="3.9"/>
<use href="#f13" x="0.4" y="1" stroke="#22a070" stroke-width="2.8"/>
<use href="#f13" x="0.6" y="0.6" stroke="#4e1476" stroke-width="3.9"/>
<use href="#f13" x="0.6" y="0.6" stroke="#7a2aa6" stroke-width="2.8"/>
<use href="#f13" x="2.2" y="0.7" stroke="#8e8e8e" stroke-width="3.9"/>
<use href="#f13" x="2.2" y="0.7" stroke="#f0f0f0" stroke-width="2.8"/>
<use href="#b14" x="-0.4" y="1" stroke="#8e8e8e" stroke-width="1.6"/>
<use href="#b14" x="0.8" y="1.9" stroke="#137a52" stroke-width="1.6"/>
<use href="#b14" x="0" y="-1.8" stroke="#2a2a8a" stroke-width="1.6"/>
<use href="#b14" x="2.3" y="1.3" stroke="#4e1476" stroke-width="1.6"/>
<use href="#b14" x="-1.3" y="1.7" stroke="#7d7a14" stroke-width="1.6"/>
<use href="#f14" x="-0.4" y="1" stroke="#8e8e8e" stroke-width="3.9"/>
<use href="#f14" x="-0.4" y="1" stroke="#f0f0f0" stroke-width="2.8"/>
<use href="#f14" x="0.8" y="1.9" stroke="#137a52" stroke-width="3.9"/>
<use href="#f14" x="0.8" y="1.9" stroke="#22a070" stroke-width="2.8"/>
<use href="#f14" x="0" y="-1.8" stroke="#2a2a8a" stroke-width="3.9"/>
<use href="#f14" x="0" y="-1.8" stroke="#4446b8" stroke-width="2.8"/>
<use href="#f14" x="2.3" y="1.3" stroke="#4e1476" stroke-width="3.9"/>
<use href="#f14" x="2.3" y="1.3" stroke="#7a2aa6" stroke-width="2.8"/>
<use href="#f14" x="-1.3" y="1.7" stroke="#7d7a14" stroke-width="3.9"/>
<use href="#f14" x="-1.3" y="1.7" stroke="#b6ae2a" stroke-width="2.8"/>
<use href="#b15" x="-1" y="-0.3" stroke="#137a52" stroke-width="1.6"/>
<use href="#b15" x="-0.3" y="-0.5" stroke="#8e8e8e" stroke-width="1.6"/>
<use href="#b15" x="-1.1" y="0.3" stroke="#7d7a14" stroke-width="1.6"/>
<use href="#b15" x="1.3" y="0.7" stroke="#2a2a8a" stroke-width="1.6"/>
<use href="#b15" x="-1.1" y="-1.4" stroke="#4e1476" stroke-width="1.6"/>
<use href="#f15" x="-1" y="-0.3" stroke="#137a52" stroke-width="3.9"/>
<use href="#f15" x="-1" y="-0.3" stroke="#22a070" stroke-width="2.8"/>
<use href="#f15" x="-0.3" y="-0.5" stroke="#8e8e8e" stroke-width="3.9"/>
<use href="#f15" x="-0.3" y="-0.5" stroke="#f0f0f0" stroke-width="2.8"/>
<use href="#f15" x="-1.1" y="0.3" stroke="#7d7a14" stroke-width="3.9"/>
<use href="#f15" x="-1.1" y="0.3" stroke="#b6ae2a" stroke-width="2.8"/>
<use href="#f15" x="1.3" y="0.7" stroke="#2a2a8a" stroke-width="3.9"/>
<use href="#f15" x="1.3" y="0.7" stroke="#4446b8" stroke-width="2.8"/>
<use href="#f15" x="-1.1" y="-1.4" stroke="#4e1476" stroke-width="3.9"/>
<use href="#f15" x="-1.1" y="-1.4" stroke="#7a2aa6" stroke-width="2.8"/>
<use href="#b16" x="-2" y="2.3" stroke="#4e1476" stroke-width="1.6"/>
<use href="#b16" x="1.1" y="-1.2" stroke="#7d7a14" stroke-width="1.6"/>
<use href="#b16" x="1.1" y="1.6" stroke="#137a52" stroke-width="1.6"/>
<use href="#b16" x="-2.9" y="-0.7" stroke="#8e8e8e" stroke-width="1.6"/>
<use href="#b16" x="-0.5" y="0.8" stroke="#2a2a8a" stroke-width="1.6"/>
<use href="#f16" x="-2" y="2.3" stroke="#4e1476" stroke-width="3.9"/>
<use href="#f16" x="-2" y="2.3" stroke="#7a2aa6" stroke-width="2.8"/>
<use href="#f16" x="1.1" y="-1.2" stroke="#7d7a14" stroke-width="3.9"/>
<use href="#f16" x="1.1" y="-1.2" stroke="#b6ae2a" stroke-width="2.8"/>
<use href="#f16" x="1.1" y="1.6" stroke="#137a52" stroke-width="3.9"/>
<use href="#f16" x="1.1" y="1.6" stroke="#22a070" stroke-width="2.8"/>
<use href="#f16" x="-2.9" y="-0.7" stroke="#8e8e8e" stroke-width="3.9"/>
<use href="#f16" x="-2.9" y="-0.7" stroke="#f0f0f0" stroke-width="2.8"/>
<use href="#f16" x="-0.5" y="0.8" stroke="#2a2a8a" stroke-width="3.9"/>
<use href="#f16" x="-0.5" y="0.8" stroke="#4446b8" stroke-width="2.8"/>
<use href="#b17" x="2.6" y="-0.6" stroke="#4e1476" stroke-width="1.6"/>
<use href="#b17" x="-1.1" y="3.2" stroke="#2a2a8a" stroke-width="1.6"/>
<use href="#b17" x="-1.2" y="-0.7" stroke="#137a52" stroke-width="1.6"/>
<use href="#b17" x="0" y="0.6" stroke="#7d7a14" stroke-width="1.6"/>
<use href="#b17" x="1.2" y="0.5" stroke="#8e8e8e" stroke-width="1.6"/>
<use href="#f17" x="2.6" y="-0.6" stroke="#4e1476" stroke-width="3.9"/>
<use href="#f17" x="2.6" y="-0.6" stroke="#7a2aa6" stroke-width="2.8"/>
<use href="#f17" x="-1.1" y="3.2" stroke="#2a2a8a" stroke-width="3.9"/>
<use href="#f17" x="-1.1" y="3.2" stroke="#4446b8" stroke-width="2.8"/>
<use href="#f17" x="-1.2" y="-0.7" stroke="#137a52" stroke-width="3.9"/>
<use href="#f17" x="-1.2" y="-0.7" stroke="#22a070" stroke-width="2.8"/>
<use href="#f17" x="0" y="0.6" stroke="#7d7a14" stroke-width="3.9"/>
<use href="#f17" x="0" y="0.6" stroke="#b6ae2a" stroke-width="2.8"/>
<use href="#f17" x="1.2" y="0.5" stroke="#8e8e8e" stroke-width="3.9"/>
<use href="#f17" x="1.2" y="0.5" stroke="#f0f0f0" stroke-width="2.8"/>
<use href="#b18" x="2.3" y="-0" stroke="#8e8e8e" stroke-width="1.6"/>
<use href="#b18" x="-1.6" y="-1.3" stroke="#2a2a8a" stroke-width="1.6"/>
<use href="#b18" x="1.7" y="-0.6" stroke="#7d7a14" stroke-width="1.6"/>
<use href="#b18" x="-2.5" y="-0.7" stroke="#137a52" stroke-width="1.6"/>
<use href="#b18" x="0" y="1.4" stroke="#4e1476" stroke-width="1.6"/>
<use href="#f18" x="2.3" y="-0" stroke="#8e8e8e" stroke-width="3.9"/>
<use href="#f18" x="2.3" y="-0" stroke="#f0f0f0" stroke-width="2.8"/>
<use href="#f18" x="-1.6" y="-1.3" stroke="#2a2a8a" stroke-width="3.9"/>
<use href="#f18" x="-1.6" y="-1.3" stroke="#4446b8" stroke-width="2.8"/>
<use href="#f18" x="1.7" y="-0.6" stroke="#7d7a14" stroke-width="3.9"/>
<use href="#f18" x="1.7" y="-0.6" stroke="#b6ae2a" stroke-width="2.8"/>
<use href="#f18" x="-2.5" y="-0.7" stroke="#137a52" stroke-width="3.9"/>
<use href="#f18" x="-2.5" y="-0.7" stroke="#22a070" stroke-width="2.8"/>
<use href="#f18" x="0" y="1.4" stroke="#4e1476" stroke-width="3.9"/>
<use href="#f18" x="0" y="1.4" stroke="#7a2aa6" stroke-width="2.8"/>
<use href="#b19" x="-0.8" y="-0.2" stroke="#4e1476" stroke-width="1.6"/>
<use href="#b19" x="2.1" y="2.1" stroke="#2a2a8a" stroke-width="1.6"/>
<use href="#b19" x="1" y="0.4" stroke="#7d7a14" stroke-width="1.6"/>
<use href="#b19" x="1.4" y="-0.2" stroke="#8e8e8e" stroke-width="1.6"/>
<use href="#b19" x="-0.1" y="-1" stroke="#137a52" stroke-width="1.6"/>
<use href="#f19" x="-0.8" y="-0.2" stroke="#4e1476" stroke-width="3.9"/>
<use href="#f19" x="-0.8" y="-0.2" stroke="#7a2aa6" stroke-width="2.8"/>
<use href="#f19" x="2.1" y="2.1" stroke="#2a2a8a" stroke-width="3.9"/>
<use href="#f19" x="2.1" y="2.1" stroke="#4446b8" stroke-width="2.8"/>
<use href="#f19" x="1" y="0.4" stroke="#7d7a14" stroke-width="3.9"/>
<use href="#f19" x="1" y="0.4" stroke="#b6ae2a" stroke-width="2.8"/>
<use href="#f19" x="1.4" y="-0.2" stroke="#8e8e8e" stroke-width="3.9"/>
<use href="#f19" x="1.4" y="-0.2" stroke="#f0f0f0" stroke-width="2.8"/>
<use href="#f19" x="-0.1" y="-1" stroke="#137a52" stroke-width="3.9"/>
<use href="#f19" x="-0.1" y="-1" stroke="#22a070" stroke-width="2.8"/>
<use href="#b20" x="1.4" y="-2.6" stroke="#137a52" stroke-width="1.6"/>
<use href="#b20" x="0.1" y="1" stroke="#2a2a8a" stroke-width="1.6"/>
<use href="#b20" x="-2.9" y="-1.4" stroke="#8e8e8e" stroke-width="1.6"/>
<use href="#b20" x="1.3" y="-0.3" stroke="#4e1476" stroke-width="1.6"/>
<use href="#b20" x="-1.3" y="-0.4" stroke="#7d7a14" stroke-width="1.6"/>
<use href="#f20" x="1.4" y="-2.6" stroke="#137a52" stroke-width="3.9"/>
<use href="#f20" x="1.4" y="-2.6" stroke="#22a070" stroke-width="2.8"/>
<use href="#f20" x="0.1" y="1" stroke="#2a2a8a" stroke-width="3.9"/>
<use href="#f20" x="0.1" y="1" stroke="#4446b8" stroke-width="2.8"/>
<use href="#f20" x="-2.9" y="-1.4" stroke="#8e8e8e" stroke-width="3.9"/>
<use href="#f20" x="-2.9" y="-1.4" stroke="#f0f0f0" stroke-width="2.8"/>
<use href="#f20" x="1.3" y="-0.3" stroke="#4e1476" stroke-width="3.9"/>
<use href="#f20" x="1.3" y="-0.3" stroke="#7a2aa6" stroke-width="2.8"/>
<use href="#f20" x="-1.3" y="-0.4" stroke="#7d7a14" stroke-width="3.9"/>
<use href="#f20" x="-1.3" y="-0.4" stroke="#b6ae2a" stroke-width="2.8"/>
</g>
<path d="M48 206 L62 202 L66 222 L52 228 Z" fill="#c8cbee" opacity="0.35"/>
<text x="1" y="226.9" font-size="7.8" text-anchor="start" fill="#d4d4d4" stroke="#d4d4d4" stroke-width="0.1">PXR</text>
<text x="1" y="234.1" font-size="7.8" text-anchor="start" fill="#1f9a6a" stroke="#1f9a6a" stroke-width="0.1">CAR</text>
<text x="1" y="241.3" font-size="7.8" text-anchor="start" fill="#7a2a9a" stroke="#7a2a9a" stroke-width="0.1">VDR</text>
<text x="1" y="248.5" font-size="7.8" text-anchor="start" fill="#4048b0" stroke="#4048b0" stroke-width="0.1">FXR</text>
<text x="1" y="255.7" font-size="7.8" text-anchor="start" fill="#a8a040" stroke="#a8a040" stroke-width="0.1">LXRα</text>
<text x="1" y="262.9" font-size="7.8" text-anchor="start" fill="#7a7a7a" stroke="#7a7a7a" stroke-width="0.1">LXRβ</text>
<text x="95.5" y="218.9" font-size="7.6" text-anchor="start" fill="#222" stroke="#222" stroke-width="0.1">SRC-1</text>
<text x="91" y="230.4" font-size="7.6" text-anchor="start" fill="#222" stroke="#222" stroke-width="0.1">α12</text>
<text x="123.3" y="150.5" font-size="9.8" text-anchor="start" fill="#111" font-weight="bold">F</text>
<use href="#Fg"/>
<use href="#Fg" x="103" y="1.5"/>
<use href="#Fg" x="205" y="2"/>
<g fill="none" stroke-linecap="round" stroke-linejoin="round">
<path d="M199.3 185.9l-1.8 0.6l-1.1-0.6l0.2-1.2l1.5-1.2l2.4-0.4l2.4 0.8l1.6 2l0.4 2.5l-0.9 2.3l-1.8 1.6l-1.7 0.3l-0.9-0.7l0.5-1.3l1.6-1l2.5-0.2l2.3 1l1.5 2.1l0.1 2.5l-1.1 2.3l-1.8 1.3l-1.6 0.1l-0.7-0.8l0.6-1.3l1.9-1l2.5 0.1l2.2 1.2l1.3 2.2" stroke="#2c2c7c" stroke-width="2.6"/><path d="M199.3 185.9l-1.8 0.6l-1.1-0.6l0.2-1.2l1.5-1.2l2.4-0.4l2.4 0.8l1.6 2l0.4 2.5l-0.9 2.3l-1.8 1.6l-1.7 0.3l-0.9-0.7l0.5-1.3l1.6-1l2.5-0.2l2.3 1l1.5 2.1l0.1 2.5l-1.1 2.3l-1.8 1.3l-1.6 0.1l-0.7-0.8l0.6-1.3l1.9-1l2.5 0.1l2.2 1.2l1.3 2.2" stroke="#3f3f9a" stroke-width="1.5"/>
<path d="M208 200q2 2 1 6" stroke="#3f3f9a" stroke-width="0.9"/>
<path d="M195.6 197.1l-2.7 0.2l-1.7-0.5l0-0.8l1.8-0.6l2.7-0l2.8 0.8l1.6 1.5l-0.1 1.8l-1.8 1.6l-2.8 0.9l-2.6 0.1l-1.5-0.6l0.3-0.8l2-0.6l2.9 0.2l2.6 0.9l1.4 1.6l-0.5 1.8l-2 1.5l-2.8 0.7l-2.5 0l-1.2-0.6l0.6-0.8l2.2-0.5l2.9 0.3l2.5 1l1.1 1.7l-0.7 1.7l-2.3 1.4l-2.8 0.7l-2.4-0.2l-0.9-0.7l0.9-0.8l2.4-0.3l2.9 0.4l2.3 1.1l0.8 1.8l-1 1.7l-2.4 1.3" stroke="#4a1468" stroke-width="2.3"/><path d="M195.6 197.1l-2.7 0.2l-1.7-0.5l0-0.8l1.8-0.6l2.7-0l2.8 0.8l1.6 1.5l-0.1 1.8l-1.8 1.6l-2.8 0.9l-2.6 0.1l-1.5-0.6l0.3-0.8l2-0.6l2.9 0.2l2.6 0.9l1.4 1.6l-0.5 1.8l-2 1.5l-2.8 0.7l-2.5 0l-1.2-0.6l0.6-0.8l2.2-0.5l2.9 0.3l2.5 1l1.1 1.7l-0.7 1.7l-2.3 1.4l-2.8 0.7l-2.4-0.2l-0.9-0.7l0.9-0.8l2.4-0.3l2.9 0.4l2.3 1.1l0.8 1.8l-1 1.7l-2.4 1.3" stroke="#6a2a8c" stroke-width="1.2"/>
<path d="M196 214q-3 2-2 5" stroke="#6a2a8c" stroke-width="0.9"/>
<path d="M293 227c-4 3-6 8-2 10s5-3 8 0 3 7 5 9 3 2 4 2" stroke="#9a9a9a" stroke-width="0.8"/>
<path d="M304 256c-1-6 5-8 9-6s4 8 1 10" stroke="#5a1a7a" stroke-width="2.2"/>
<ellipse cx="305" cy="255.5" rx="1.9" ry="2.6" fill="#5a1a7a"/><ellipse cx="312" cy="259.8" rx="2.2" ry="1.8" fill="#5a1a7a"/>
<path d="M314 252q4 0 5 4t0 8" stroke="#6a2a8c" stroke-width="0.9"/>
<path d="M405.0 189.3l-1.9 0.1l-1.2-0.7l-0-0.9l1.2-0.7l1.9 0.1l1.9 0.9l1.2 1.7l0 1.9l-1.2 1.7l-1.9 0.9l-1.9 0.1l-1.2-0.7l-0-0.9l1.2-0.7l1.9 0.1l1.9 0.9l1.2 1.7l0 1.9l-1.2 1.7l-1.9 0.9l-1.9 0.1l-1.2-0.7l-0-0.9l1.2-0.7l1.9 0.1l1.9 0.9l1.2 1.7l0 1.9l-1.2 1.7l-1.9 0.9l-1.9 0.1l-1.2-0.7l-0-0.9l1.2-0.7" stroke="#4a1468" stroke-width="2.5"/><path d="M405.0 189.3l-1.9 0.1l-1.2-0.7l-0-0.9l1.2-0.7l1.9 0.1l1.9 0.9l1.2 1.7l0 1.9l-1.2 1.7l-1.9 0.9l-1.9 0.1l-1.2-0.7l-0-0.9l1.2-0.7l1.9 0.1l1.9 0.9l1.2 1.7l0 1.9l-1.2 1.7l-1.9 0.9l-1.9 0.1l-1.2-0.7l-0-0.9l1.2-0.7l1.9 0.1l1.9 0.9l1.2 1.7l0 1.9l-1.2 1.7l-1.9 0.9l-1.9 0.1l-1.2-0.7l-0-0.9l1.2-0.7" stroke="#6a2a8c" stroke-width="1.4"/>
</g>
<text x="206.3" y="185.4" font-size="7.6" text-anchor="start" fill="#4a58ac" stroke="#4a58ac" stroke-width="0.1">SRC-2</text>
<text x="197.2" y="221.3" font-size="7.6" text-anchor="start" fill="#8a3aa6" stroke="#8a3aa6" stroke-width="0.1">α12</text>
<text x="175.5" y="257.6" font-size="8.9" text-anchor="middle" fill="#2a2a2a" stroke="#2a2a2a" stroke-width="0.1">ERα, 1GWR</text>
<text x="276.7" y="257.6" font-size="8.9" text-anchor="middle" fill="#2a2a2a" stroke="#2a2a2a" stroke-width="0.1">ERα, 1A52</text>
<text x="377.5" y="257.6" font-size="8.9" text-anchor="middle" fill="#2a2a2a" stroke="#2a2a2a" stroke-width="0.1">ERα, 2OUZ</text>
</svg></body></html>
